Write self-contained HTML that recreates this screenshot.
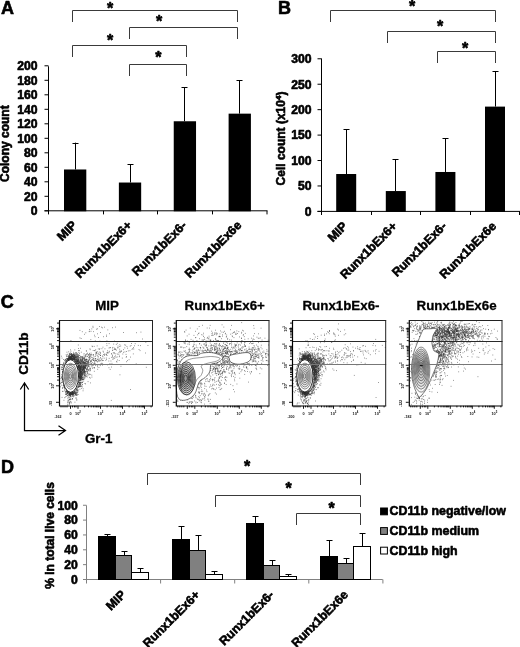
<!DOCTYPE html><html><head><meta charset="utf-8"><title>Figure</title><style>html,body{margin:0;padding:0;background:#fff}svg{display:block}text{stroke:#000;stroke-width:.6px;stroke-linejoin:round}text.t{stroke:none}</style></head><body><svg width="520" height="647" viewBox="0 0 520 647" font-family="Liberation Sans, Arial, sans-serif" font-weight="bold" fill="#000"><text x="1" y="13.9" font-size="18" text-anchor="start" >A</text>
<line x1="48.5" y1="66.3" x2="48.5" y2="211.3" stroke="#000" stroke-width="1"/>
<line x1="44.5" y1="210.8" x2="48.5" y2="210.8" stroke="#000" stroke-width="1"/>
<text x="37.5" y="215.10000000000002" font-size="12.2" text-anchor="end" >0</text>
<line x1="44.5" y1="196.3" x2="48.5" y2="196.3" stroke="#000" stroke-width="1"/>
<text x="37.5" y="200.60000000000002" font-size="12.2" text-anchor="end" >20</text>
<line x1="44.5" y1="181.8" x2="48.5" y2="181.8" stroke="#000" stroke-width="1"/>
<text x="37.5" y="186.10000000000002" font-size="12.2" text-anchor="end" >40</text>
<line x1="44.5" y1="167.3" x2="48.5" y2="167.3" stroke="#000" stroke-width="1"/>
<text x="37.5" y="171.60000000000002" font-size="12.2" text-anchor="end" >60</text>
<line x1="44.5" y1="152.8" x2="48.5" y2="152.8" stroke="#000" stroke-width="1"/>
<text x="37.5" y="157.10000000000002" font-size="12.2" text-anchor="end" >80</text>
<line x1="44.5" y1="138.3" x2="48.5" y2="138.3" stroke="#000" stroke-width="1"/>
<text x="37.5" y="142.60000000000002" font-size="12.2" text-anchor="end" >100</text>
<line x1="44.5" y1="123.80000000000001" x2="48.5" y2="123.80000000000001" stroke="#000" stroke-width="1"/>
<text x="37.5" y="128.10000000000002" font-size="12.2" text-anchor="end" >120</text>
<line x1="44.5" y1="109.30000000000001" x2="48.5" y2="109.30000000000001" stroke="#000" stroke-width="1"/>
<text x="37.5" y="113.60000000000001" font-size="12.2" text-anchor="end" >140</text>
<line x1="44.5" y1="94.80000000000001" x2="48.5" y2="94.80000000000001" stroke="#000" stroke-width="1"/>
<text x="37.5" y="99.10000000000001" font-size="12.2" text-anchor="end" >160</text>
<line x1="44.5" y1="80.30000000000001" x2="48.5" y2="80.30000000000001" stroke="#000" stroke-width="1"/>
<text x="37.5" y="84.60000000000001" font-size="12.2" text-anchor="end" >180</text>
<line x1="44.5" y1="65.80000000000001" x2="48.5" y2="65.80000000000001" stroke="#000" stroke-width="1"/>
<text x="37.5" y="70.10000000000001" font-size="12.2" text-anchor="end" >200</text>
<line x1="44.5" y1="210.8" x2="267.5" y2="210.8" stroke="#000" stroke-width="1"/>
<line x1="48.5" y1="210.8" x2="48.5" y2="214.4" stroke="#000" stroke-width="1"/>
<line x1="103.5" y1="210.8" x2="103.5" y2="214.4" stroke="#000" stroke-width="1"/>
<line x1="157.5" y1="210.8" x2="157.5" y2="214.4" stroke="#000" stroke-width="1"/>
<line x1="212.5" y1="210.8" x2="212.5" y2="214.4" stroke="#000" stroke-width="1"/>
<line x1="267" y1="210.8" x2="267" y2="214.4" stroke="#000" stroke-width="1"/>
<text x="9.5" y="143.7" font-size="12" text-anchor="middle" transform="rotate(-90 9.5 143.7)" >Colony count</text>
<rect x="64.00" y="169.48" width="22.3" height="41.82" fill="#000"/>
<line x1="75.5" y1="169.47500000000002" x2="75.5" y2="142.65000000000003" stroke="#000" stroke-width="1"/>
<line x1="72.5" y1="143.5" x2="78.5" y2="143.5" stroke="#000" stroke-width="1"/>
<text x="77.65" y="226.0" font-size="12.35" text-anchor="end" transform="rotate(-45 77.65 226.0)" >MIP</text>
<rect x="118.87" y="182.53" width="22.3" height="28.77" fill="#000"/>
<line x1="130.5" y1="182.525" x2="130.5" y2="164.03750000000002" stroke="#000" stroke-width="1"/>
<line x1="127.5" y1="164.5" x2="133.5" y2="164.5" stroke="#000" stroke-width="1"/>
<text x="132.52" y="226.0" font-size="12.35" text-anchor="end" transform="rotate(-45 132.52 226.0)" >Runx1bEx6+</text>
<rect x="173.74" y="121.26" width="22.3" height="90.04" fill="#000"/>
<line x1="184.5" y1="121.26250000000002" x2="184.5" y2="87.18750000000001" stroke="#000" stroke-width="1"/>
<line x1="181.5" y1="87.5" x2="187.5" y2="87.5" stroke="#000" stroke-width="1"/>
<text x="187.39000000000001" y="226.0" font-size="12.35" text-anchor="end" transform="rotate(-45 187.39000000000001 226.0)" >Runx1bEx6-</text>
<rect x="228.61" y="113.65" width="22.3" height="97.65" fill="#000"/>
<line x1="239.5" y1="113.65000000000002" x2="239.5" y2="80.30000000000001" stroke="#000" stroke-width="1"/>
<line x1="236.5" y1="80.5" x2="242.5" y2="80.5" stroke="#000" stroke-width="1"/>
<text x="242.26" y="226.0" font-size="12.35" text-anchor="end" transform="rotate(-45 242.26 226.0)" >Runx1bEx6e</text>
<path d="M72.5 22.0V10.5H237.5V22.0" fill="none" stroke="#3a3a3a" stroke-width="1"/>
<path d="M129.5 39.0V27.5H237.5V39.0" fill="none" stroke="#3a3a3a" stroke-width="1"/>
<path d="M72.5 57.0V45.5H186.5V57.0" fill="none" stroke="#3a3a3a" stroke-width="1"/>
<path d="M129.5 76.0V64.5H186.5V76.0" fill="none" stroke="#3a3a3a" stroke-width="1"/>
<text x="110" y="13.8" font-size="16" text-anchor="middle" >*</text>
<text x="159" y="27" font-size="16" text-anchor="middle" >*</text>
<text x="110" y="45.5" font-size="16" text-anchor="middle" >*</text>
<text x="158.4" y="63" font-size="16" text-anchor="middle" >*</text>
<text x="278" y="13.9" font-size="18" text-anchor="start" >B</text>
<line x1="321.5" y1="58.5" x2="321.5" y2="211.9" stroke="#000" stroke-width="1"/>
<line x1="317.5" y1="211.4" x2="321.5" y2="211.4" stroke="#000" stroke-width="1"/>
<text x="311.5" y="215.70000000000002" font-size="12.2" text-anchor="end" >0</text>
<line x1="317.5" y1="185.965" x2="321.5" y2="185.965" stroke="#000" stroke-width="1"/>
<text x="311.5" y="190.26500000000001" font-size="12.2" text-anchor="end" >50</text>
<line x1="317.5" y1="160.53" x2="321.5" y2="160.53" stroke="#000" stroke-width="1"/>
<text x="311.5" y="164.83" font-size="12.2" text-anchor="end" >100</text>
<line x1="317.5" y1="135.095" x2="321.5" y2="135.095" stroke="#000" stroke-width="1"/>
<text x="311.5" y="139.395" font-size="12.2" text-anchor="end" >150</text>
<line x1="317.5" y1="109.66" x2="321.5" y2="109.66" stroke="#000" stroke-width="1"/>
<text x="311.5" y="113.96" font-size="12.2" text-anchor="end" >200</text>
<line x1="317.5" y1="84.225" x2="321.5" y2="84.225" stroke="#000" stroke-width="1"/>
<text x="311.5" y="88.52499999999999" font-size="12.2" text-anchor="end" >250</text>
<line x1="317.5" y1="58.78999999999999" x2="321.5" y2="58.78999999999999" stroke="#000" stroke-width="1"/>
<text x="311.5" y="63.08999999999999" font-size="12.2" text-anchor="end" >300</text>
<line x1="317.5" y1="211.4" x2="520" y2="211.4" stroke="#000" stroke-width="1"/>
<line x1="321.5" y1="211.4" x2="321.5" y2="215.0" stroke="#000" stroke-width="1"/>
<line x1="371.5" y1="211.4" x2="371.5" y2="215.0" stroke="#000" stroke-width="1"/>
<line x1="420.5" y1="211.4" x2="420.5" y2="215.0" stroke="#000" stroke-width="1"/>
<line x1="470.5" y1="211.4" x2="470.5" y2="215.0" stroke="#000" stroke-width="1"/>
<line x1="519.5" y1="211.4" x2="519.5" y2="215.0" stroke="#000" stroke-width="1"/>
<text x="285.2" y="138.5" font-size="12" text-anchor="middle" transform="rotate(-90 285.2 138.5)">Cell count (x10<tspan font-size="8" dy="-4">4</tspan><tspan dy="4">)</tspan></text>
<rect x="336.20" y="174.01" width="20" height="37.89" fill="#000"/>
<line x1="346.5" y1="174.01055" x2="346.5" y2="129.4993" stroke="#000" stroke-width="1"/>
<line x1="343.5" y1="129.5" x2="349.5" y2="129.5" stroke="#000" stroke-width="1"/>
<text x="348.2" y="226.9" font-size="12.35" text-anchor="end" transform="rotate(-45 348.2 226.9)" >MIP</text>
<rect x="385.80" y="191.05" width="20" height="20.85" fill="#000"/>
<line x1="395.5" y1="191.052" x2="395.5" y2="159.0039" stroke="#000" stroke-width="1"/>
<line x1="392.5" y1="159.5" x2="398.5" y2="159.5" stroke="#000" stroke-width="1"/>
<text x="397.8" y="226.9" font-size="12.35" text-anchor="end" transform="rotate(-45 397.8 226.9)" >Runx1bEx6+</text>
<rect x="435.40" y="171.98" width="20" height="39.92" fill="#000"/>
<line x1="445.5" y1="171.97575" x2="445.5" y2="138.1472" stroke="#000" stroke-width="1"/>
<line x1="442.5" y1="138.5" x2="448.5" y2="138.5" stroke="#000" stroke-width="1"/>
<text x="447.4" y="226.9" font-size="12.35" text-anchor="end" transform="rotate(-45 447.4 226.9)" >Runx1bEx6-</text>
<rect x="485.00" y="106.61" width="20" height="105.29" fill="#000"/>
<line x1="495.5" y1="106.6078" x2="495.5" y2="70.99879999999999" stroke="#000" stroke-width="1"/>
<line x1="492.5" y1="71.5" x2="498.5" y2="71.5" stroke="#000" stroke-width="1"/>
<text x="497.0" y="226.9" font-size="12.35" text-anchor="end" transform="rotate(-45 497.0 226.9)" >Runx1bEx6e</text>
<path d="M330.5 22.0V10.5H495.5V22.0" fill="none" stroke="#3a3a3a" stroke-width="1"/>
<path d="M387.5 43.0V31.5H495.5V43.0" fill="none" stroke="#3a3a3a" stroke-width="1"/>
<path d="M437.5 63.0V51.5H495.5V63.0" fill="none" stroke="#3a3a3a" stroke-width="1"/>
<text x="412" y="12" font-size="16" text-anchor="middle" >*</text>
<text x="440" y="32" font-size="16" text-anchor="middle" >*</text>
<text x="465.2" y="54" font-size="16" text-anchor="middle" >*</text>
<text x="0.7" y="308" font-size="18" text-anchor="start" >C</text>
<text x="107" y="309.5" font-size="13.33" text-anchor="middle" style="stroke-width:.3px">MIP</text>
<text x="224.7" y="309.5" font-size="13.33" text-anchor="middle" style="stroke-width:.3px">Runx1bEx6+</text>
<text x="341" y="309.5" font-size="13.33" text-anchor="middle" style="stroke-width:.3px">Runx1bEx6-</text>
<text x="456.6" y="309.5" font-size="13.33" text-anchor="middle" style="stroke-width:.3px">Runx1bEx6e</text>
<text x="27.7" y="353.6" font-size="13.6" text-anchor="middle" transform="rotate(-90 27.7 353.6)" style="stroke-width:.35px">CD11b</text>
<text x="98.7" y="442.5" font-size="13.33" text-anchor="middle" style="stroke-width:.35px">Gr-1</text>
<path d="M24.5 383V430.5H65.5M20.3 389.5L24.5 383L28.7 389.5M58.5 425.8L65.5 430.5L58.5 435.2" fill="none" stroke="#000" stroke-width="1.25"/>
<g>
<path d="M74.6 360.2h.7M79.7 380.1h.7M61.6 367.7h.7M79.8 385.5h.7M61.7 378.6h.7M65.0 362.0h.7M74.1 358.3h.7M81.4 382.6h.7M74.6 357.6h.7M70.3 358.6h.7M71.8 393.5h.7M78.2 367.6h.7M69.8 393.7h.7M79.2 385.3h.7M82.8 372.1h.7M78.1 363.1h.7M65.7 359.1h.7M78.4 363.4h.7M72.5 355.2h.7M66.2 358.6h.7M69.6 357.8h.7M77.1 362.3h.7M79.5 377.7h.7M77.9 364.6h.7M62.6 369.5h.7M75.9 359.7h.7M77.1 387.1h.7M77.7 360.1h.7M80.0 372.0h.7M75.6 361.1h.7M65.6 394.3h.7M79.9 379.3h.7M85.0 383.9h.7M71.2 357.8h.7M75.8 357.2h.7M68.9 353.6h.7M77.0 359.9h.7M71.1 358.8h.7M69.0 359.1h.7M70.6 393.8h.7M75.9 357.8h.7M72.0 392.9h.7M75.8 362.0h.7M78.7 369.0h.7M66.7 390.9h.7M70.0 357.2h.7M71.2 354.9h.7M78.0 356.8h.7M79.6 376.2h.7M78.6 369.8h.7M72.0 393.5h.7M70.5 356.4h.7M69.2 395.1h.7M80.7 377.5h.7M84.7 367.4h.7M65.9 390.6h.7M76.5 394.4h.7M81.1 360.7h.7M79.8 377.8h.7M72.2 393.9h.7M80.6 382.9h.7M71.7 359.0h.7M66.6 393.2h.7M62.1 365.5h.7M84.3 368.0h.7M71.7 357.0h.7M80.1 379.2h.7M74.1 359.1h.7M70.1 393.8h.7M75.5 362.2h.7M70.6 358.8h.7M67.0 358.5h.7M79.4 362.2h.7M78.5 352.3h.7M78.7 365.1h.7M70.9 358.7h.7M72.4 358.6h.7M71.4 356.1h.7M70.3 358.3h.7M81.3 372.6h.7M67.8 358.8h.7M62.3 371.6h.7M74.1 356.4h.7M78.4 363.3h.7M69.4 357.9h.7M80.9 374.6h.7M79.7 376.3h.7M71.3 393.2h.7M71.7 392.9h.7M86.2 374.8h.7M79.5 373.7h.7M77.2 392.3h.7M71.0 393.0h.7M79.3 377.8h.7M80.3 371.9h.7M79.8 370.1h.7M68.3 358.4h.7M81.6 374.1h.7M80.2 370.0h.7M74.6 358.1h.7M65.4 392.2h.7M77.7 361.5h.7M76.2 362.9h.7M72.6 358.6h.7M70.6 357.5h.7M72.2 392.6h.7M71.5 392.7h.7M73.1 354.8h.7M80.3 372.6h.7M81.9 384.4h.7M66.1 360.6h.7M84.6 375.5h.7M79.1 370.6h.7M75.8 360.4h.7M69.9 354.6h.7M70.6 394.2h.7M79.4 365.6h.7M80.8 376.4h.7M71.9 356.6h.7M64.3 388.8h.7M81.0 388.4h.7M82.6 379.3h.7M83.2 369.2h.7M63.8 364.7h.7M80.4 379.0h.7M78.2 387.0h.7M74.2 355.2h.7M69.7 358.4h.7M74.6 354.9h.7M78.1 367.9h.7M69.3 358.2h.7M74.5 393.0h.7M81.3 376.6h.7M66.9 391.4h.7M68.9 358.1h.7M85.3 375.2h.7M69.0 356.9h.7M64.1 360.3h.7M70.8 393.6h.7M78.0 361.2h.7M66.4 361.1h.7M77.2 359.6h.7M67.5 360.0h.7M78.2 366.7h.7M69.7 393.3h.7M75.2 361.5h.7M71.3 358.3h.7M62.0 382.3h.7M69.4 353.7h.7M78.3 362.9h.7M79.7 367.6h.7M77.7 387.1h.7M74.3 360.5h.7M70.4 358.2h.7M71.5 356.4h.7M72.9 393.3h.7M69.6 356.8h.7M75.6 392.6h.7M78.5 382.9h.7M70.4 357.5h.7M82.8 388.8h.7M84.0 377.2h.7M82.1 372.4h.7M71.3 353.8h.7M68.8 358.7h.7M70.9 357.8h.7M74.4 391.6h.7M78.6 363.8h.7M76.9 390.7h.7M80.7 363.4h.7M74.0 358.5h.7M77.7 358.6h.7M76.3 363.0h.7M79.7 366.7h.7M78.9 365.0h.7M76.7 363.3h.7M67.1 356.2h.7M81.6 373.7h.7M66.7 391.2h.7M79.1 364.5h.7M66.4 391.0h.7M81.6 378.4h.7M70.2 393.2h.7M79.1 366.9h.7M80.6 366.1h.7M80.0 374.8h.7M80.1 371.0h.7M79.3 377.1h.7M76.4 389.1h.7M83.5 377.8h.7M80.5 376.5h.7M70.3 393.0h.7M66.4 394.7h.7M68.4 359.7h.7M80.7 376.8h.7M68.0 392.3h.7M76.9 361.0h.7M71.0 393.1h.7M66.3 393.9h.7M75.6 352.5h.7M76.2 391.9h.7M69.2 359.4h.7M79.2 386.6h.7M70.2 357.2h.7M80.6 362.1h.7M78.7 382.6h.7M70.5 356.1h.7M78.4 365.7h.7M79.7 376.8h.7M74.1 358.3h.7M70.9 392.9h.7M69.1 357.1h.7M69.5 357.4h.7M72.9 394.6h.7M79.3 382.0h.7M71.6 355.7h.7M64.3 387.5h.7M70.8 394.0h.7M69.9 356.7h.7M81.2 367.3h.7M79.0 383.8h.7M64.7 361.0h.7M75.8 361.1h.7M76.3 363.1h.7M63.4 364.0h.7M62.7 364.7h.7M70.2 393.5h.7M72.7 356.4h.7M78.2 359.6h.7M79.1 368.9h.7M76.4 359.7h.7M65.0 389.0h.7M66.7 392.2h.7M75.5 362.2h.7M71.2 358.8h.7M79.0 364.3h.7M63.9 386.8h.7M68.2 359.6h.7M77.0 364.1h.7M70.4 394.6h.7M77.0 358.4h.7M69.2 395.2h.7M67.4 359.5h.7M64.9 359.7h.7M70.5 357.7h.7M74.7 360.9h.7M71.5 393.5h.7M79.7 360.9h.7M78.3 364.8h.7M80.0 363.4h.7M78.9 367.1h.7M75.5 353.2h.7M79.9 366.5h.7M69.0 393.7h.7M80.6 377.5h.7M68.2 357.9h.7M81.4 359.1h.7M78.7 355.5h.7M72.2 356.1h.7M78.3 367.7h.7M76.1 361.6h.7M80.4 360.4h.7M80.0 372.4h.7M79.3 353.4h.7M80.3 372.1h.7M77.0 363.7h.7M82.0 364.8h.7M72.3 359.4h.7M74.1 355.6h.7M77.0 389.9h.7M69.7 358.5h.7M79.7 382.4h.7M69.7 358.5h.7M79.0 372.5h.7M84.1 374.6h.7M80.2 372.1h.7M77.3 362.8h.7M79.4 377.2h.7M63.6 386.3h.7M76.7 356.7h.7M79.0 357.5h.7M68.5 359.2h.7M79.0 367.2h.7M81.0 376.5h.7M75.2 359.8h.7M74.8 393.7h.7M69.9 392.9h.7M79.0 382.8h.7M73.6 358.5h.7M80.0 364.6h.7M64.9 360.3h.7M64.7 363.8h.7M72.2 392.6h.7M71.8 393.7h.7M70.8 359.1h.7M67.0 391.5h.7M74.5 356.8h.7M83.6 373.8h.7M78.6 358.7h.7M77.1 361.3h.7M80.1 359.6h.7M79.6 383.9h.7M76.8 354.5h.7M77.9 386.6h.7M80.9 366.3h.7M67.3 393.3h.7M80.1 366.1h.7M82.0 386.9h.7M77.7 356.1h.7M80.5 371.7h.7M70.9 358.4h.7M69.3 394.4h.7M79.7 373.4h.7M77.1 361.1h.7M78.0 365.8h.7M68.6 392.7h.7M77.9 386.1h.7M78.4 382.9h.7M68.8 395.1h.7M70.8 357.7h.7M67.9 359.6h.7M63.3 385.1h.7M71.1 354.7h.7M83.6 367.4h.7M69.1 359.4h.7M65.7 391.6h.7M71.0 357.5h.7M70.0 359.1h.7M74.4 391.3h.7M80.4 370.1h.7M76.6 388.2h.7M71.5 358.3h.7M75.9 353.1h.7M83.8 372.3h.7M71.2 353.5h.7M62.3 388.5h.7M71.9 392.9h.7M67.6 391.8h.7M64.8 362.3h.7M66.9 359.0h.7M79.7 384.6h.7M72.9 394.8h.7M62.4 367.3h.7M72.1 357.1h.7M68.0 359.8h.7M72.3 394.2h.7M81.6 375.0h.7M77.3 361.4h.7M78.5 359.7h.7M78.7 370.3h.7M75.4 356.4h.7M82.0 377.9h.7M80.5 380.7h.7M67.0 360.5h.7M70.6 358.0h.7M73.3 392.1h.7M73.4 393.7h.7M82.1 375.1h.7M72.3 358.0h.7M70.8 393.3h.7M78.4 363.1h.7M69.0 394.2h.7M69.9 352.8h.7M70.6 356.2h.7M81.6 380.2h.7M63.9 387.7h.7M78.1 390.1h.7M73.6 359.7h.7M71.7 357.6h.7M73.0 359.4h.7M73.1 356.1h.7M80.6 371.1h.7M73.9 359.6h.7M79.1 360.9h.7M80.0 382.9h.7M74.5 349.9h.7M65.6 360.9h.7M80.5 368.3h.7M77.7 357.3h.7M70.0 394.9h.7M64.6 388.3h.7M80.9 385.8h.7M79.1 370.8h.7M78.8 362.8h.7M77.8 363.4h.7M84.0 375.9h.7M66.9 359.4h.7M79.9 386.3h.7M61.2 374.8h.7M80.3 378.1h.7M78.1 357.7h.7M81.6 360.5h.7M80.8 368.1h.7M79.2 377.3h.7M79.7 377.3h.7M76.8 390.1h.7M79.0 365.7h.7M75.7 393.6h.7M79.5 375.8h.7M81.0 386.3h.7M70.1 393.6h.7M62.4 369.4h.7M69.5 393.0h.7M66.1 360.0h.7M79.7 386.2h.7M79.3 369.2h.7M70.6 354.4h.7M74.6 357.6h.7M70.2 358.9h.7M74.2 357.9h.7M79.2 374.3h.7M76.9 360.7h.7M80.5 383.9h.7M78.0 365.8h.7M76.1 361.4h.7M69.8 357.4h.7M65.5 393.0h.7M67.5 392.8h.7M78.3 356.1h.7M83.6 376.8h.7M79.3 370.8h.7M77.6 361.0h.7M77.8 387.4h.7M80.0 377.5h.7M71.9 356.0h.7M80.3 384.7h.7M78.9 362.6h.7M75.9 354.4h.7M76.3 362.8h.7M74.1 359.2h.7M72.8 354.8h.7M80.0 364.7h.7M73.4 392.8h.7M77.4 389.9h.7M62.1 371.6h.7M73.8 358.1h.7M76.8 390.4h.7M72.6 394.2h.7M78.5 369.3h.7M72.5 359.5h.7M70.6 393.3h.7M72.6 356.5h.7M79.4 367.6h.7M69.9 393.1h.7M71.3 355.2h.7M79.4 380.9h.7M78.3 366.6h.7M69.9 358.0h.7M81.2 378.0h.7M73.4 358.7h.7M76.6 355.5h.7M76.8 361.3h.7M80.0 369.8h.7M77.7 359.7h.7M61.7 367.5h.7M78.6 369.1h.7M81.7 382.1h.7M70.4 357.4h.7M75.0 359.6h.7M77.7 360.9h.7M76.5 363.6h.7M79.9 375.4h.7M78.5 384.6h.7M63.0 366.6h.7M78.6 369.7h.7M68.6 392.5h.7M72.7 356.1h.7M75.2 361.4h.7M73.5 356.9h.7M67.6 359.6h.7M76.4 353.1h.7M67.3 392.2h.7M73.7 356.1h.7M75.7 360.8h.7M78.3 360.3h.7M79.7 383.7h.7M70.8 357.2h.7M79.5 374.8h.7M69.2 357.4h.7M79.2 386.5h.7M81.8 361.7h.7M70.2 394.0h.7M79.7 361.6h.7M69.2 393.1h.7M69.2 392.7h.7M68.4 357.9h.7M73.1 393.9h.7M76.3 358.6h.7M72.2 393.1h.7M67.5 359.8h.7M63.3 363.5h.7M73.2 355.8h.7M78.5 361.7h.7M61.8 381.8h.7M77.8 354.5h.7M67.9 392.0h.7M80.5 373.0h.7M79.2 386.7h.7M80.8 371.9h.7M75.6 359.3h.7M71.9 359.1h.7M61.0 376.9h.7M77.0 361.2h.7M74.7 353.2h.7M71.2 393.8h.7M80.2 382.3h.7M79.2 374.0h.7M76.6 359.7h.7M80.7 370.0h.7M66.3 360.8h.7M73.4 359.4h.7M77.7 358.4h.7M80.8 366.3h.7M71.0 357.9h.7M73.1 392.9h.7M78.1 386.8h.7M75.8 360.2h.7M75.7 356.9h.7M75.6 359.2h.7M80.1 371.6h.7M61.1 377.5h.7M75.8 357.4h.7M65.8 362.0h.7M79.9 380.5h.7M77.5 386.1h.7M69.1 393.8h.7M84.8 367.6h.7M64.6 363.2h.7M79.4 373.3h.7M70.2 394.3h.7M80.5 383.1h.7M66.0 361.2h.7M68.9 394.4h.7M74.5 360.5h.7M80.1 362.8h.7M69.1 358.4h.7M71.3 359.0h.7M73.5 357.6h.7M68.6 357.5h.7M72.9 354.1h.7M76.7 361.6h.7M73.4 358.3h.7M74.6 393.6h.7M60.6 378.5h.7M69.8 359.0h.7M79.8 376.5h.7M85.6 362.2h.7M74.4 359.3h.7M81.0 376.1h.7M72.0 356.5h.7M71.5 355.9h.7M78.5 366.0h.7M77.0 361.3h.7M81.9 382.3h.7M82.3 359.1h.7M79.6 360.9h.7M78.0 366.7h.7M70.9 359.2h.7M77.0 363.7h.7M63.1 385.5h.7M73.8 393.1h.7M74.8 357.0h.7M69.8 359.2h.7M72.8 393.9h.7M80.0 379.1h.7M69.0 357.8h.7M71.6 354.6h.7M79.7 378.5h.7M68.9 357.3h.7M80.4 378.9h.7M67.0 392.8h.7M83.1 369.7h.7M64.1 390.1h.7M66.6 393.2h.7M85.6 367.0h.7M84.5 372.3h.7M70.1 393.4h.7M81.2 378.7h.7M76.7 363.3h.7M68.0 359.8h.7M72.4 393.0h.7M66.0 391.4h.7M68.0 359.4h.7M78.8 359.3h.7M79.1 369.7h.7M79.5 364.6h.7M78.1 363.0h.7M77.0 362.9h.7M74.7 361.1h.7M81.4 379.5h.7M80.3 371.4h.7M80.7 368.1h.7M78.7 364.7h.7M63.0 364.9h.7M70.4 395.1h.7M79.2 366.4h.7M78.2 350.5h.7M71.9 359.1h.7M74.5 357.6h.7M81.6 377.5h.7M67.8 358.5h.7M79.5 372.0h.7M78.4 384.9h.7M80.5 380.1h.7M79.0 383.1h.7M73.6 353.8h.7M76.3 389.5h.7M78.1 386.2h.7M73.1 358.9h.7M63.4 365.6h.7M78.2 367.2h.7M74.8 395.4h.7M73.3 357.2h.7M79.4 382.9h.7M65.6 391.3h.7M82.5 357.1h.7M77.2 363.8h.7M71.9 394.6h.7M74.4 391.6h.7M73.0 358.2h.7M70.6 393.4h.7M71.8 358.8h.7M61.4 385.2h.7M76.5 393.3h.7M74.9 361.4h.7M74.1 354.2h.7M82.1 384.8h.7M76.5 360.6h.7M75.8 392.8h.7M77.0 353.7h.7M65.4 362.0h.7M80.0 375.5h.7M80.0 376.8h.7M67.9 358.4h.7M69.9 354.1h.7M79.2 374.8h.7M69.4 358.4h.7M80.7 378.3h.7M63.6 387.3h.7M72.8 392.8h.7M70.4 358.5h.7M63.1 384.0h.7M77.8 366.6h.7M75.1 394.3h.7M75.7 361.2h.7M80.8 373.4h.7M70.5 393.5h.7M77.4 357.5h.7M70.9 394.6h.7M70.7 353.5h.7M69.5 357.7h.7M77.6 364.9h.7M80.0 363.6h.7M77.0 356.1h.7M76.3 357.3h.7M66.7 358.3h.7M79.6 362.1h.7M66.3 391.1h.7M81.7 379.7h.7M84.3 368.1h.7M70.7 356.4h.7M77.3 360.5h.7M81.5 379.0h.7M80.3 369.5h.7M70.6 393.2h.7M79.1 384.7h.7M78.3 363.9h.7M69.9 393.8h.7M82.1 382.4h.7M72.1 358.8h.7M68.1 393.4h.7M71.3 394.3h.7M74.1 359.4h.7M67.0 359.1h.7M74.8 358.6h.7M78.3 364.1h.7M81.6 369.0h.7M75.0 355.8h.7M70.2 395.0h.7M70.5 393.7h.7M80.3 379.5h.7M69.4 393.6h.7M71.6 355.9h.7M79.1 365.8h.7M69.1 395.1h.7M76.0 359.7h.7M67.4 393.0h.7M83.4 381.1h.7M78.2 365.6h.7M70.3 395.9h.7M72.3 354.7h.7M72.1 355.8h.7M69.0 356.9h.7M67.2 395.6h.7M73.4 392.7h.7M67.4 388.1h.7M73.8 354.8h.7M68.2 396.9h.7M74.2 380.1h.7M74.2 366.9h.7M67.9 369.4h.7M77.9 376.4h.7M81.3 376.5h.7M82.0 375.8h.7M65.1 396.9h.7M73.5 387.4h.7M72.8 370.9h.7M72.5 362.2h.7M65.0 367.9h.7M68.7 361.2h.7M71.0 378.6h.7M82.7 390.8h.7M71.3 384.9h.7M70.4 379.8h.7M71.4 369.1h.7M72.0 358.5h.7M74.0 370.8h.7M65.6 373.5h.7M74.6 366.2h.7M74.2 380.2h.7M80.2 359.4h.7M71.0 380.9h.7M79.9 374.5h.7M75.8 357.0h.7M68.4 394.8h.7M70.0 399.6h.7M67.6 373.6h.7M62.8 385.7h.7M73.1 396.8h.7M72.5 371.8h.7M63.8 377.3h.7M76.8 381.1h.7M78.4 381.8h.7M71.3 381.8h.7M72.6 359.8h.7M81.1 375.3h.7M65.8 381.7h.7M73.2 385.4h.7M79.6 337.9h.7M74.7 390.8h.7M66.4 356.5h.7M73.1 378.1h.7M73.5 361.8h.7M69.0 378.2h.7M75.7 397.7h.7M73.2 367.6h.7M70.9 374.1h.7M66.1 385.4h.7M61.7 380.3h.7M72.3 378.1h.7M78.8 370.9h.7M72.1 384.4h.7M63.0 375.3h.7M72.0 385.5h.7M67.2 385.8h.7M73.7 357.5h.7M63.4 362.4h.7M72.4 377.0h.7M75.6 382.5h.7M68.5 388.2h.7M76.2 378.4h.7M74.3 359.5h.7M73.6 362.6h.7M65.0 373.8h.7M72.4 374.1h.7M69.8 364.6h.7M72.6 366.3h.7M63.8 379.3h.7M79.7 367.1h.7M65.7 392.9h.7M81.1 367.8h.7M70.4 377.9h.7M88.0 369.7h.7M77.1 377.7h.7M61.5 366.8h.7M64.7 382.7h.7M72.2 394.8h.7M70.1 379.1h.7M72.0 376.4h.7M84.5 372.9h.7M79.8 386.2h.7M68.2 384.1h.7M69.5 377.1h.7M72.5 374.9h.7M69.0 393.6h.7M70.1 383.5h.7M81.0 378.2h.7M77.3 388.2h.7M77.7 391.8h.7M63.6 400.3h.7M71.8 355.3h.7M68.0 360.8h.7M71.5 358.3h.7M66.0 380.6h.7M72.5 365.7h.7M70.3 374.4h.7M72.0 374.8h.7M70.4 385.4h.7M62.6 373.1h.7M72.3 370.2h.7M68.5 371.4h.7M72.8 388.5h.7M70.6 372.4h.7M73.6 371.5h.7M60.8 382.5h.7M69.5 369.4h.7M75.1 374.1h.7M68.4 351.8h.7M62.0 379.1h.7M70.9 380.2h.7M72.8 369.1h.7M64.5 365.6h.7M70.8 362.4h.7M75.8 358.3h.7M61.6 376.9h.7M61.7 397.4h.7M66.0 376.7h.7M70.2 366.3h.7M61.7 358.1h.7M76.4 384.5h.7M83.7 353.6h.7M74.7 373.6h.7M76.3 367.3h.7M75.6 383.4h.7M75.0 389.9h.7M70.6 392.8h.7M67.7 395.4h.7M67.1 376.9h.7M77.4 380.7h.7M72.1 394.0h.7M63.3 369.2h.7M80.1 375.2h.7M60.0 383.6h.7M65.0 394.4h.7M78.0 366.2h.7M78.8 362.6h.7M76.8 379.4h.7M70.9 359.3h.7M70.0 349.8h.7M68.4 355.4h.7M78.4 361.3h.7M73.7 368.4h.7M83.5 378.8h.7M72.0 367.6h.7M77.0 366.1h.7M63.7 377.8h.7M62.2 378.9h.7M75.9 390.2h.7M73.1 376.6h.7M75.8 389.0h.7M69.8 361.9h.7M67.2 362.6h.7M66.6 375.7h.7M73.5 376.0h.7M72.0 370.8h.7M74.0 384.0h.7M75.9 390.1h.7M70.0 372.8h.7M81.1 373.4h.7M73.9 370.3h.7M77.0 368.2h.7M66.0 376.6h.7M69.1 385.4h.7M69.5 377.3h.7M70.4 379.3h.7M68.1 388.9h.7M63.6 373.9h.7M67.6 383.9h.7M71.8 380.4h.7M69.8 367.7h.7M65.3 373.8h.7M68.6 379.4h.7M73.6 385.2h.7M71.0 366.8h.7M65.7 378.1h.7M73.6 396.1h.7M72.6 394.4h.7M82.1 358.9h.7M78.4 385.0h.7M79.1 371.8h.7M76.9 367.4h.7M71.2 375.4h.7M81.6 368.5h.7M76.9 373.5h.7M67.6 379.4h.7M75.3 365.5h.7M75.2 365.5h.7M66.7 379.5h.7M70.3 364.5h.7M62.5 379.0h.7M73.0 369.3h.7M72.6 357.4h.7M73.8 378.8h.7M73.2 367.5h.7M72.0 376.3h.7M77.6 375.7h.7M73.0 366.3h.7M76.4 386.2h.7M68.8 383.3h.7M73.3 373.8h.7M64.4 397.7h.7M61.2 382.7h.7M69.5 388.8h.7M69.2 376.4h.7M75.0 378.7h.7M68.7 383.9h.7M73.8 385.2h.7M68.7 375.7h.7M69.4 366.5h.7M73.0 379.0h.7M79.5 368.1h.7M73.8 387.0h.7M71.0 376.0h.7M72.3 366.9h.7M66.1 389.8h.7M72.6 373.8h.7M64.7 379.2h.7M78.2 359.4h.7M66.6 389.5h.7M79.6 389.2h.7M68.5 383.0h.7M67.4 382.6h.7M69.6 378.0h.7M79.1 375.7h.7M70.3 376.2h.7M73.1 368.6h.7M72.8 381.3h.7M80.3 348.3h.7M65.0 363.9h.7M76.5 400.3h.7M72.7 375.9h.7M77.9 345.0h.7M70.6 340.5h.7M72.5 369.0h.7M68.9 379.9h.7M68.3 388.8h.7M71.6 379.3h.7M85.7 364.2h.7M76.8 363.6h.7M78.5 382.9h.7M72.4 385.8h.7M80.5 386.7h.7M71.6 374.4h.7M77.8 356.0h.7M68.3 381.8h.7M74.8 394.5h.7M81.4 374.6h.7M74.1 359.3h.7M70.6 378.3h.7M70.3 376.2h.7M75.0 363.0h.7M68.5 356.5h.7M78.0 360.6h.7M62.2 387.5h.7M70.4 386.3h.7M69.6 399.5h.7M75.6 375.1h.7M72.2 372.4h.7M76.1 395.4h.7M69.3 363.8h.7M74.9 385.5h.7M63.3 370.7h.7M66.1 383.5h.7M74.4 365.7h.7M65.4 385.2h.7M60.2 386.8h.7M70.7 396.7h.7M77.1 366.3h.7M70.1 372.5h.7M67.6 377.6h.7M76.9 356.1h.7M70.3 392.1h.7M75.7 364.3h.7M67.1 367.3h.7M62.7 391.4h.7M72.0 367.1h.7M63.7 374.0h.7M68.8 395.3h.7M69.1 377.3h.7M77.5 380.0h.7M70.6 351.2h.7M79.3 378.5h.7M69.2 375.0h.7M66.3 367.2h.7M63.4 383.9h.7M74.5 375.8h.7M75.9 379.2h.7M72.3 364.9h.7M74.9 386.8h.7M75.1 387.4h.7M69.0 365.2h.7M78.5 365.7h.7M72.9 372.3h.7M71.7 372.0h.7M68.6 356.5h.7M82.1 372.9h.7M61.0 369.3h.7M65.4 369.3h.7M80.6 368.6h.7M75.7 380.0h.7M64.8 391.3h.7M62.3 372.4h.7M69.6 389.7h.7M72.3 373.4h.7M67.2 377.8h.7M71.8 383.0h.7M79.3 380.0h.7M71.7 373.3h.7M80.4 373.6h.7M71.5 394.9h.7M80.2 377.7h.7M71.0 368.2h.7M77.5 367.6h.7M76.9 364.2h.7M72.2 379.2h.7M72.4 377.3h.7M73.7 361.8h.7M65.5 375.9h.7M81.5 369.6h.7M66.5 369.8h.7M71.8 388.0h.7M68.5 382.5h.7M72.6 370.7h.7M66.4 375.4h.7M67.6 382.5h.7M62.0 391.4h.7M75.8 379.7h.7M79.8 378.3h.7M62.3 379.4h.7M74.1 366.5h.7M65.4 382.3h.7M74.4 369.2h.7M70.3 370.0h.7M68.5 375.6h.7M77.5 354.9h.7M69.7 393.5h.7M73.3 376.0h.7M76.2 362.1h.7M65.0 359.5h.7M63.6 381.0h.7M84.9 365.5h.7M79.8 373.1h.7M84.1 369.2h.7M75.8 371.5h.7M73.7 376.8h.7M79.3 368.4h.7M87.1 372.2h.7M83.7 369.7h.7M82.7 366.3h.7M81.9 378.8h.7M79.2 368.4h.7M82.6 373.4h.7M84.9 362.9h.7M81.7 368.5h.7M78.0 372.8h.7M80.5 375.1h.7M83.5 364.7h.7M82.4 367.6h.7M80.0 368.7h.7M85.6 365.0h.7M76.4 369.9h.7M84.8 377.8h.7M78.6 370.3h.7M81.0 363.6h.7M83.4 368.3h.7M83.0 379.5h.7M81.2 373.9h.7M84.9 364.5h.7M80.1 378.4h.7M84.5 368.5h.7M78.5 376.4h.7M83.8 378.7h.7M87.0 369.8h.7M83.0 369.2h.7M80.3 372.3h.7M82.9 372.0h.7M85.7 368.4h.7M80.3 374.7h.7M87.2 361.8h.7M83.5 371.1h.7M83.9 370.6h.7M81.8 369.2h.7M87.7 373.7h.7M77.5 360.8h.7M83.5 365.2h.7M80.4 363.1h.7M83.3 368.4h.7M80.3 375.1h.7M90.1 370.7h.7M86.0 364.7h.7M84.3 367.7h.7M85.9 369.5h.7M82.0 372.2h.7M79.7 375.0h.7M87.1 364.2h.7M83.9 360.2h.7M85.2 371.4h.7M78.7 380.3h.7M82.5 361.0h.7M77.6 377.0h.7M81.2 375.4h.7M77.0 372.8h.7M85.3 363.9h.7M84.3 366.2h.7M83.2 370.2h.7M89.5 358.2h.7M84.7 373.9h.7M78.4 372.6h.7M89.7 369.0h.7M72.3 375.5h.7M76.5 375.1h.7M79.7 368.6h.7M79.3 372.9h.7M80.6 366.3h.7M81.4 372.0h.7M79.3 376.9h.7M76.6 375.4h.7M80.8 377.9h.7M80.0 367.9h.7M77.7 382.2h.7M84.1 362.8h.7M81.0 365.7h.7M87.1 367.8h.7M75.4 375.4h.7M85.1 367.3h.7M83.7 367.8h.7M82.8 370.0h.7M79.8 372.9h.7M82.6 368.9h.7M79.8 366.3h.7M82.9 372.8h.7M74.1 372.8h.7M86.6 370.6h.7M79.7 377.7h.7M78.8 368.1h.7M88.5 362.8h.7M81.4 362.1h.7M78.8 366.3h.7M81.6 361.1h.7M85.6 365.2h.7M80.1 367.9h.7M84.6 375.0h.7M80.8 378.2h.7M87.4 372.0h.7M83.1 361.7h.7M84.3 365.9h.7M82.7 360.0h.7M81.2 371.3h.7M79.0 373.2h.7M87.6 366.6h.7M79.8 382.5h.7M75.0 370.3h.7M83.5 365.7h.7M74.5 376.3h.7M84.9 363.7h.7M87.0 368.4h.7M86.0 359.3h.7M82.1 377.2h.7M88.8 370.9h.7M82.1 370.4h.7M80.0 376.3h.7M79.8 371.8h.7M75.3 367.3h.7M88.0 365.5h.7M82.8 358.5h.7M82.0 379.5h.7M77.1 361.7h.7M81.6 367.3h.7M81.4 364.0h.7M77.6 366.9h.7M84.2 367.7h.7M84.8 362.3h.7M84.1 366.0h.7M82.4 373.8h.7M82.2 367.7h.7M76.6 373.8h.7M84.7 364.6h.7M81.9 361.2h.7M77.7 374.7h.7M86.4 364.9h.7M76.5 371.7h.7M76.9 372.0h.7M88.5 366.3h.7M81.6 374.9h.7M80.8 372.0h.7M82.8 371.2h.7M77.2 376.5h.7M85.0 356.4h.7M73.1 371.8h.7M87.1 366.0h.7M84.4 370.5h.7M85.1 364.3h.7M80.1 372.7h.7M84.1 370.8h.7M83.2 366.3h.7M85.8 369.1h.7M85.7 354.6h.7M85.5 355.3h.7M82.8 365.8h.7M82.5 366.9h.7M81.1 371.2h.7M83.3 364.8h.7M73.6 371.9h.7M83.9 364.1h.7M83.5 366.7h.7M78.9 377.5h.7M87.7 365.0h.7M81.9 374.3h.7M77.6 368.5h.7M85.9 371.1h.7M80.4 366.9h.7M83.3 361.8h.7M80.4 369.6h.7M73.8 378.4h.7M84.7 372.8h.7M77.3 366.8h.7M79.4 365.2h.7M89.0 359.7h.7M81.0 371.3h.7M83.6 375.4h.7M78.4 376.4h.7M82.6 363.4h.7M82.6 362.3h.7M87.6 362.0h.7M85.5 373.4h.7M80.0 366.6h.7M82.5 364.1h.7M85.1 368.1h.7M79.5 368.0h.7M84.5 360.7h.7M87.8 361.5h.7M81.4 365.5h.7M87.6 369.5h.7M86.5 369.5h.7M82.4 377.6h.7M84.3 370.0h.7M84.1 371.7h.7M83.0 368.0h.7M76.7 383.5h.7M77.7 362.2h.7M79.7 380.7h.7M86.2 363.5h.7M83.0 368.7h.7M75.4 372.8h.7M83.1 374.5h.7M78.0 361.4h.7M76.8 375.0h.7M82.4 370.0h.7M82.6 367.3h.7M77.5 375.1h.7M83.4 371.4h.7M86.3 360.3h.7M74.2 366.5h.7M89.4 359.7h.7M83.5 368.4h.7M84.6 383.5h.7M80.3 369.9h.7M80.1 372.2h.7M83.9 363.5h.7M86.6 371.9h.7M83.6 367.9h.7M81.3 362.0h.7M84.3 363.1h.7M80.4 375.6h.7M79.0 369.2h.7M85.0 376.5h.7M79.8 376.6h.7M79.9 373.0h.7M83.7 362.7h.7M85.6 375.8h.7M82.3 370.7h.7M78.1 381.2h.7M82.3 363.1h.7M84.7 360.4h.7M79.8 360.7h.7M86.8 377.0h.7M79.9 367.9h.7M80.1 368.2h.7M84.0 375.3h.7M78.7 374.2h.7M76.0 381.4h.7M81.8 366.3h.7M87.3 365.2h.7M86.8 371.4h.7M87.7 361.5h.7M82.3 371.2h.7M81.4 377.5h.7M79.7 376.2h.7M86.7 356.5h.7M78.8 367.5h.7M80.2 372.8h.7M81.5 370.3h.7M80.5 370.2h.7M83.7 372.0h.7M79.4 370.9h.7M79.5 370.5h.7M77.2 377.7h.7M84.4 367.2h.7M79.8 369.0h.7M79.8 363.6h.7M87.7 381.6h.7M77.9 366.8h.7M84.1 371.0h.7M76.8 364.0h.7M83.9 358.4h.7M86.9 363.5h.7M82.4 369.3h.7M80.2 370.2h.7M81.1 376.4h.7M81.8 369.6h.7M80.3 367.7h.7M79.6 371.4h.7M88.3 370.4h.7M82.9 377.1h.7M85.5 368.0h.7M81.5 364.5h.7M82.9 367.3h.7M76.7 367.1h.7M88.7 365.8h.7M83.8 369.3h.7M80.5 372.9h.7M85.8 365.3h.7M83.8 373.3h.7M80.5 371.5h.7M79.6 374.3h.7M80.8 376.0h.7M79.5 379.7h.7M81.0 366.1h.7M79.0 375.0h.7M79.2 380.5h.7M86.5 368.9h.7M77.3 372.9h.7M79.6 362.4h.7M83.5 379.3h.7M80.3 374.8h.7M86.5 361.6h.7M80.9 371.7h.7M83.7 362.7h.7M82.8 368.4h.7M85.3 359.3h.7M80.2 368.4h.7M81.0 373.8h.7M80.0 384.5h.7M79.7 375.4h.7M85.6 371.7h.7M81.4 365.9h.7M81.2 373.4h.7M82.5 372.1h.7M84.1 363.7h.7M78.9 378.9h.7M80.4 362.9h.7M88.4 360.8h.7M78.9 376.6h.7M78.3 368.0h.7M85.7 362.9h.7M90.6 363.8h.7M91.2 363.5h.7M82.3 366.2h.7M81.3 367.6h.7M82.0 373.3h.7M77.8 368.1h.7M75.0 382.1h.7M81.8 369.6h.7M81.9 374.6h.7M83.2 372.9h.7M81.5 369.3h.7M81.9 360.5h.7M85.8 359.1h.7M78.7 375.3h.7M82.3 373.4h.7M77.6 360.7h.7M76.4 356.5h.7M78.8 355.2h.7M71.3 359.0h.7M70.9 356.8h.7M70.4 359.7h.7M63.0 359.5h.7M75.3 356.9h.7M73.6 355.1h.7M75.5 363.1h.7M68.4 359.8h.7M71.4 356.3h.7M69.9 356.6h.7M67.2 354.3h.7M77.4 357.0h.7M73.5 357.6h.7M73.3 353.9h.7M68.3 358.3h.7M75.1 354.7h.7M69.6 354.9h.7M73.9 357.7h.7M71.7 355.7h.7M72.8 357.1h.7M69.0 357.7h.7M69.3 358.9h.7M73.8 355.6h.7M73.7 357.1h.7M69.1 355.2h.7M65.8 354.7h.7M72.8 359.4h.7M69.4 357.3h.7M72.8 358.6h.7M73.2 359.5h.7M74.3 355.5h.7M73.0 352.3h.7M71.0 357.0h.7M73.6 356.4h.7M74.5 359.6h.7M68.7 355.9h.7M72.5 358.0h.7M72.1 358.7h.7M67.5 358.6h.7M75.7 359.2h.7M73.1 356.5h.7M73.0 356.9h.7M66.0 355.8h.7M71.5 356.0h.7M68.3 356.5h.7M70.3 357.1h.7M71.4 357.3h.7M75.1 357.3h.7M73.0 354.6h.7M61.3 356.2h.7M74.0 356.3h.7M69.4 354.5h.7M74.7 355.9h.7M72.5 359.3h.7M73.5 361.5h.7M71.1 358.9h.7M74.0 355.7h.7M71.8 355.9h.7M68.0 357.6h.7M68.9 360.4h.7M69.0 355.9h.7M71.9 356.0h.7M71.8 355.8h.7M66.6 352.2h.7M67.1 360.0h.7M73.2 357.3h.7M70.0 356.7h.7M72.6 354.2h.7M68.8 355.2h.7M76.0 354.9h.7M75.7 356.1h.7M81.1 356.8h.7M71.7 359.7h.7M74.7 358.9h.7M67.9 359.3h.7M77.5 356.8h.7M69.9 354.8h.7M75.2 357.6h.7M71.6 354.5h.7M77.3 358.8h.7M71.5 360.0h.7M68.3 358.8h.7M68.1 359.8h.7M70.6 359.4h.7M70.1 357.8h.7M75.6 355.2h.7M71.9 355.3h.7M73.7 392.8h.7M70.7 393.6h.7M74.5 391.9h.7M71.5 393.3h.7M70.2 392.4h.7M71.2 394.4h.7M67.7 394.5h.7M68.6 394.0h.7M77.3 392.1h.7M71.4 393.5h.7M74.1 393.1h.7M67.1 390.8h.7M72.0 394.5h.7M74.3 392.9h.7M73.3 391.9h.7M74.8 393.9h.7M69.9 394.4h.7M76.0 392.3h.7M68.5 392.0h.7M68.7 393.9h.7M72.5 393.7h.7M72.1 396.4h.7M70.9 391.5h.7M65.9 394.5h.7M69.9 393.5h.7M72.6 394.9h.7M67.7 392.1h.7M71.8 393.7h.7M74.5 393.0h.7M66.4 396.3h.7M67.5 392.1h.7M72.6 391.9h.7M77.8 394.5h.7M72.9 393.1h.7M77.1 395.1h.7M69.8 396.5h.7M67.4 392.8h.7M72.3 394.3h.7M69.2 397.2h.7M75.3 392.1h.7M72.5 392.7h.7M70.5 396.0h.7M71.9 393.8h.7M71.9 391.7h.7M74.7 392.5h.7M74.9 393.1h.7M70.5 397.0h.7M72.1 392.7h.7M70.3 395.2h.7M76.3 395.2h.7M70.6 391.8h.7M69.9 393.8h.7M72.2 392.7h.7M74.8 392.1h.7M69.8 395.0h.7M72.8 393.2h.7M74.0 391.2h.7M75.7 398.4h.7M76.5 394.2h.7M76.5 394.1h.7M74.9 393.6h.7M72.1 395.0h.7M67.2 393.6h.7M75.9 388.2h.7M72.6 395.8h.7M72.4 394.4h.7M75.1 394.7h.7M66.9 392.1h.7M70.9 394.3h.7M70.5 393.8h.7M106.1 336.4h.7M100.1 332.5h.7M94.2 335.2h.7M96.1 329.2h.7M102.1 327.8h.7M93.0 331.6h.7M80.8 338.5h.7M92.7 327.4h.7M92.6 326.3h.7M109.2 333.7h.7M115.3 327.1h.7M101.2 327.2h.7M84.1 334.3h.7M98.0 337.5h.7M90.5 339.6h.7M104.0 327.2h.7M91.5 328.9h.7M112.2 327.7h.7M103.2 336.7h.7M90.7 331.3h.7M97.2 328.8h.7M79.6 330.4h.7M97.2 333.8h.7M99.0 326.5h.7M106.1 335.1h.7M94.9 340.9h.7M89.4 331.2h.7M81.9 331.7h.7M94.7 336.7h.7M107.5 329.9h.7M85.5 332.8h.7M88.8 331.6h.7M89.1 329.5h.7M70.2 398.7h.7M69.9 395.2h.7M70.8 403.0h.7M72.1 398.5h.7M67.4 395.5h.7M67.4 398.1h.7M69.6 393.6h.7M72.1 394.6h.7M68.6 397.8h.7M69.5 399.6h.7M69.4 399.9h.7M67.6 400.3h.7M68.4 402.1h.7M69.0 403.0h.7M70.9 393.7h.7M72.2 398.8h.7M67.4 402.4h.7M69.1 403.6h.7M69.0 404.3h.7M70.8 402.1h.7M70.8 399.2h.7M69.5 402.5h.7M72.2 399.1h.7M67.4 405.0h.7M70.2 401.6h.7M68.3 400.4h.7M73.6 395.5h.7M69.2 402.1h.7M69.3 399.3h.7M67.6 401.7h.7M67.6 404.0h.7M76.5 399.4h.7M74.6 402.2h.7M68.7 399.3h.7M89.1 377.4h.7M130.0 389.5h.7M105.9 358.0h.7M110.9 400.4h.7M119.6 374.8h.7M61.6 369.3h.7M126.1 361.7h.7M145.9 367.3h.7M93.5 367.7h.7M97.9 348.9h.7M83.8 362.4h.7M114.1 356.8h.7M102.7 351.2h.7M98.6 360.0h.7M81.7 366.6h.7M116.9 343.3h.7M99.9 365.6h.7M89.8 369.9h.7M101.0 359.3h.7M101.6 360.7h.7M80.9 357.7h.7M84.2 366.2h.7M94.9 363.9h.7M99.5 361.3h.7M98.9 352.1h.7M120.6 366.3h.7M84.6 374.2h.7M98.9 354.3h.7M112.5 350.0h.7M88.6 354.7h.7M87.8 359.2h.7M102.2 356.0h.7M95.5 358.7h.7M118.6 352.7h.7M84.8 367.2h.7M82.0 359.5h.7M87.1 356.3h.7M114.3 352.8h.7M83.5 369.0h.7M81.7 360.6h.7M80.2 374.0h.7M91.8 367.0h.7M86.4 376.5h.7M97.7 353.2h.7M112.7 357.6h.7M80.9 352.2h.7M93.7 356.7h.7M90.1 356.1h.7M96.4 360.7h.7M88.5 374.8h.7M74.6 358.6h.7M117.8 347.7h.7M87.3 360.0h.7M80.2 357.4h.7M100.1 364.0h.7M88.2 357.3h.7M80.8 361.5h.7M112.1 350.5h.7M118.8 360.5h.7M83.3 365.9h.7M107.6 352.6h.7M91.4 354.6h.7M81.9 358.7h.7M89.5 357.2h.7M88.4 354.7h.7M86.4 361.5h.7M79.6 371.1h.7M126.0 351.5h.7M113.7 353.6h.7M96.8 345.9h.7M132.5 348.5h.7M94.3 367.9h.7M134.8 343.6h.7M109.8 369.4h.7M83.8 361.0h.7M83.2 362.6h.7M94.3 364.0h.7M84.8 365.7h.7M84.4 360.0h.7M117.3 347.8h.7M86.1 364.1h.7M108.6 367.7h.7M94.2 350.5h.7M78.5 373.5h.7M100.3 357.5h.7M92.4 362.6h.7M88.9 357.9h.7M85.1 361.0h.7M114.3 348.2h.7M81.8 356.5h.7M107.2 350.8h.7M130.7 345.5h.7M135.8 363.8h.7M85.3 366.4h.7M81.0 372.8h.7M116.0 350.1h.7M123.1 352.3h.7M102.1 360.4h.7M109.6 363.5h.7M83.6 355.0h.7M105.5 360.4h.7M90.5 355.8h.7M106.7 355.5h.7M86.9 354.1h.7M82.4 379.5h.7M110.6 361.0h.7M119.7 351.9h.7M111.2 367.0h.7M124.5 347.9h.7M97.8 357.9h.7M117.1 359.9h.7M99.7 358.6h.7M99.0 360.2h.7M83.7 370.1h.7M88.0 366.6h.7M119.4 349.2h.7M92.1 368.3h.7M89.9 374.4h.7M89.9 378.1h.7M84.8 363.1h.7M81.9 362.2h.7M91.5 359.9h.7M91.5 375.1h.7M81.7 364.9h.7M106.3 359.4h.7M93.3 360.5h.7M95.0 358.6h.7M86.3 361.3h.7M109.6 347.6h.7M133.5 349.1h.7M84.9 367.8h.7M80.4 359.2h.7M142.2 339.0h.7M137.9 345.4h.7M90.2 360.8h.7M79.5 355.6h.7M82.3 357.4h.7M77.3 369.1h.7M90.3 382.9h.7M89.6 363.1h.7M79.9 367.6h.7M80.5 363.3h.7M93.8 346.4h.7M94.2 367.7h.7M95.2 358.9h.7M96.3 352.6h.7M97.0 355.9h.7M87.2 362.9h.7M81.6 370.8h.7M120.4 346.0h.7M113.4 344.1h.7M77.6 361.3h.7M102.0 365.2h.7M90.8 354.9h.7M81.6 362.9h.7M94.9 364.8h.7M127.0 360.6h.7M79.7 371.7h.7M83.7 373.3h.7M127.1 348.2h.7M92.9 358.4h.7M104.5 353.9h.7M140.6 332.1h.7M95.4 360.4h.7M92.8 350.5h.7M99.5 348.6h.7M96.5 355.0h.7M73.5 359.3h.7M85.0 365.1h.7M101.7 358.7h.7M88.0 363.0h.7M99.7 354.9h.7M97.4 369.3h.7M145.5 342.3h.7M92.9 354.8h.7M87.0 353.2h.7M138.7 349.5h.7M94.4 363.6h.7M119.5 344.7h.7M139.7 350.6h.7M83.7 367.5h.7M107.6 353.1h.7M114.5 349.3h.7M117.3 354.1h.7M140.1 345.6h.7M77.4 373.3h.7M77.9 365.5h.7M97.2 366.8h.7M81.6 369.5h.7M82.6 358.3h.7M117.7 346.1h.7M84.7 359.5h.7M122.5 354.0h.7M104.5 354.5h.7M111.5 354.3h.7M79.2 362.1h.7M97.3 361.9h.7M80.2 356.5h.7M87.2 373.5h.7M83.0 363.1h.7M84.5 356.1h.7M86.4 359.6h.7M88.5 362.5h.7M111.4 357.4h.7M102.9 360.5h.7M88.5 360.4h.7M88.4 360.9h.7M125.4 345.2h.7M87.5 375.1h.7M89.6 348.8h.7M83.6 362.7h.7M95.8 360.3h.7M90.2 368.3h.7M89.6 368.8h.7M85.1 368.1h.7M111.6 363.4h.7M85.5 357.0h.7M92.0 346.6h.7M132.9 353.9h.7M81.1 372.2h.7M123.3 332.5h.7M83.6 371.9h.7M85.7 363.7h.7M108.7 348.0h.7M84.4 366.7h.7M77.3 369.0h.7M89.3 354.2h.7M130.0 357.1h.7M88.0 363.6h.7M96.0 353.5h.7M89.6 357.1h.7M85.3 371.8h.7M95.3 354.8h.7M88.3 355.2h.7M97.6 359.4h.7M83.7 357.4h.7M131.7 349.4h.7M96.4 352.9h.7M79.3 373.6h.7M106.6 345.6h.7M121.1 351.4h.7M97.9 356.4h.7M78.6 363.1h.7M108.9 351.3h.7M90.8 361.1h.7M85.1 366.5h.7M104.6 348.8h.7M103.0 354.6h.7M95.4 365.3h.7M110.2 347.6h.7M80.7 361.9h.7M121.9 358.1h.7M124.6 351.9h.7M83.1 363.5h.7M90.8 361.4h.7M108.7 343.6h.7M87.6 362.4h.7M125.8 357.3h.7M90.6 362.1h.7M82.1 365.1h.7M107.4 352.7h.7M112.0 355.4h.7M81.8 364.6h.7M115.0 349.6h.7M106.4 353.0h.7M94.7 350.7h.7M81.6 361.2h.7M83.4 358.3h.7M101.6 363.5h.7M85.4 364.2h.7M79.9 364.3h.7M89.1 374.2h.7M82.5 362.6h.7M93.6 358.4h.7M85.4 362.3h.7M85.9 350.9h.7M81.8 367.8h.7M77.5 369.2h.7M83.2 367.9h.7M83.5 366.3h.7M100.0 353.4h.7M96.4 361.0h.7M84.5 371.9h.7M95.3 353.1h.7M82.6 370.7h.7M79.1 376.4h.7M77.4 363.4h.7M94.4 362.4h.7M92.4 357.7h.7M99.6 341.2h.7M86.9 363.1h.7M85.5 365.4h.7M96.8 364.7h.7M85.3 355.1h.7M78.6 366.3h.7M97.4 365.7h.7M89.4 367.0h.7M127.9 350.9h.7M145.3 353.0h.7M115.5 353.8h.7M78.0 367.2h.7M112.9 352.6h.7M102.6 347.2h.7M82.2 370.6h.7M114.3 341.1h.7M87.8 361.0h.7M93.9 371.3h.7M106.6 340.9h.7M147.6 345.5h.7M105.9 354.7h.7M76.0 371.2h.7M98.0 360.3h.7M77.9 369.5h.7M79.1 378.6h.7M115.2 355.9h.7M131.3 343.5h.7M79.3 350.6h.7M82.2 363.1h.7M81.9 376.2h.7M107.0 364.8h.7M95.2 356.3h.7M95.1 360.8h.7M124.4 344.8h.7M86.1 354.0h.7M98.8 364.7h.7M93.2 364.2h.7M79.3 362.3h.7M83.9 362.6h.7M136.0 332.7h.7M106.2 354.7h.7M82.9 361.8h.7M95.4 349.7h.7M80.7 357.0h.7M119.3 356.0h.7M84.1 371.5h.7M112.1 348.0h.7M91.7 346.1h.7M100.2 352.4h.7M91.5 360.3h.7M78.9 358.0h.7M92.8 355.1h.7M89.2 355.8h.7M82.2 374.7h.7M90.7 353.1h.7M90.3 361.7h.7M125.7 354.4h.7M92.2 359.4h.7M129.6 350.7h.7M84.0 359.2h.7M89.0 356.7h.7M116.0 361.4h.7M78.0 348.5h.7M103.0 352.1h.7M80.8 364.4h.7M115.0 348.9h.7M126.2 356.5h.7M80.0 358.6h.7M84.1 372.4h.7M80.2 364.9h.7M100.3 355.5h.7M118.9 356.7h.7M91.6 377.1h.7M85.8 359.6h.7M90.1 354.5h.7M85.9 365.2h.7M97.7 361.5h.7M102.4 364.2h.7M83.8 358.4h.7M112.0 356.4h.7M93.5 364.0h.7M83.0 366.6h.7M89.3 353.4h.7M93.2 354.8h.7M112.6 359.5h.7M134.3 345.8h.7M102.6 356.8h.7M83.9 371.7h.7M92.9 359.5h.7M93.1 360.5h.7M89.7 358.6h.7M76.2 363.4h.7M78.0 364.3h.7M119.4 346.5h.7M84.7 361.6h.7M90.5 364.8h.7M101.5 363.2h.7M79.3 367.9h.7M86.1 351.0h.7M97.9 354.1h.7M111.1 353.5h.7M86.3 364.7h.7M101.6 348.7h.7M91.0 365.9h.7M116.6 362.0h.7M104.1 355.4h.7M83.0 366.4h.7M100.1 355.5h.7M93.1 365.2h.7M82.3 357.2h.7M92.3 365.4h.7M86.3 366.4h.7M96.8 351.5h.7M108.5 361.0h.7M78.3 365.4h.7M87.2 367.7h.7M115.7 357.3h.7M123.1 349.6h.7M103.8 358.2h.7M80.3 360.8h.7M80.4 367.4h.7M84.2 357.9h.7M99.1 349.4h.7M83.6 357.1h.7M128.7 359.7h.7M94.1 361.3h.7M78.7 364.1h.7M126.6 346.5h.7M98.6 367.5h.7M116.8 356.9h.7M82.6 369.0h.7M108.8 352.1h.7M84.4 367.4h.7M113.9 349.4h.7M97.0 359.3h.7M83.6 359.5h.7M120.8 350.7h.7M85.9 359.7h.7M120.2 352.0h.7M84.9 365.3h.7M115.9 344.4h.7M95.8 352.2h.7M82.8 367.1h.7M81.8 359.6h.7M112.6 347.4h.7M74.8 369.5h.7M112.8 358.3h.7M114.4 358.4h.7M133.1 347.5h.7M91.1 357.3h.7M119.4 351.2h.7M106.5 343.6h.7M89.5 369.0h.7M89.8 349.7h.7M94.1 360.2h.7M129.8 346.2h.7M118.5 354.3h.7M108.8 358.4h.7M100.2 360.4h.7M81.2 359.3h.7M84.9 360.3h.7" stroke="#333" stroke-width=".7" fill="none"/>
<ellipse cx="70.6" cy="376.0" rx="7.9" ry="16.3" fill="#fff" stroke="#000" stroke-width=".8"/>
<ellipse cx="70.6" cy="376.3" rx="6.3" ry="13.0" fill="#000" fill-opacity=".035" stroke="#333" stroke-width=".55"/>
<ellipse cx="70.5" cy="376.3" rx="5.3" ry="10.9" fill="#000" fill-opacity=".035" stroke="#333" stroke-width=".55"/>
<ellipse cx="70.5" cy="376.3" rx="4.3" ry="8.8" fill="#000" fill-opacity=".035" stroke="#333" stroke-width=".55"/>
<ellipse cx="70.4" cy="376.3" rx="3.2" ry="6.7" fill="#000" fill-opacity=".035" stroke="#333" stroke-width=".55"/>
<ellipse cx="70.4" cy="376.3" rx="2.2" ry="4.6" fill="#000" fill-opacity=".035" stroke="#333" stroke-width=".55"/>
<ellipse cx="70.3" cy="376.3" rx="1.2" ry="2.4" fill="#000" fill-opacity=".035" stroke="#333" stroke-width=".55"/>
<line x1="59" y1="341.5" x2="153" y2="341.5" stroke="#2a2a2a" stroke-width="1"/>
<line x1="59" y1="364.5" x2="153" y2="364.5" stroke="#777" stroke-width="1"/>
<path d="M59 320.5H153M152.5 320.5V405.8" stroke="#222" stroke-width="1" fill="none"/>
<path d="M59.5 320.5V406.0H153" stroke="#000" stroke-width="1.2" fill="none"/>
<path d="M56 402.3H59M56 385.8H59M57 380.1H59M57 376.7H59M57 374.4H59M57 372.5H59M57 371.0H59M57 369.7H59M57 368.6H59M57 367.7H59M56 365.3H59M57 359.6H59M57 356.2H59M57 353.9H59M57 352.0H59M57 350.5H59M57 349.2H59M57 348.1H59M57 347.2H59M56 346.3H59M57 340.6H59M57 337.2H59M57 334.9H59M57 333.0H59M57 331.5H59M57 330.2H59M57 329.1H59M57 328.2H59M56 328.8H59M57 323.1H59M70.5 405.8V408.8M78 405.8V408.8M84.6 405.8V407.40000000000003M88.5 405.8V407.40000000000003M91.2 405.8V407.40000000000003M93.4 405.8V407.40000000000003M95.1 405.8V407.40000000000003M96.6 405.8V407.40000000000003M97.9 405.8V407.40000000000003M99.0 405.8V407.40000000000003M100.5 405.8V408.8M107.1 405.8V407.40000000000003M111.0 405.8V407.40000000000003M113.7 405.8V407.40000000000003M115.9 405.8V407.40000000000003M117.6 405.8V407.40000000000003M119.1 405.8V407.40000000000003M120.4 405.8V407.40000000000003M121.5 405.8V407.40000000000003M122.5 405.8V408.8M129.1 405.8V407.40000000000003M133.0 405.8V407.40000000000003M135.7 405.8V407.40000000000003M137.9 405.8V407.40000000000003M139.6 405.8V407.40000000000003M141.1 405.8V407.40000000000003M142.4 405.8V407.40000000000003M143.5 405.8V407.40000000000003M144.5 405.8V408.8M151.1 405.8V407.40000000000003M61.0 405.8V407.40000000000003M63.0 405.8V407.40000000000003M65.0 405.8V407.40000000000003M67.0 405.8V407.40000000000003M72.5 405.8V407.40000000000003M74.5 405.8V407.40000000000003M76.0 405.8V407.40000000000003" stroke="#000" stroke-width=".9" fill="none"/>
<text x="78" y="414.5" font-size="3.8" text-anchor="middle" fill="#111" class="t">10<tspan font-size="2.8" dy="-1.6">2</tspan></text>
<text x="100.5" y="414.5" font-size="3.8" text-anchor="middle" fill="#111" class="t">10<tspan font-size="2.8" dy="-1.6">3</tspan></text>
<text x="122.5" y="414.5" font-size="3.8" text-anchor="middle" fill="#111" class="t">10<tspan font-size="2.8" dy="-1.6">4</tspan></text>
<text x="144.5" y="414.5" font-size="3.8" text-anchor="middle" fill="#111" class="t">10<tspan font-size="2.8" dy="-1.6">5</tspan></text>
<text x="70.5" y="414.5" font-size="3.8" text-anchor="middle" fill="#111" class="t">0</text>
<text x="58" y="417.8" font-size="3.6" text-anchor="middle" fill="#111" class="t">-162</text>
<text x="54" y="385.8" font-size="3.8" text-anchor="middle" transform="rotate(-90 54 385.8)" fill="#111" class="t">10<tspan font-size="2.8" dy="-1.6">2</tspan></text>
<text x="54" y="365.3" font-size="3.8" text-anchor="middle" transform="rotate(-90 54 365.3)" fill="#111" class="t">10<tspan font-size="2.8" dy="-1.6">3</tspan></text>
<text x="54" y="346.3" font-size="3.8" text-anchor="middle" transform="rotate(-90 54 346.3)" fill="#111" class="t">10<tspan font-size="2.8" dy="-1.6">4</tspan></text>
<text x="54" y="328.8" font-size="3.8" text-anchor="middle" transform="rotate(-90 54 328.8)" fill="#111" class="t">10<tspan font-size="2.8" dy="-1.6">5</tspan></text>
<text x="52.5" y="403.3" font-size="3.4" text-anchor="middle" transform="rotate(-90 52.5 403.3)" fill="#111" class="t">-93</text>
</g>
<g>
<path d="M187.4 399.9h.7M178.1 367.3h.7M183.3 372.7h.7M196.5 353.4h.7M204.3 393.3h.7M182.9 382.0h.7M183.6 388.3h.7M191.6 386.6h.7M192.4 402.1h.7M185.1 388.1h.7M184.9 379.3h.7M188.1 377.0h.7M189.1 365.9h.7M185.2 370.6h.7M177.3 372.0h.7M182.5 377.7h.7M177.6 370.4h.7M187.9 392.7h.7M188.6 371.0h.7M183.0 397.5h.7M186.8 375.2h.7M199.4 380.4h.7M186.0 391.2h.7M186.7 367.4h.7M195.2 395.4h.7M196.4 359.0h.7M201.3 367.5h.7M192.4 392.2h.7M205.0 350.1h.7M178.4 396.9h.7M190.3 372.8h.7M184.9 343.7h.7M207.3 337.4h.7M182.0 379.8h.7M188.2 387.8h.7M184.3 367.0h.7M183.6 351.0h.7M181.0 379.1h.7M201.2 387.3h.7M187.4 387.8h.7M184.3 366.9h.7M194.2 377.4h.7M198.9 370.4h.7M183.5 384.0h.7M184.9 374.6h.7M179.4 384.2h.7M188.9 402.0h.7M186.2 354.8h.7M183.0 368.7h.7M185.1 340.3h.7M183.8 376.7h.7M179.6 355.8h.7M180.8 388.8h.7M201.4 389.9h.7M187.9 370.9h.7M184.4 392.0h.7M182.3 385.3h.7M194.0 363.5h.7M181.8 385.9h.7M186.5 376.6h.7M182.3 378.9h.7M200.9 391.5h.7M187.1 378.5h.7M187.6 368.7h.7M188.9 344.6h.7M189.5 375.0h.7M182.8 382.1h.7M194.9 387.4h.7M185.8 372.3h.7M194.7 382.7h.7M193.3 372.1h.7M179.7 383.2h.7M181.5 395.5h.7M193.1 346.6h.7M191.6 394.4h.7M194.5 369.1h.7M179.7 393.7h.7M194.3 376.3h.7M177.4 360.9h.7M188.5 366.4h.7M181.1 386.1h.7M194.6 347.6h.7M181.2 397.6h.7M186.1 373.8h.7M191.4 361.2h.7M176.8 381.9h.7M198.6 387.7h.7M186.4 391.9h.7M183.2 363.5h.7M193.5 380.8h.7M186.1 373.0h.7M194.9 374.7h.7M181.3 385.4h.7M186.4 392.5h.7M188.3 394.1h.7M188.1 371.5h.7M182.4 388.5h.7M179.9 393.1h.7M184.5 366.5h.7M179.6 378.7h.7M200.3 383.8h.7M186.6 366.1h.7M201.3 369.3h.7M186.4 372.6h.7M196.9 377.0h.7M182.8 382.1h.7M178.6 366.9h.7M185.1 340.0h.7M195.6 401.9h.7M177.7 379.4h.7M188.1 387.7h.7M181.3 376.8h.7M204.3 369.3h.7M186.1 371.6h.7M195.5 395.8h.7M178.0 395.5h.7M186.6 395.1h.7M194.7 384.2h.7M182.5 385.7h.7M186.7 392.3h.7M185.8 382.8h.7M183.2 379.0h.7M186.8 392.3h.7M185.5 381.9h.7M185.6 378.6h.7M180.7 374.6h.7M192.9 380.8h.7M186.2 371.8h.7M188.1 393.8h.7M186.2 373.4h.7M177.1 382.9h.7M179.2 361.4h.7M193.2 367.5h.7M200.9 371.8h.7M192.0 381.8h.7M188.1 375.1h.7M190.2 397.7h.7M190.2 374.7h.7M198.7 382.7h.7M196.6 366.2h.7M190.3 393.3h.7M199.3 352.3h.7M191.9 371.6h.7M186.2 372.8h.7M195.8 345.1h.7M188.4 360.3h.7M181.1 359.5h.7M179.2 380.5h.7M186.6 402.4h.7M184.7 383.6h.7M189.2 380.8h.7M197.9 376.1h.7M187.6 376.4h.7M186.4 377.5h.7M194.2 375.8h.7M186.9 377.5h.7M192.4 369.8h.7M193.8 368.0h.7M191.9 402.3h.7M188.2 376.5h.7M177.1 391.6h.7M186.5 390.6h.7M181.2 387.1h.7M200.6 378.8h.7M183.8 361.6h.7M186.3 387.2h.7M191.1 361.5h.7M178.3 367.9h.7M178.4 377.4h.7M188.5 403.6h.7M187.9 397.4h.7M192.7 382.1h.7M192.9 384.4h.7M201.5 383.9h.7M199.1 372.7h.7M196.8 370.0h.7M181.2 375.5h.7M188.9 380.0h.7M181.5 387.3h.7M191.3 364.2h.7M177.6 354.8h.7M184.0 379.3h.7M180.9 372.1h.7M185.3 379.1h.7M190.9 388.0h.7M189.9 392.2h.7M178.8 389.2h.7M189.3 363.1h.7M181.1 386.2h.7M187.0 361.1h.7M182.0 400.5h.7M193.1 377.1h.7M197.1 362.3h.7M185.0 391.8h.7M183.7 364.1h.7M191.0 398.4h.7M181.0 380.8h.7M180.8 366.8h.7M182.8 382.4h.7M200.3 377.3h.7M198.8 359.5h.7M187.0 372.2h.7M184.5 382.3h.7M180.4 372.6h.7M178.2 395.1h.7M183.2 377.5h.7M187.8 361.2h.7M188.2 375.3h.7M189.9 371.8h.7M186.7 385.2h.7M194.0 366.3h.7M194.1 362.2h.7M184.9 380.6h.7M187.5 344.1h.7M178.7 378.5h.7M193.7 366.2h.7M198.3 349.7h.7M187.0 385.4h.7M186.5 381.8h.7M193.8 364.8h.7M191.1 391.1h.7M184.6 347.6h.7M177.0 370.0h.7M178.0 387.1h.7M190.9 359.0h.7M184.1 399.8h.7M191.8 362.6h.7M194.6 369.0h.7M203.9 364.7h.7M191.1 384.3h.7M182.9 377.5h.7M195.6 381.8h.7M185.9 384.5h.7M200.2 386.1h.7M190.2 381.5h.7M182.6 389.6h.7M181.6 386.1h.7M178.1 393.3h.7M180.6 379.9h.7M191.0 372.3h.7M186.5 392.7h.7M200.4 348.9h.7M179.3 390.0h.7M193.8 369.3h.7M187.1 375.4h.7M204.4 369.3h.7M177.0 360.5h.7M191.4 381.7h.7M191.5 387.2h.7M193.7 362.5h.7M182.0 372.4h.7M187.2 374.6h.7M176.7 372.3h.7M200.5 402.1h.7M179.6 385.8h.7M186.1 366.9h.7M192.0 375.4h.7M199.6 379.9h.7M183.9 343.3h.7M185.6 390.1h.7M180.8 392.3h.7M191.8 352.5h.7M184.9 383.2h.7M192.4 378.3h.7M186.3 373.6h.7M184.1 379.2h.7M178.0 389.9h.7M183.8 386.3h.7M182.4 385.3h.7M187.4 390.0h.7M190.1 389.7h.7M185.1 378.0h.7M184.3 362.0h.7M185.4 393.4h.7M192.5 364.6h.7M188.8 387.7h.7M189.0 387.5h.7M188.4 354.0h.7M183.3 396.6h.7M196.4 376.0h.7M177.4 400.0h.7M186.1 385.4h.7M190.2 389.9h.7M194.4 356.2h.7M186.5 388.8h.7M185.3 376.2h.7M202.4 391.3h.7M195.5 389.1h.7M180.2 379.3h.7M185.9 363.7h.7M179.5 382.9h.7M176.8 389.0h.7M190.1 373.8h.7M183.7 387.4h.7M190.2 381.9h.7M176.8 359.7h.7M202.5 363.8h.7M183.5 354.6h.7M180.1 370.6h.7M192.7 340.3h.7M182.5 369.1h.7M182.9 358.1h.7M188.5 393.8h.7M187.6 370.6h.7M196.3 381.4h.7M178.3 373.4h.7M181.6 379.4h.7M195.9 365.4h.7M185.2 380.2h.7M177.0 375.1h.7M191.2 392.0h.7M184.1 396.6h.7M191.3 403.3h.7M188.8 372.1h.7M179.9 361.2h.7M190.8 383.8h.7M192.8 380.8h.7M184.5 381.1h.7M192.4 395.4h.7M188.6 349.6h.7M178.4 352.2h.7M180.4 364.2h.7M188.3 374.6h.7M195.2 389.9h.7M182.8 392.4h.7M186.5 384.4h.7M197.0 359.0h.7M185.9 399.3h.7M180.4 383.3h.7M187.4 372.3h.7M178.7 395.7h.7M188.4 387.1h.7M177.1 388.4h.7M187.5 392.1h.7M180.7 391.3h.7M197.2 399.0h.7M179.1 365.6h.7M191.1 381.3h.7M179.6 397.7h.7M199.0 373.4h.7M185.5 394.8h.7M190.4 395.1h.7M183.2 384.0h.7M183.8 371.5h.7M184.1 375.3h.7M190.4 372.8h.7M187.0 367.2h.7M176.8 401.0h.7M193.8 344.7h.7M181.4 374.4h.7M186.6 375.8h.7M181.7 396.9h.7M185.4 391.7h.7M181.0 370.8h.7M196.9 370.8h.7M177.8 379.0h.7M194.6 373.2h.7M180.8 388.9h.7M194.1 372.8h.7M183.9 374.2h.7M207.6 368.4h.7M200.1 371.5h.7M189.6 349.6h.7M187.8 378.5h.7M183.9 373.7h.7M187.7 369.2h.7M185.7 376.1h.7M182.4 369.8h.7M200.9 358.3h.7M182.4 375.7h.7M177.4 368.5h.7M193.2 388.6h.7M192.9 392.8h.7M180.0 395.2h.7M199.6 368.6h.7M200.5 362.5h.7M177.5 380.8h.7M180.1 389.2h.7M177.8 382.5h.7M194.6 371.9h.7M188.8 392.3h.7M177.8 364.1h.7M187.0 381.9h.7M184.3 365.9h.7M195.9 359.3h.7M184.4 378.5h.7M192.1 370.3h.7M179.8 391.5h.7M185.2 372.3h.7M186.1 375.0h.7M188.8 343.0h.7M186.2 379.4h.7M178.8 375.8h.7M204.7 397.0h.7M191.4 379.7h.7M184.0 398.0h.7M182.9 368.5h.7M191.8 363.4h.7M180.2 400.1h.7M187.3 381.5h.7M194.3 365.4h.7M193.2 384.8h.7M185.5 375.4h.7M184.3 358.2h.7M181.5 392.7h.7M197.7 399.5h.7M183.5 387.7h.7M177.8 386.7h.7M192.9 363.6h.7M200.5 375.6h.7M179.9 385.4h.7M186.3 389.7h.7M195.5 366.5h.7M192.6 386.5h.7M178.6 371.0h.7M180.1 347.1h.7M191.4 373.7h.7M196.0 367.4h.7M187.0 388.0h.7M194.0 380.0h.7M193.2 394.4h.7M199.0 393.0h.7M189.6 383.6h.7M191.3 356.3h.7M192.8 363.0h.7M189.7 363.5h.7M192.0 369.8h.7M205.8 374.2h.7M190.4 364.7h.7M184.2 378.4h.7M184.2 373.3h.7M179.6 391.1h.7M183.4 368.4h.7M189.3 366.4h.7M185.0 371.9h.7M179.2 377.9h.7M180.0 363.7h.7M189.2 373.4h.7M187.9 383.7h.7M189.3 380.8h.7M191.1 370.1h.7M180.2 388.9h.7M183.2 379.6h.7M214.9 368.9h.7M223.8 353.7h.7M198.9 367.9h.7M182.4 354.6h.7M214.2 355.7h.7M190.3 371.2h.7M213.0 369.0h.7M199.6 360.5h.7M199.4 365.6h.7M215.7 354.1h.7M203.7 363.5h.7M212.8 357.1h.7M187.1 386.2h.7M193.6 378.5h.7M177.3 367.1h.7M201.7 379.0h.7M236.5 366.2h.7M188.9 357.6h.7M193.0 359.5h.7M208.8 355.0h.7M200.9 375.5h.7M227.1 343.2h.7M189.9 361.2h.7M224.9 356.6h.7M234.4 361.3h.7M227.0 351.8h.7M199.9 371.7h.7M213.6 345.1h.7M200.4 364.4h.7M214.5 355.5h.7M231.8 359.8h.7M227.2 362.6h.7M206.0 359.4h.7M186.6 372.3h.7M216.5 368.7h.7M198.9 354.5h.7M198.8 360.5h.7M204.5 370.8h.7M190.6 360.1h.7M215.4 368.5h.7M239.1 362.0h.7M191.6 355.3h.7M192.4 364.6h.7M208.6 361.2h.7M195.2 362.1h.7M203.5 367.6h.7M206.0 355.2h.7M186.6 377.6h.7M203.4 361.0h.7M204.3 372.0h.7M199.9 364.5h.7M201.0 367.8h.7M189.0 366.3h.7M220.7 370.2h.7M214.3 363.5h.7M229.1 364.9h.7M226.4 349.0h.7M187.7 371.6h.7M200.6 359.2h.7M190.0 377.1h.7M186.2 365.8h.7M183.1 363.9h.7M239.5 378.2h.7M197.1 354.8h.7M230.0 351.5h.7M177.1 369.2h.7M188.0 352.3h.7M222.1 353.7h.7M188.2 366.1h.7M201.8 372.3h.7M206.2 375.7h.7M222.3 375.1h.7M222.1 360.5h.7M213.2 361.3h.7M180.6 355.7h.7M216.2 340.6h.7M191.9 353.2h.7M203.7 353.6h.7M208.6 360.1h.7M197.5 356.1h.7M184.7 362.6h.7M210.5 370.5h.7M215.6 373.4h.7M182.7 371.2h.7M229.0 362.3h.7M187.6 368.2h.7M196.7 358.0h.7M221.2 358.5h.7M187.4 359.0h.7M235.1 350.9h.7M215.2 362.4h.7M222.8 357.4h.7M190.1 359.0h.7M188.8 386.7h.7M207.7 359.2h.7M224.2 365.2h.7M201.9 368.1h.7M208.9 371.4h.7M230.3 356.1h.7M204.2 360.9h.7M223.7 363.0h.7M216.9 368.3h.7M194.9 364.8h.7M226.2 367.2h.7M217.3 358.2h.7M199.2 355.9h.7M200.6 362.4h.7M182.6 375.4h.7M192.9 366.2h.7M214.0 356.4h.7M176.7 374.5h.7M211.1 359.3h.7M222.3 367.5h.7M190.0 363.8h.7M177.5 364.0h.7M226.6 352.2h.7M217.5 347.7h.7M200.2 371.0h.7M231.3 362.5h.7M216.4 375.3h.7M234.0 379.2h.7M214.0 361.6h.7M208.8 362.0h.7M195.2 363.6h.7M202.8 368.3h.7M215.3 369.2h.7M213.8 352.8h.7M226.3 336.6h.7M206.5 364.9h.7M196.5 379.4h.7M187.8 354.8h.7M196.9 367.0h.7M217.0 361.6h.7M215.1 355.0h.7M195.4 364.8h.7M183.9 366.9h.7M198.6 369.0h.7M189.1 360.1h.7M196.0 360.5h.7M189.3 362.3h.7M183.8 369.9h.7M215.1 360.8h.7M201.8 355.2h.7M189.9 362.6h.7M190.7 354.4h.7M207.3 361.8h.7M198.5 356.4h.7M203.9 356.6h.7M198.1 364.9h.7M215.9 367.2h.7M195.4 373.9h.7M186.9 363.4h.7M224.9 379.6h.7M206.7 359.0h.7M199.0 352.9h.7M202.5 359.1h.7M193.1 374.1h.7M192.7 378.4h.7M217.7 366.0h.7M195.7 359.4h.7M200.6 366.2h.7M194.4 367.9h.7M181.6 347.1h.7M212.1 370.4h.7M199.3 361.8h.7M181.0 357.3h.7M215.7 354.6h.7M204.1 361.1h.7M235.5 365.5h.7M184.3 361.2h.7M187.0 353.1h.7M194.2 373.1h.7M205.5 367.9h.7M202.6 359.1h.7M206.0 361.5h.7M234.5 373.3h.7M210.5 366.6h.7M241.7 350.4h.7M217.3 370.9h.7M198.6 361.3h.7M197.7 370.0h.7M205.1 375.0h.7M223.1 359.7h.7M244.9 354.1h.7M195.3 361.7h.7M191.1 360.7h.7M203.6 370.0h.7M180.3 354.0h.7M192.8 361.5h.7M211.8 354.7h.7M228.1 354.6h.7M201.4 363.3h.7M222.8 362.3h.7M205.1 357.7h.7M207.4 365.4h.7M199.3 362.9h.7M223.0 371.7h.7M203.6 344.3h.7M233.1 356.9h.7M244.5 353.3h.7M220.3 355.0h.7M226.0 369.1h.7M188.2 375.5h.7M249.0 354.2h.7M186.0 367.3h.7M198.5 350.6h.7M188.5 366.7h.7M181.1 374.7h.7M211.7 359.8h.7M226.4 351.5h.7M215.3 349.5h.7M199.7 368.4h.7M196.4 362.5h.7M214.8 373.7h.7M224.9 363.3h.7M200.7 350.7h.7M231.4 374.3h.7M204.1 368.4h.7M209.6 360.0h.7M204.6 362.0h.7M222.8 357.6h.7M196.3 369.0h.7M214.7 364.6h.7M209.1 374.1h.7M222.0 361.7h.7M201.4 368.3h.7M193.7 365.3h.7M198.7 383.8h.7M216.2 364.1h.7M239.7 357.4h.7M199.7 373.3h.7M217.6 368.3h.7M223.5 356.6h.7M194.4 357.7h.7M206.3 370.5h.7M188.4 360.1h.7M183.9 382.0h.7M217.1 362.4h.7M185.8 356.3h.7M194.7 364.0h.7M185.0 363.2h.7M223.7 359.8h.7M206.2 344.5h.7M200.5 361.7h.7M193.9 352.2h.7M203.6 353.9h.7M196.2 350.1h.7M203.3 370.1h.7M191.6 366.9h.7M181.1 370.5h.7M213.1 357.9h.7M218.5 353.0h.7M205.4 376.3h.7M204.3 353.0h.7M222.7 364.3h.7M200.4 347.7h.7M227.8 361.5h.7M191.4 373.8h.7M227.5 352.0h.7M212.2 347.5h.7M210.5 376.7h.7M182.7 365.9h.7M194.8 362.9h.7M206.1 364.5h.7M218.6 364.7h.7M221.0 368.5h.7M221.8 354.3h.7M211.1 358.3h.7M191.6 380.5h.7M209.3 362.0h.7M216.7 358.9h.7M196.2 375.8h.7M199.8 360.2h.7M203.1 360.6h.7M221.1 364.8h.7M203.6 359.4h.7M201.2 376.9h.7M199.9 368.4h.7M180.1 368.5h.7M215.4 371.4h.7M209.6 366.4h.7M209.7 370.5h.7M236.6 359.5h.7M192.0 369.1h.7M203.0 367.9h.7M216.8 361.9h.7M197.8 365.8h.7M185.2 367.3h.7M190.9 368.0h.7M206.6 360.2h.7M185.9 365.4h.7M194.1 362.6h.7M215.5 368.7h.7M184.6 372.9h.7M226.0 368.7h.7M209.0 361.0h.7M231.9 355.8h.7M180.9 366.4h.7M209.2 353.0h.7M185.7 381.5h.7M206.5 368.6h.7M195.6 351.0h.7M201.9 373.9h.7M194.3 348.9h.7M202.0 360.4h.7M205.0 353.6h.7M199.8 358.5h.7M218.5 361.7h.7M218.3 360.0h.7M213.1 368.5h.7M218.4 359.8h.7M176.8 362.1h.7M211.0 372.9h.7M199.3 358.4h.7M192.6 372.5h.7M218.3 345.2h.7M223.6 352.0h.7M181.7 352.3h.7M193.3 383.2h.7M244.6 346.3h.7M194.2 365.1h.7M211.2 357.4h.7M179.9 362.4h.7M194.1 348.9h.7M207.0 349.8h.7M177.6 378.8h.7M219.4 372.3h.7M206.6 358.6h.7M203.4 351.1h.7M216.3 362.9h.7M199.9 347.4h.7M203.0 376.1h.7M227.3 366.4h.7M199.2 364.3h.7M213.4 362.7h.7M221.1 354.5h.7M190.5 352.8h.7M215.1 369.8h.7M204.7 366.8h.7M205.9 363.6h.7M197.3 360.0h.7M223.3 357.5h.7M204.1 372.4h.7M220.1 356.9h.7M208.7 353.3h.7M206.8 364.7h.7M204.7 363.7h.7M210.4 340.4h.7M191.8 364.8h.7M197.0 355.4h.7M201.0 376.3h.7M201.1 357.4h.7M197.2 353.5h.7M212.3 353.0h.7M218.9 367.9h.7M213.7 369.7h.7M203.4 347.8h.7M203.7 367.8h.7M180.5 355.5h.7M221.8 363.6h.7M225.8 364.9h.7M205.7 365.8h.7M218.0 360.2h.7M201.4 365.4h.7M199.8 383.2h.7M192.7 351.4h.7M184.5 373.9h.7M198.4 364.6h.7M201.3 365.1h.7M182.0 366.2h.7M195.7 372.7h.7M214.4 350.4h.7M189.6 369.2h.7M223.4 366.1h.7M202.3 372.0h.7M189.4 355.9h.7M213.5 363.4h.7M209.1 360.6h.7M214.4 367.5h.7M195.7 371.4h.7M190.2 379.2h.7M184.3 362.8h.7M187.8 365.1h.7M225.3 353.1h.7M232.5 370.3h.7M210.7 356.6h.7M218.8 336.3h.7M192.7 372.1h.7M204.1 383.3h.7M194.1 352.6h.7M201.3 367.7h.7M231.4 343.8h.7M207.2 372.6h.7M194.1 360.0h.7M185.7 371.5h.7M217.7 365.5h.7M208.6 370.1h.7M202.8 368.7h.7M217.5 371.5h.7M212.7 361.9h.7M215.8 347.7h.7M177.1 379.9h.7M206.9 353.2h.7M195.6 362.4h.7M205.8 355.7h.7M220.3 345.8h.7M248.7 347.0h.7M230.8 364.3h.7M178.3 355.7h.7M205.6 364.5h.7M198.0 363.4h.7M207.2 352.3h.7M205.6 381.5h.7M194.5 355.2h.7M215.1 372.3h.7M221.1 354.7h.7M203.5 364.2h.7M201.4 366.2h.7M221.7 364.6h.7M204.5 360.7h.7M232.9 347.9h.7M236.2 364.2h.7M206.1 355.8h.7M233.6 368.6h.7M219.0 378.1h.7M199.9 356.8h.7M205.9 366.8h.7M213.0 360.0h.7M183.9 370.0h.7M214.3 379.1h.7M219.4 360.4h.7M186.6 388.1h.7M194.0 365.5h.7M216.5 365.0h.7M225.7 350.6h.7M193.8 365.4h.7M185.3 359.8h.7M226.5 361.8h.7M203.1 357.7h.7M205.5 362.0h.7M187.7 371.5h.7M184.5 376.2h.7M199.4 343.5h.7M180.2 368.3h.7M191.0 379.8h.7M226.5 377.3h.7M218.8 372.0h.7M195.1 374.9h.7M197.8 362.9h.7M183.2 365.9h.7M211.1 360.9h.7M187.2 372.6h.7M219.1 359.6h.7M217.1 369.1h.7M189.1 364.2h.7M211.5 353.8h.7M210.9 364.6h.7M228.8 359.1h.7M206.7 356.0h.7M179.3 352.2h.7M250.3 354.3h.7M190.9 365.2h.7M231.9 352.0h.7M209.8 353.8h.7M218.3 353.1h.7M202.4 374.0h.7M213.0 358.3h.7M180.5 351.9h.7M223.8 364.1h.7M205.6 373.1h.7M207.0 355.7h.7M203.0 361.7h.7M204.5 384.0h.7M213.9 363.4h.7M200.7 357.0h.7M188.9 348.2h.7M197.4 350.2h.7M224.6 351.1h.7M237.3 363.5h.7M188.8 349.4h.7M200.5 373.0h.7M211.8 348.6h.7M194.1 357.2h.7M223.0 358.9h.7M189.1 356.6h.7M219.0 343.7h.7M207.8 360.9h.7M217.7 350.5h.7M219.2 373.8h.7M241.3 343.0h.7M204.2 360.6h.7M206.7 353.4h.7M218.4 380.9h.7M228.8 350.6h.7M195.5 370.0h.7M206.9 355.3h.7M224.5 364.1h.7M221.1 358.5h.7M225.2 355.4h.7M186.8 364.8h.7M182.4 376.4h.7M216.4 346.0h.7M207.4 369.3h.7M199.0 366.7h.7M195.3 363.0h.7M203.3 366.7h.7M189.2 354.6h.7M210.0 357.1h.7M213.0 356.7h.7M183.7 371.7h.7M209.0 368.1h.7M199.3 359.9h.7M224.9 344.6h.7M232.6 362.9h.7M203.8 363.2h.7M214.4 354.2h.7M209.1 353.3h.7M206.3 367.7h.7M213.6 367.2h.7M217.4 351.3h.7M224.2 383.0h.7M195.6 352.5h.7M215.7 368.8h.7M220.9 373.4h.7M182.5 368.7h.7M212.1 372.2h.7M190.4 364.5h.7M198.7 361.7h.7M202.4 361.3h.7M205.8 358.7h.7M194.2 356.1h.7M230.4 366.8h.7M201.7 368.0h.7M257.5 346.3h.7M212.3 355.9h.7M228.5 368.6h.7M202.7 367.9h.7M191.9 350.2h.7M218.2 374.7h.7M199.8 358.3h.7M185.4 356.5h.7M201.6 373.3h.7M205.6 362.0h.7M205.0 369.6h.7M204.1 363.7h.7M203.5 352.7h.7M226.3 353.1h.7M183.5 361.4h.7M205.2 369.4h.7M181.1 354.5h.7M207.6 365.2h.7M187.1 354.8h.7M207.5 360.6h.7M178.7 358.2h.7M228.5 349.6h.7M221.6 346.5h.7M228.6 372.9h.7M194.5 357.7h.7M214.8 350.0h.7M213.6 371.7h.7M208.9 364.5h.7M202.2 371.4h.7M191.5 378.0h.7M204.3 359.4h.7M178.4 362.1h.7M208.5 372.6h.7M178.8 364.8h.7M193.7 353.3h.7M204.8 355.6h.7M218.7 336.7h.7M216.5 343.9h.7M199.2 364.1h.7M189.2 355.2h.7M192.9 363.4h.7M191.2 360.5h.7M190.9 366.2h.7M186.4 346.6h.7M206.2 370.4h.7M192.8 353.9h.7M180.7 372.2h.7M194.7 372.3h.7M203.4 360.0h.7M217.4 355.1h.7M215.6 346.3h.7M221.0 384.3h.7M222.6 362.5h.7M184.9 360.4h.7M194.2 365.3h.7M217.4 361.7h.7M216.6 368.0h.7M186.3 353.0h.7M212.2 361.5h.7M206.0 354.9h.7M221.1 364.3h.7M223.0 356.6h.7M215.8 360.2h.7M189.6 363.7h.7M178.1 364.4h.7M207.6 367.9h.7M187.8 353.0h.7M193.0 345.8h.7M194.2 386.6h.7M207.0 355.3h.7M193.8 379.2h.7M186.0 363.9h.7M203.4 356.0h.7M193.1 349.2h.7M191.2 375.5h.7M227.4 356.6h.7M216.0 364.7h.7M206.5 360.8h.7M224.2 364.5h.7M201.1 360.7h.7M219.7 354.9h.7M193.2 361.5h.7M196.7 374.4h.7M210.4 360.7h.7M196.2 375.8h.7M211.8 379.4h.7M219.3 358.3h.7M195.9 361.0h.7M207.6 368.7h.7M212.5 374.9h.7M180.3 365.9h.7M181.9 356.4h.7M195.0 357.9h.7M189.1 351.1h.7M223.0 356.9h.7M220.2 350.4h.7M218.8 355.4h.7M211.0 351.9h.7M227.0 362.9h.7M221.6 357.4h.7M225.2 360.0h.7M196.8 357.7h.7M205.6 354.2h.7M185.5 366.1h.7M216.1 358.1h.7M218.2 374.2h.7M184.4 367.3h.7M189.2 358.8h.7M207.5 341.1h.7M214.4 368.2h.7M213.4 366.7h.7M233.8 354.9h.7M222.2 372.4h.7M212.6 345.5h.7M202.2 360.0h.7M178.7 365.4h.7M216.8 358.3h.7M201.8 375.5h.7M194.8 355.4h.7M205.3 371.9h.7M214.2 361.5h.7M196.8 374.1h.7M218.9 345.1h.7M210.0 340.5h.7M228.7 364.2h.7M194.6 352.4h.7M199.9 347.6h.7M213.7 356.5h.7M223.7 348.5h.7M199.0 378.9h.7M207.6 357.0h.7M207.7 368.6h.7M188.6 363.6h.7M178.5 352.1h.7M180.0 373.1h.7M238.4 360.1h.7M258.4 355.3h.7M236.8 357.7h.7M241.9 346.7h.7M225.5 353.3h.7M232.4 348.9h.7M228.6 356.6h.7M235.7 359.0h.7M249.7 359.0h.7M252.9 361.2h.7M262.3 359.8h.7M217.9 371.8h.7M256.5 364.3h.7M247.7 355.2h.7M206.4 357.4h.7M223.8 351.4h.7M184.5 365.4h.7M205.8 345.8h.7M241.9 359.0h.7M214.1 354.2h.7M237.2 355.8h.7M243.2 360.6h.7M223.5 342.2h.7M209.7 359.8h.7M244.5 350.1h.7M259.8 354.7h.7M238.4 357.0h.7M226.5 356.8h.7M202.9 351.0h.7M258.8 338.2h.7M212.8 360.8h.7M222.6 350.0h.7M198.5 353.1h.7M227.7 349.7h.7M197.1 355.1h.7M240.8 363.3h.7M243.0 366.2h.7M258.0 333.8h.7M268.3 354.4h.7M208.5 357.4h.7M252.8 343.3h.7M204.4 359.2h.7M219.4 365.3h.7M236.4 350.5h.7M202.3 358.5h.7M193.6 344.1h.7M202.6 366.8h.7M223.1 359.7h.7M259.1 348.9h.7M256.6 337.2h.7M230.4 349.3h.7M203.5 368.7h.7M216.5 354.2h.7M204.0 359.2h.7M235.8 352.4h.7M222.7 350.1h.7M215.7 343.7h.7M258.2 361.7h.7M200.9 345.2h.7M240.6 371.7h.7M227.1 352.1h.7M226.0 356.3h.7M227.7 362.6h.7M253.3 359.1h.7M266.4 353.4h.7M219.4 376.7h.7M188.9 342.1h.7M179.6 356.3h.7M208.0 362.1h.7M185.3 352.7h.7M222.9 346.3h.7M256.3 351.9h.7M241.5 350.7h.7M234.9 351.2h.7M233.2 353.8h.7M216.6 357.6h.7M227.5 347.2h.7M208.4 357.5h.7M260.9 345.2h.7M222.4 357.8h.7M254.6 360.3h.7M205.4 354.4h.7M251.4 356.7h.7M226.6 345.5h.7M235.2 354.1h.7M232.3 365.8h.7M257.8 349.0h.7M236.7 352.3h.7M233.8 366.9h.7M251.8 355.2h.7M217.1 353.1h.7M239.6 350.9h.7M255.9 355.1h.7M205.5 369.5h.7M228.9 361.9h.7M256.2 365.9h.7M266.0 357.5h.7M234.1 362.2h.7M231.0 345.0h.7M221.6 359.3h.7M245.1 346.4h.7M258.0 357.3h.7M198.4 357.5h.7M253.8 358.9h.7M224.7 348.4h.7M256.4 356.7h.7M231.5 351.5h.7M208.8 340.0h.7M224.0 362.7h.7M248.4 349.7h.7M265.3 353.4h.7M209.4 361.5h.7M262.2 352.1h.7M204.6 353.6h.7M178.0 354.0h.7M265.2 357.2h.7M215.4 359.6h.7M220.7 363.9h.7M223.7 369.7h.7M223.8 355.8h.7M210.9 344.6h.7M239.2 357.3h.7M210.1 358.4h.7M222.5 350.2h.7M230.0 357.5h.7M247.6 364.1h.7M240.0 349.2h.7M216.5 357.1h.7M205.2 352.8h.7M223.1 353.6h.7M235.6 362.4h.7M267.8 361.8h.7M253.9 346.9h.7M254.5 364.7h.7M201.7 373.0h.7M219.1 336.4h.7M213.9 349.9h.7M255.2 356.9h.7M223.3 363.0h.7M210.9 347.8h.7M219.2 348.7h.7M246.8 353.1h.7M208.4 350.7h.7M187.8 355.0h.7M233.8 359.2h.7M226.4 357.4h.7M211.0 354.4h.7M235.0 345.5h.7M244.5 355.8h.7M232.7 351.0h.7M214.7 347.9h.7M244.6 353.2h.7M214.2 348.8h.7M252.2 355.5h.7M254.8 354.8h.7M205.5 360.6h.7M238.6 349.7h.7M224.8 347.1h.7M249.9 351.7h.7M242.1 356.7h.7M225.9 357.2h.7M226.2 345.6h.7M222.4 345.5h.7M248.2 359.7h.7M218.7 359.0h.7M237.0 361.9h.7M211.0 354.4h.7M209.8 349.0h.7M261.7 340.0h.7M211.5 357.9h.7M248.7 348.9h.7M186.9 340.9h.7M239.7 362.9h.7M251.6 349.4h.7M261.3 353.6h.7M245.1 353.3h.7M266.6 351.3h.7M184.4 351.4h.7M235.8 356.7h.7M215.8 352.5h.7M206.6 352.4h.7M233.5 356.4h.7M267.8 340.2h.7M243.0 358.0h.7M206.2 354.6h.7M231.5 347.0h.7M247.5 369.1h.7M246.4 360.6h.7M255.0 354.0h.7M253.0 348.9h.7M235.5 359.9h.7M260.3 352.9h.7M225.2 357.9h.7M229.9 355.5h.7M249.2 349.1h.7M250.8 357.7h.7M225.8 345.1h.7M217.8 354.0h.7M252.2 340.2h.7M247.2 356.2h.7M206.8 360.5h.7M240.3 357.9h.7M210.2 345.9h.7M251.5 365.4h.7M239.6 353.2h.7M221.7 341.6h.7M253.1 354.2h.7M258.6 349.6h.7M254.6 349.6h.7M244.4 365.0h.7M216.2 361.0h.7M231.5 347.5h.7M236.0 359.4h.7M216.0 352.3h.7M219.2 348.6h.7M227.0 360.6h.7M220.8 363.6h.7M223.3 349.3h.7M255.0 365.4h.7M217.4 358.7h.7M206.2 351.1h.7M223.4 359.7h.7M204.2 350.3h.7M216.6 355.0h.7M204.8 344.1h.7M198.8 360.2h.7M202.9 340.1h.7M268.0 364.4h.7M213.3 346.1h.7M241.9 369.8h.7M244.7 359.7h.7M205.8 340.9h.7M240.0 362.2h.7M234.6 354.5h.7M261.7 348.8h.7M255.5 361.1h.7M218.0 355.2h.7M234.0 358.9h.7M210.4 352.5h.7M233.6 354.8h.7M232.1 356.4h.7M227.4 350.8h.7M254.0 350.2h.7M224.7 347.9h.7M206.7 357.4h.7M230.7 353.5h.7M241.4 353.4h.7M246.4 368.1h.7M239.2 352.7h.7M267.5 360.4h.7M195.5 363.8h.7M236.2 360.9h.7M206.6 347.8h.7M217.5 358.4h.7M207.2 348.9h.7M252.3 350.1h.7M234.1 348.0h.7M194.7 353.3h.7M229.0 343.9h.7M252.7 360.9h.7M250.8 351.1h.7M206.8 353.4h.7M235.2 353.3h.7M218.9 347.0h.7M215.7 353.6h.7M221.0 366.6h.7M225.6 357.8h.7M221.5 353.0h.7M210.5 350.6h.7M199.2 338.7h.7M260.6 347.3h.7M241.0 353.8h.7M219.3 359.7h.7M219.6 357.5h.7M223.6 361.5h.7M252.3 355.4h.7M255.3 358.6h.7M265.2 354.2h.7M198.2 355.5h.7M236.7 351.9h.7M227.1 352.5h.7M204.5 366.7h.7M214.9 346.4h.7M197.5 347.8h.7M230.8 365.3h.7M244.5 349.4h.7M204.7 345.8h.7M229.8 360.9h.7M221.2 366.1h.7M184.9 361.7h.7M229.5 359.4h.7M252.9 347.5h.7M233.0 355.8h.7M215.4 359.3h.7M228.8 351.5h.7M266.8 354.0h.7M253.9 349.4h.7M234.8 362.5h.7M184.7 357.7h.7M225.7 362.4h.7M235.4 354.0h.7M204.0 375.6h.7M215.7 351.9h.7M216.0 352.0h.7M236.3 344.8h.7M254.3 353.0h.7M244.5 339.3h.7M220.3 352.1h.7M223.2 349.5h.7M238.2 357.6h.7M210.4 339.8h.7M247.3 352.4h.7M254.6 361.3h.7M229.3 344.0h.7M223.8 349.0h.7M258.3 342.6h.7M251.3 343.6h.7M219.2 344.0h.7M216.5 351.0h.7M239.5 350.3h.7M246.4 367.6h.7M235.0 346.1h.7M227.7 353.7h.7M223.8 362.8h.7M256.4 369.6h.7M242.8 335.2h.7M228.7 359.3h.7M214.2 349.8h.7M251.1 355.9h.7M207.3 349.8h.7M205.2 353.7h.7M206.0 347.3h.7M220.4 374.7h.7M206.0 345.4h.7M220.0 362.1h.7M248.8 359.9h.7M224.6 355.3h.7M215.0 352.9h.7M214.2 343.6h.7M210.1 368.2h.7M240.1 349.1h.7M229.2 351.1h.7M257.8 354.7h.7M217.9 359.2h.7M238.4 349.6h.7M214.9 355.2h.7M196.3 347.2h.7M253.3 361.2h.7M255.5 351.6h.7M218.7 352.3h.7M221.2 363.7h.7M226.7 364.3h.7M216.2 357.0h.7M266.5 349.6h.7M217.5 349.9h.7M196.8 351.7h.7M217.7 370.3h.7M221.2 338.7h.7M251.9 361.8h.7M230.8 356.5h.7M247.0 350.6h.7M232.4 355.5h.7M267.2 365.4h.7M235.2 344.7h.7M250.5 354.4h.7M256.7 355.3h.7M235.4 359.3h.7M215.8 349.4h.7M251.6 359.8h.7M249.1 364.7h.7M202.7 360.9h.7M187.2 354.1h.7M238.8 362.1h.7M254.9 348.0h.7M225.6 353.2h.7M216.5 348.2h.7M217.3 362.6h.7M260.8 360.4h.7M267.8 355.7h.7M208.1 349.3h.7M235.9 362.0h.7M257.7 348.4h.7M252.1 350.9h.7M244.4 361.4h.7M263.5 351.1h.7M236.8 357.7h.7M222.5 355.0h.7M244.4 342.7h.7M217.7 371.0h.7M241.3 350.5h.7M192.0 346.8h.7M242.7 359.6h.7M241.2 358.9h.7M218.5 365.8h.7M207.3 357.7h.7M225.8 341.9h.7M251.0 352.8h.7M246.9 364.0h.7M235.1 349.7h.7M226.9 353.9h.7M262.7 361.2h.7M265.8 360.6h.7M215.1 360.9h.7M252.5 353.9h.7M241.6 352.3h.7M204.4 353.3h.7M248.0 352.1h.7M183.2 347.8h.7M255.0 356.5h.7M255.8 349.4h.7M222.5 347.0h.7M214.8 357.9h.7M234.6 351.0h.7M238.0 345.0h.7M223.2 343.4h.7M199.2 344.0h.7M207.8 365.5h.7M261.3 364.1h.7M219.0 358.8h.7M207.1 350.1h.7M236.8 342.9h.7M235.9 359.0h.7M186.8 335.9h.7M225.6 353.4h.7M234.7 346.2h.7M243.9 355.5h.7M215.7 366.1h.7M237.2 359.9h.7M226.8 341.7h.7M226.7 357.5h.7M236.0 345.3h.7M213.1 340.6h.7M201.8 354.7h.7M238.1 347.9h.7M226.9 348.5h.7M245.0 359.3h.7M219.5 350.9h.7M205.0 350.6h.7M250.2 359.0h.7M263.6 352.6h.7M212.0 361.7h.7M251.6 349.9h.7M255.3 354.7h.7M230.7 367.8h.7M243.1 356.9h.7M224.7 355.8h.7M254.5 358.1h.7M215.2 357.4h.7M229.0 356.6h.7M227.4 338.4h.7M196.5 351.0h.7M183.7 342.6h.7M221.6 356.6h.7M182.9 355.4h.7M253.0 356.2h.7M203.1 361.0h.7M220.0 350.0h.7M235.9 352.3h.7M204.6 353.9h.7M232.7 364.9h.7M259.5 373.6h.7M217.1 351.0h.7M239.3 366.3h.7M209.5 351.5h.7M215.3 358.0h.7M240.3 354.3h.7M245.9 348.9h.7M223.4 357.7h.7M232.9 364.0h.7M233.3 364.0h.7M236.8 363.0h.7M235.6 347.8h.7M213.0 357.2h.7M224.7 372.6h.7M207.3 347.8h.7M252.0 343.6h.7M251.5 357.5h.7M245.3 345.8h.7M240.0 361.4h.7M230.5 361.9h.7M232.2 357.0h.7M224.7 344.4h.7M228.1 358.0h.7M215.0 339.8h.7M197.7 363.5h.7M226.7 348.7h.7M258.7 353.6h.7M198.6 350.6h.7M212.3 352.7h.7M211.6 354.6h.7M241.6 350.4h.7M227.2 353.2h.7M249.7 349.5h.7M248.1 363.9h.7M227.4 347.2h.7M224.9 341.3h.7M219.7 345.4h.7M227.9 351.6h.7M243.0 355.5h.7M240.9 354.2h.7M237.8 346.2h.7M246.1 364.2h.7M256.0 345.0h.7M240.8 342.6h.7M248.2 353.2h.7M221.5 348.8h.7M226.4 354.3h.7M210.5 354.5h.7M237.3 358.4h.7M230.6 354.4h.7M238.7 344.3h.7M245.2 358.9h.7M240.0 354.8h.7M233.8 353.3h.7M262.0 357.8h.7M225.4 352.7h.7M220.0 356.6h.7M234.9 356.7h.7M261.4 363.3h.7M240.9 354.9h.7M230.2 352.7h.7M253.7 345.5h.7M208.8 350.7h.7M210.5 348.7h.7M257.9 338.3h.7M244.3 345.0h.7M226.3 350.1h.7M209.8 343.1h.7M233.2 332.6h.7M185.0 350.8h.7M255.8 368.5h.7M225.2 348.4h.7M225.4 357.8h.7M252.2 347.8h.7M242.1 354.4h.7M256.8 351.9h.7M227.1 348.1h.7M202.5 356.0h.7M247.3 363.0h.7M237.5 351.1h.7M211.4 345.5h.7M215.7 356.7h.7M233.6 337.6h.7M229.4 352.3h.7M208.6 353.9h.7M243.3 347.0h.7M201.9 351.6h.7M237.4 352.6h.7M265.6 356.1h.7M209.6 359.8h.7M217.4 359.3h.7M233.8 363.6h.7M209.7 359.4h.7M241.0 347.9h.7M247.1 371.5h.7M239.5 348.9h.7M228.3 364.0h.7M237.2 365.5h.7M217.3 363.9h.7M196.9 352.6h.7M225.1 350.7h.7M258.6 350.5h.7M239.4 368.3h.7M249.8 351.7h.7M215.5 339.3h.7M240.0 361.2h.7M256.0 356.7h.7M180.8 347.1h.7M249.2 351.8h.7M250.1 373.8h.7M214.8 370.6h.7M229.9 343.5h.7M233.8 361.2h.7M218.8 366.0h.7M212.4 352.7h.7M251.9 353.2h.7M219.4 354.1h.7M246.0 367.6h.7M261.5 368.9h.7M231.0 342.1h.7M230.7 351.4h.7M209.7 350.3h.7M230.1 354.9h.7M251.8 348.0h.7M256.9 355.3h.7M247.8 364.0h.7M204.4 365.9h.7M215.8 357.2h.7M255.6 361.8h.7M197.2 355.1h.7M256.6 354.0h.7M229.9 355.0h.7M267.8 351.1h.7M210.9 345.9h.7M220.0 352.6h.7M239.3 354.0h.7M193.8 342.1h.7M246.6 360.2h.7M201.8 361.0h.7M178.1 370.9h.7M244.6 342.3h.7M242.9 354.5h.7M221.6 351.6h.7M226.7 353.7h.7M211.7 349.9h.7M243.9 358.7h.7M202.3 350.3h.7M266.1 360.5h.7M268.0 345.0h.7M208.7 337.9h.7M188.9 351.0h.7M208.5 346.0h.7M216.3 352.9h.7M250.0 359.0h.7M192.9 365.0h.7M224.4 346.9h.7M230.9 351.5h.7M201.0 365.7h.7M218.9 349.8h.7M243.5 367.3h.7M242.3 348.0h.7M241.3 363.0h.7M240.0 359.5h.7M221.0 353.8h.7M194.5 348.5h.7M206.6 354.2h.7M264.6 338.2h.7M202.5 347.1h.7M229.6 363.2h.7M214.5 348.4h.7M258.4 357.8h.7M243.3 361.0h.7M215.3 355.9h.7M217.1 348.9h.7M234.6 357.8h.7M203.5 348.3h.7M245.1 356.0h.7M246.3 352.4h.7M213.9 360.1h.7M244.9 333.4h.7M250.7 349.1h.7M246.4 366.6h.7M225.5 347.1h.7M237.3 355.3h.7M244.1 344.2h.7M237.1 361.3h.7M247.1 359.5h.7M258.1 348.8h.7M258.6 356.6h.7M209.7 351.9h.7M237.6 357.1h.7M261.4 356.5h.7M220.4 370.8h.7M224.3 348.2h.7M252.1 351.8h.7M214.2 346.2h.7M257.8 347.0h.7M233.9 351.1h.7M227.4 348.3h.7M235.0 359.1h.7M254.9 352.2h.7M205.9 343.0h.7M231.8 335.9h.7M261.0 355.3h.7M234.4 344.1h.7M217.5 348.7h.7M246.6 351.7h.7M245.3 358.6h.7M189.2 352.1h.7M259.5 351.2h.7M234.5 353.6h.7M204.7 370.5h.7M228.8 359.3h.7M221.8 364.9h.7M257.1 363.9h.7M252.7 360.2h.7M262.3 358.1h.7M234.7 360.7h.7M212.1 335.1h.7M249.6 356.0h.7M216.2 352.3h.7M210.7 347.9h.7M235.9 355.5h.7M250.1 354.2h.7M245.7 359.9h.7M216.3 341.6h.7M216.7 352.4h.7M220.1 370.9h.7M216.8 357.8h.7M215.0 359.4h.7M204.0 361.2h.7M235.8 351.6h.7M205.5 366.6h.7M219.1 365.2h.7M178.8 344.6h.7M232.2 362.1h.7M245.2 352.1h.7M234.7 346.0h.7M202.3 355.0h.7M247.9 356.0h.7M204.9 360.5h.7M233.8 360.2h.7M225.5 352.4h.7M255.0 365.2h.7M205.4 345.8h.7M253.2 357.6h.7M233.0 347.2h.7M254.1 356.3h.7M236.6 357.5h.7M220.4 357.3h.7M234.8 360.0h.7M240.2 345.1h.7M216.3 352.3h.7M257.4 350.1h.7M256.8 363.1h.7M251.1 371.8h.7M231.7 356.9h.7M258.7 358.1h.7M253.7 353.9h.7M263.0 357.7h.7M189.9 362.0h.7M227.7 347.8h.7M225.4 352.3h.7M257.1 357.5h.7M230.4 354.4h.7M212.2 349.4h.7M221.7 352.7h.7M206.3 351.1h.7M253.9 358.3h.7M231.9 357.1h.7M226.6 345.5h.7M251.3 371.8h.7M243.1 359.9h.7M243.4 352.2h.7M225.9 342.0h.7M230.2 357.5h.7M196.9 352.3h.7M221.2 346.8h.7M245.8 367.1h.7M241.1 362.4h.7M248.6 354.4h.7M244.7 364.7h.7M222.6 353.3h.7M201.7 340.0h.7M214.1 361.0h.7M239.9 356.6h.7M260.7 341.7h.7M262.1 355.7h.7M248.9 365.2h.7M214.2 347.7h.7M240.8 354.3h.7M219.2 353.4h.7M216.1 355.3h.7M223.5 367.2h.7M209.1 358.5h.7M233.6 366.5h.7M210.8 350.7h.7M223.6 351.4h.7M210.6 363.4h.7M265.0 354.0h.7M215.5 344.1h.7M246.4 350.8h.7M243.9 336.6h.7M222.7 359.1h.7M241.0 333.2h.7M238.4 355.6h.7M231.5 352.0h.7M222.3 355.5h.7M243.1 330.9h.7M231.7 361.5h.7M217.9 340.5h.7M203.8 343.9h.7M241.4 332.3h.7M253.7 328.3h.7M220.1 336.7h.7M243.1 334.7h.7M196.6 340.5h.7M218.9 336.6h.7M215.9 333.8h.7M195.0 337.7h.7M209.8 325.4h.7M230.4 334.2h.7M241.3 338.5h.7M198.2 333.5h.7M222.2 334.8h.7M201.4 334.7h.7M241.7 340.6h.7M251.1 338.2h.7M252.8 338.9h.7M222.1 336.2h.7M231.9 333.3h.7M249.4 343.5h.7M238.5 331.6h.7M227.2 339.3h.7M236.5 330.9h.7M241.1 338.0h.7M233.8 332.2h.7M221.7 324.8h.7M221.6 332.1h.7M216.4 332.9h.7M215.9 334.8h.7M224.2 331.3h.7M219.6 333.9h.7M232.0 336.6h.7M215.1 330.2h.7M189.8 328.1h.7M230.3 329.7h.7M254.0 333.6h.7M214.6 333.6h.7M211.4 331.2h.7M223.5 327.1h.7M224.9 333.9h.7M204.4 339.5h.7M229.4 339.8h.7M209.0 328.1h.7M198.8 326.5h.7M184.8 342.2h.7M212.8 335.3h.7M211.6 333.6h.7M253.4 325.6h.7M202.7 335.0h.7M204.3 337.8h.7M247.8 338.8h.7M237.0 333.5h.7M242.0 330.3h.7M198.7 333.0h.7M217.2 340.5h.7M202.7 340.1h.7M206.8 328.0h.7M188.7 334.2h.7M193.6 335.4h.7M223.1 332.3h.7M184.1 331.7h.7M231.0 325.4h.7M235.8 334.4h.7M211.4 335.4h.7M235.0 334.2h.7M206.8 338.3h.7M208.7 336.2h.7M241.4 340.9h.7M253.7 339.5h.7M225.0 333.3h.7M225.9 337.0h.7M205.8 342.0h.7M190.7 339.4h.7M196.9 328.9h.7M212.2 332.9h.7M195.5 337.5h.7M219.9 341.1h.7M202.0 325.3h.7M235.7 333.2h.7M241.4 322.6h.7M197.4 334.8h.7M260.7 328.2h.7M184.5 332.1h.7M250.1 342.3h.7M195.2 331.3h.7M185.7 330.1h.7M203.1 336.5h.7M244.6 346.3h.7M215.0 338.5h.7M226.4 335.0h.7M260.3 337.9h.7M253.0 335.9h.7M239.2 336.9h.7M220.2 330.9h.7M214.1 334.4h.7M214.6 332.6h.7M208.2 338.7h.7M217.3 333.8h.7M217.8 340.9h.7M211.5 341.4h.7M205.1 342.0h.7M234.2 331.9h.7M231.1 340.1h.7M203.3 333.2h.7M218.0 374.4h.7M207.3 378.8h.7M218.0 384.8h.7M238.8 369.4h.7M264.7 364.6h.7M244.1 370.5h.7M186.6 377.8h.7M206.3 390.0h.7M210.1 384.9h.7M219.5 385.3h.7M209.6 375.7h.7M234.0 391.8h.7M219.2 378.0h.7M197.2 402.5h.7M219.6 382.8h.7M183.9 389.2h.7M255.7 368.0h.7M208.8 394.4h.7M209.1 387.1h.7M247.0 359.0h.7M197.7 387.5h.7M214.6 377.7h.7M209.5 379.5h.7M218.8 371.5h.7M207.5 381.0h.7M193.1 385.8h.7M210.3 365.7h.7M236.5 360.9h.7M249.3 363.3h.7M234.0 373.0h.7M241.2 370.0h.7M230.8 370.9h.7M179.1 387.8h.7M220.9 380.3h.7M242.3 364.5h.7M187.0 385.0h.7M200.1 378.8h.7M212.4 369.1h.7M231.9 372.8h.7M244.4 374.4h.7M231.3 371.2h.7M200.7 374.3h.7M196.8 385.2h.7M214.9 365.9h.7M185.0 373.7h.7M179.9 374.4h.7M185.4 390.0h.7M191.8 375.3h.7M210.3 378.4h.7M220.0 384.2h.7M223.9 372.0h.7M234.7 377.4h.7M199.8 395.6h.7M191.4 386.5h.7M234.8 374.7h.7M218.6 377.8h.7M224.3 377.8h.7M212.6 385.0h.7M178.7 386.5h.7M207.1 399.1h.7M217.6 369.8h.7M224.1 371.5h.7M191.3 378.6h.7M221.4 388.4h.7M231.2 376.6h.7M209.6 380.3h.7M234.0 372.4h.7M233.1 365.6h.7M212.2 385.7h.7M225.0 377.4h.7M203.3 360.7h.7M204.6 370.3h.7M205.3 395.4h.7M198.7 389.0h.7M212.1 366.2h.7M214.4 385.1h.7M191.3 369.5h.7M205.7 386.4h.7M201.7 384.0h.7M220.6 376.3h.7M220.5 389.3h.7M209.0 381.7h.7M193.5 373.7h.7M210.7 386.4h.7M200.5 365.5h.7M228.9 399.2h.7M214.6 382.3h.7M195.6 384.2h.7M232.0 371.2h.7M225.4 376.6h.7M195.9 374.4h.7M201.6 393.4h.7M233.0 376.4h.7M184.6 377.7h.7M205.3 359.1h.7M212.1 380.7h.7M188.9 377.6h.7M204.3 398.2h.7M224.2 383.4h.7M214.0 364.2h.7M228.8 367.7h.7M178.2 391.4h.7M206.3 378.8h.7M221.6 373.6h.7M219.7 389.6h.7M206.7 375.1h.7M212.7 384.2h.7M205.3 379.8h.7M200.3 379.1h.7M222.1 367.5h.7M209.2 363.2h.7M200.0 380.7h.7M221.8 365.3h.7M210.6 368.4h.7M218.0 379.3h.7M220.3 374.0h.7M187.1 376.5h.7M188.6 375.1h.7M211.4 388.9h.7M201.0 371.8h.7M216.0 355.8h.7M247.8 355.4h.7M230.4 384.4h.7M229.5 373.4h.7M225.4 371.7h.7M229.5 367.8h.7M197.9 384.2h.7M204.4 386.0h.7M197.2 383.2h.7M195.0 379.8h.7M250.5 359.6h.7M190.6 365.3h.7M208.4 395.0h.7M204.4 388.6h.7M209.1 371.8h.7M248.0 382.1h.7M179.8 373.6h.7M219.7 382.9h.7M208.4 381.6h.7M221.9 372.3h.7M230.1 365.7h.7M225.8 384.5h.7M216.0 373.5h.7M212.1 355.0h.7M216.9 362.3h.7M176.7 392.0h.7M196.2 384.2h.7M213.2 359.6h.7M196.4 377.8h.7M220.7 376.8h.7M190.0 376.3h.7M214.3 364.3h.7M204.6 373.5h.7M228.0 370.0h.7M229.2 363.9h.7M239.5 368.9h.7M214.9 371.3h.7M214.0 380.7h.7M213.0 369.1h.7M225.8 380.8h.7M212.4 388.3h.7M199.3 393.0h.7M209.6 393.6h.7M204.6 376.5h.7M216.1 388.1h.7M237.9 368.3h.7M199.5 387.8h.7M234.4 380.8h.7M206.6 391.6h.7M212.0 379.4h.7M223.4 369.8h.7M225.1 379.8h.7M222.0 377.5h.7M230.9 375.4h.7M238.9 373.3h.7M226.5 369.4h.7M217.7 381.0h.7M214.9 392.9h.7M213.2 388.9h.7M218.6 387.6h.7M196.4 376.9h.7M229.5 366.2h.7M219.4 382.1h.7M215.9 381.4h.7M222.0 373.5h.7M219.7 371.0h.7M204.4 363.0h.7M210.6 360.7h.7M212.9 379.7h.7M193.1 381.9h.7M217.5 373.1h.7M196.3 379.5h.7M219.7 385.7h.7M246.7 351.3h.7M218.5 380.9h.7M201.1 383.0h.7M249.5 372.0h.7M236.6 384.0h.7M204.6 355.6h.7M233.0 389.5h.7M181.2 381.3h.7M200.0 382.0h.7M213.5 389.0h.7M201.9 399.1h.7M182.1 385.4h.7M259.9 367.9h.7M223.6 370.8h.7M206.2 359.3h.7M216.2 384.4h.7M222.3 351.4h.7M209.0 362.1h.7M188.6 386.1h.7M232.6 385.7h.7M200.7 384.9h.7M180.9 368.4h.7M222.1 371.8h.7M194.3 362.0h.7M208.2 401.1h.7M232.4 354.5h.7M201.3 380.3h.7M232.5 373.2h.7M244.8 371.4h.7M194.0 400.9h.7M198.6 391.5h.7M185.7 397.6h.7M198.5 392.8h.7M188.0 395.2h.7M198.4 396.7h.7M201.0 400.7h.7M186.0 397.3h.7M182.8 399.3h.7M203.1 394.0h.7M177.6 401.3h.7M192.2 398.6h.7M199.6 400.6h.7M204.3 396.6h.7M192.0 396.8h.7M199.0 397.6h.7M207.9 395.7h.7M195.0 397.0h.7M216.1 394.1h.7M185.2 396.9h.7M202.7 398.8h.7M193.3 391.7h.7M198.8 400.8h.7M204.7 394.4h.7M182.9 397.0h.7M209.8 403.6h.7M189.3 392.7h.7M204.3 404.1h.7M187.4 402.4h.7M193.0 397.2h.7M189.0 402.2h.7M201.2 402.7h.7M192.3 394.6h.7M193.2 393.2h.7M210.0 399.4h.7M195.6 402.9h.7M198.6 399.3h.7M214.8 389.6h.7M201.5 394.0h.7M195.8 397.9h.7M197.7 387.0h.7M191.0 403.2h.7M201.3 400.2h.7M190.1 401.9h.7M203.4 395.3h.7M199.9 399.6h.7M208.4 399.2h.7M191.4 401.6h.7M208.6 401.3h.7M204.5 400.1h.7M198.6 392.5h.7" stroke="#333" stroke-width=".7" fill="none"/>
<path d="M178.7 398.8C176.9 396.7 176.6 391.4 176.2 387.2C175.9 383.1 176.1 378.1 176.8 373.8C177.5 369.4 178.9 364.2 180.7 361.3C182.4 358.3 184.7 357.0 187.4 356.1C190.1 355.1 194.6 356.0 197.0 355.5C199.4 355.0 199.4 353.7 201.8 353.2C204.2 352.7 208.4 352.3 211.4 352.6C214.5 352.9 218.2 354.2 220.1 355.1C222.0 356.0 222.7 356.9 222.8 357.8C222.8 358.7 221.5 359.8 220.5 360.7C219.4 361.6 218.2 362.4 216.6 363.0C215.0 363.6 212.2 363.1 211.0 364.5C209.9 366.0 210.7 369.7 209.7 371.8C208.7 374.0 206.8 375.9 205.1 377.6C203.3 379.3 201.0 379.1 199.3 381.8C197.6 384.6 196.7 391.0 194.7 394.0C192.6 396.9 189.7 398.9 187.0 399.7C184.3 400.5 180.5 400.9 178.7 398.8Z" fill="#fff" stroke="#222" stroke-width=".6"/>
<path d="M183.5 364.2C184.5 361.7 184.8 361.7 186.4 360.7C188.0 359.7 190.8 358.9 193.2 358.4C195.6 357.9 198.0 357.9 200.8 357.6C203.7 357.3 207.3 356.4 210.5 356.5C213.6 356.5 218.7 357.2 219.7 358.0C220.7 358.8 219.0 360.1 216.6 361.1C214.3 362.0 208.2 362.9 205.7 363.8C203.1 364.6 201.7 365.0 201.2 366.1C200.8 367.2 202.8 368.7 202.8 370.3C202.7 371.9 201.9 374.1 200.8 375.7C199.8 377.3 198.1 377.4 196.6 379.9C195.2 382.5 193.7 388.6 192.2 391.1C190.7 393.6 189.1 394.9 187.4 394.9C185.6 394.9 182.7 394.3 181.6 391.1C180.5 387.9 180.3 380.2 180.7 375.7C181.0 371.2 182.6 366.7 183.5 364.2Z" fill="none" stroke="#333" stroke-width=".5"/>
<path d="M229.7 355.7C231.0 354.7 234.4 354.3 237.4 353.8C240.3 353.3 245.1 352.4 247.4 352.6C249.6 352.9 250.5 353.9 250.8 355.3C251.2 356.7 251.2 359.6 249.3 361.1C247.4 362.6 242.6 363.9 239.7 364.2C236.8 364.4 233.7 363.6 232.0 362.8C230.3 362.0 229.7 360.7 229.3 359.5C228.9 358.4 228.3 356.7 229.7 355.7Z" fill="#fff" stroke="#222" stroke-width=".6"/>
<path d="M223.2 357.6C223.6 357.0 224.9 356.4 225.8 356.5C226.8 356.5 228.5 357.2 228.9 358.0C229.4 358.8 229.1 360.4 228.5 361.1C228.0 361.7 226.4 362.0 225.5 361.8C224.6 361.7 223.5 361.0 223.2 360.3C222.8 359.6 222.7 358.3 223.2 357.6Z" fill="#fff" stroke="#222" stroke-width=".6"/>
<path d="M224.7 358.4C225.1 358.1 226.9 358.1 227.4 358.4C227.8 358.7 227.8 360.0 227.4 360.3C226.9 360.6 225.1 360.6 224.7 360.3C224.2 360.0 224.2 358.7 224.7 358.4Z" fill="none" stroke="#333" stroke-width=".5"/>
<ellipse cx="186.4" cy="378.3" rx="9.0" ry="16.5" fill="#000" fill-opacity=".06" stroke="#111" stroke-width=".7"/>
<ellipse cx="186.3" cy="378.3" rx="8.0" ry="14.6" fill="#000" fill-opacity=".06" stroke="#111" stroke-width=".7"/>
<ellipse cx="186.2" cy="378.3" rx="6.9" ry="12.7" fill="#000" fill-opacity=".06" stroke="#111" stroke-width=".7"/>
<ellipse cx="186.1" cy="378.3" rx="5.9" ry="10.8" fill="#000" fill-opacity=".06" stroke="#111" stroke-width=".7"/>
<ellipse cx="185.9" cy="378.3" rx="4.9" ry="8.9" fill="#000" fill-opacity=".06" stroke="#111" stroke-width=".7"/>
<ellipse cx="185.8" cy="378.3" rx="3.8" ry="7.0" fill="#000" fill-opacity=".06" stroke="#111" stroke-width=".7"/>
<ellipse cx="185.7" cy="378.3" rx="2.8" ry="5.1" fill="#000" fill-opacity=".06" stroke="#111" stroke-width=".7"/>
<ellipse cx="185.6" cy="378.3" rx="1.8" ry="3.2" fill="#000" fill-opacity=".06" stroke="#111" stroke-width=".7"/>
<line x1="175.8" y1="341.5" x2="269.5" y2="341.5" stroke="#2a2a2a" stroke-width="1"/>
<line x1="175.8" y1="364.5" x2="269.5" y2="364.5" stroke="#777" stroke-width="1"/>
<path d="M175.8 320.5H269.5M269.0 320.5V405.8" stroke="#222" stroke-width="1" fill="none"/>
<path d="M176.3 320.5V406.0H269.5" stroke="#000" stroke-width="1.2" fill="none"/>
<path d="M172.8 402.3H175.8M172.8 385.8H175.8M173.8 380.1H175.8M173.8 376.7H175.8M173.8 374.4H175.8M173.8 372.5H175.8M173.8 371.0H175.8M173.8 369.7H175.8M173.8 368.6H175.8M173.8 367.7H175.8M172.8 365.3H175.8M173.8 359.6H175.8M173.8 356.2H175.8M173.8 353.9H175.8M173.8 352.0H175.8M173.8 350.5H175.8M173.8 349.2H175.8M173.8 348.1H175.8M173.8 347.2H175.8M172.8 346.3H175.8M173.8 340.6H175.8M173.8 337.2H175.8M173.8 334.9H175.8M173.8 333.0H175.8M173.8 331.5H175.8M173.8 330.2H175.8M173.8 329.1H175.8M173.8 328.2H175.8M172.8 328.8H175.8M173.8 323.1H175.8M187.3 405.8V408.8M194.8 405.8V408.8M201.4 405.8V407.40000000000003M205.3 405.8V407.40000000000003M208.0 405.8V407.40000000000003M210.2 405.8V407.40000000000003M211.9 405.8V407.40000000000003M213.4 405.8V407.40000000000003M214.7 405.8V407.40000000000003M215.8 405.8V407.40000000000003M217.3 405.8V408.8M223.9 405.8V407.40000000000003M227.8 405.8V407.40000000000003M230.5 405.8V407.40000000000003M232.7 405.8V407.40000000000003M234.4 405.8V407.40000000000003M235.9 405.8V407.40000000000003M237.2 405.8V407.40000000000003M238.3 405.8V407.40000000000003M239.3 405.8V408.8M245.9 405.8V407.40000000000003M249.8 405.8V407.40000000000003M252.5 405.8V407.40000000000003M254.7 405.8V407.40000000000003M256.4 405.8V407.40000000000003M257.9 405.8V407.40000000000003M259.2 405.8V407.40000000000003M260.3 405.8V407.40000000000003M261.3 405.8V408.8M267.9 405.8V407.40000000000003M177.8 405.8V407.40000000000003M179.8 405.8V407.40000000000003M181.8 405.8V407.40000000000003M183.8 405.8V407.40000000000003M189.3 405.8V407.40000000000003M191.3 405.8V407.40000000000003M192.8 405.8V407.40000000000003" stroke="#000" stroke-width=".9" fill="none"/>
<text x="194.8" y="414.5" font-size="3.8" text-anchor="middle" fill="#111" class="t">10<tspan font-size="2.8" dy="-1.6">2</tspan></text>
<text x="217.3" y="414.5" font-size="3.8" text-anchor="middle" fill="#111" class="t">10<tspan font-size="2.8" dy="-1.6">3</tspan></text>
<text x="239.3" y="414.5" font-size="3.8" text-anchor="middle" fill="#111" class="t">10<tspan font-size="2.8" dy="-1.6">4</tspan></text>
<text x="261.3" y="414.5" font-size="3.8" text-anchor="middle" fill="#111" class="t">10<tspan font-size="2.8" dy="-1.6">5</tspan></text>
<text x="187.3" y="414.5" font-size="3.8" text-anchor="middle" fill="#111" class="t">0</text>
<text x="174.8" y="417.8" font-size="3.6" text-anchor="middle" fill="#111" class="t">-337</text>
<text x="170.8" y="385.8" font-size="3.8" text-anchor="middle" transform="rotate(-90 170.8 385.8)" fill="#111" class="t">10<tspan font-size="2.8" dy="-1.6">2</tspan></text>
<text x="170.8" y="365.3" font-size="3.8" text-anchor="middle" transform="rotate(-90 170.8 365.3)" fill="#111" class="t">10<tspan font-size="2.8" dy="-1.6">3</tspan></text>
<text x="170.8" y="346.3" font-size="3.8" text-anchor="middle" transform="rotate(-90 170.8 346.3)" fill="#111" class="t">10<tspan font-size="2.8" dy="-1.6">4</tspan></text>
<text x="170.8" y="328.8" font-size="3.8" text-anchor="middle" transform="rotate(-90 170.8 328.8)" fill="#111" class="t">10<tspan font-size="2.8" dy="-1.6">5</tspan></text>
<text x="169.3" y="403.3" font-size="3.4" text-anchor="middle" transform="rotate(-90 169.3 403.3)" fill="#111" class="t">-153</text>
</g>
<g>
<path d="M299.8 389.6h.7M311.1 360.6h.7M312.1 386.5h.7M311.2 357.9h.7M299.9 359.1h.7M321.7 376.0h.7M302.3 359.7h.7M315.2 372.0h.7M316.8 362.5h.7M313.7 384.8h.7M313.5 365.5h.7M314.4 386.9h.7M307.4 358.9h.7M314.7 370.5h.7M314.0 373.8h.7M314.9 371.0h.7M313.8 375.8h.7M308.1 358.6h.7M303.1 357.8h.7M307.4 394.2h.7M303.5 359.3h.7M304.6 392.9h.7M296.1 374.2h.7M315.4 365.9h.7M314.7 371.4h.7M308.6 358.1h.7M308.5 391.2h.7M310.5 390.3h.7M296.0 375.8h.7M305.6 358.8h.7M302.2 359.5h.7M312.5 363.9h.7M314.9 378.6h.7M308.9 358.0h.7M312.5 362.1h.7M304.4 359.1h.7M307.0 357.2h.7M313.2 364.2h.7M309.3 390.9h.7M312.5 366.6h.7M314.5 377.4h.7M315.2 370.4h.7M302.7 358.9h.7M314.2 369.8h.7M315.5 381.4h.7M309.6 356.8h.7M310.4 360.5h.7M315.8 378.2h.7M296.2 368.9h.7M315.2 379.0h.7M310.1 361.0h.7M312.3 365.2h.7M317.3 372.7h.7M305.9 356.9h.7M311.0 389.5h.7M312.1 355.6h.7M309.1 355.6h.7M314.6 382.8h.7M311.6 387.3h.7M309.0 355.9h.7M308.5 360.3h.7M314.0 369.5h.7M300.4 391.4h.7M304.0 356.4h.7M302.5 392.5h.7M314.2 375.5h.7M314.2 380.5h.7M309.5 391.5h.7M308.6 391.1h.7M310.2 356.4h.7M311.8 364.8h.7M313.9 392.2h.7M314.2 371.2h.7M301.0 358.1h.7M300.4 391.2h.7M307.6 359.5h.7M311.1 359.6h.7M314.5 369.4h.7M316.4 373.9h.7M308.1 355.8h.7M312.4 387.9h.7M315.6 369.7h.7M305.9 393.9h.7M311.5 358.6h.7M311.9 363.1h.7M314.8 379.6h.7M315.8 378.6h.7M302.3 393.2h.7M315.3 369.8h.7M298.2 363.7h.7M314.5 379.2h.7M310.7 363.2h.7M311.3 361.0h.7M316.4 367.2h.7M304.3 359.0h.7M309.9 359.5h.7M317.1 387.7h.7M305.7 357.2h.7M308.9 358.7h.7M314.3 376.7h.7M305.3 393.5h.7M302.2 358.1h.7M315.4 355.7h.7M304.7 395.3h.7M310.0 357.2h.7M307.0 392.4h.7M310.6 358.6h.7M302.2 393.8h.7M301.5 358.6h.7M302.1 359.4h.7M307.0 358.7h.7M300.1 360.3h.7M306.2 392.6h.7M316.0 371.6h.7M308.2 358.3h.7M303.4 359.1h.7M308.5 354.2h.7M317.6 373.1h.7M306.4 394.9h.7M303.8 392.7h.7M314.2 381.9h.7M309.7 360.5h.7M319.9 375.5h.7M311.8 390.6h.7M312.5 365.2h.7M308.2 392.0h.7M307.7 392.3h.7M298.7 388.3h.7M314.2 367.5h.7M314.3 373.0h.7M308.3 392.0h.7M296.5 383.5h.7M304.9 356.3h.7M306.6 392.9h.7M306.7 395.4h.7M297.3 365.7h.7M303.6 358.4h.7M305.6 356.7h.7M310.2 355.7h.7M308.8 358.4h.7M303.4 392.4h.7M304.0 358.1h.7M303.4 356.5h.7M307.8 359.4h.7M295.4 376.4h.7M312.8 368.2h.7M309.9 358.1h.7M302.9 359.0h.7M305.4 392.7h.7M319.5 381.0h.7M315.2 367.4h.7M315.4 380.6h.7M314.0 392.1h.7M317.8 381.2h.7M312.9 364.8h.7M312.9 361.2h.7M316.5 378.3h.7M304.9 393.2h.7M311.4 360.4h.7M314.3 386.1h.7M314.0 386.8h.7M307.5 359.2h.7M315.8 382.4h.7M306.9 393.3h.7M314.2 371.8h.7M315.2 378.7h.7M312.9 368.8h.7M304.7 393.5h.7M313.9 393.8h.7M313.6 389.4h.7M299.1 361.9h.7M296.0 374.0h.7M310.8 352.9h.7M301.3 391.7h.7M310.2 390.4h.7M306.1 353.3h.7M320.4 385.2h.7M312.7 384.5h.7M314.0 381.0h.7M304.3 357.2h.7M314.8 370.3h.7M299.6 361.5h.7M303.9 392.8h.7M306.9 358.7h.7M303.6 357.9h.7M312.4 385.0h.7M297.7 364.8h.7M314.1 371.8h.7M313.6 385.6h.7M316.3 371.3h.7M301.5 359.7h.7M308.2 356.9h.7M302.2 392.4h.7M316.3 389.6h.7M315.5 386.1h.7M315.7 371.3h.7M303.3 355.6h.7M307.7 358.8h.7M314.1 363.8h.7M316.2 373.9h.7M308.0 359.5h.7M313.4 367.8h.7M315.4 376.2h.7M308.3 393.1h.7M313.3 361.4h.7M311.4 393.5h.7M302.3 359.7h.7M314.8 381.1h.7M313.9 363.5h.7M307.8 358.9h.7M307.6 359.8h.7M313.8 370.4h.7M314.7 380.5h.7M311.9 393.5h.7M313.8 374.6h.7M312.9 387.0h.7M307.7 359.3h.7M312.6 392.3h.7M313.9 359.7h.7M302.9 392.6h.7M313.1 389.9h.7M303.4 358.0h.7M312.9 393.3h.7M305.2 359.1h.7M308.2 393.2h.7M309.3 356.4h.7M307.2 357.3h.7M314.0 369.1h.7M314.5 384.3h.7M311.8 365.6h.7M303.0 356.1h.7M304.0 359.1h.7M308.6 355.9h.7M313.7 372.9h.7M309.1 358.7h.7M307.4 359.6h.7M299.1 390.8h.7M306.4 395.6h.7M302.3 392.4h.7M312.3 391.9h.7M307.0 392.5h.7M308.6 357.1h.7M310.9 391.4h.7M308.3 356.2h.7M313.4 385.4h.7M309.2 360.7h.7M298.4 389.2h.7M313.1 367.0h.7M307.8 357.7h.7M312.2 361.6h.7M305.8 393.2h.7M315.3 378.7h.7M305.3 393.7h.7M310.3 362.2h.7M306.9 359.3h.7M309.4 353.9h.7M311.4 363.7h.7M302.4 358.8h.7M315.3 379.3h.7M307.4 358.7h.7M308.6 393.1h.7M312.6 361.9h.7M315.8 373.0h.7M304.5 357.8h.7M301.6 394.3h.7M314.4 385.9h.7M315.2 378.7h.7M307.1 393.2h.7M308.9 359.2h.7M306.6 357.8h.7M303.4 354.1h.7M303.1 358.6h.7M315.2 358.6h.7M310.8 362.8h.7M316.0 372.5h.7M309.1 355.2h.7M307.1 357.3h.7M301.9 356.4h.7M313.2 369.6h.7M314.7 389.6h.7M303.3 358.6h.7M315.7 384.6h.7M303.5 392.8h.7M314.0 368.6h.7M312.4 387.7h.7M312.4 366.9h.7M307.4 354.7h.7M310.0 352.8h.7M315.2 364.2h.7M311.6 362.8h.7M304.9 358.7h.7M311.1 359.6h.7M302.5 394.2h.7M308.1 392.0h.7M315.2 371.7h.7M311.4 360.2h.7M296.7 366.6h.7M307.4 357.5h.7M300.0 361.9h.7M312.5 357.1h.7M313.1 365.0h.7M308.4 357.6h.7M313.6 372.7h.7M316.5 384.2h.7M309.6 390.7h.7M316.3 375.1h.7M305.6 356.5h.7M314.5 369.9h.7M320.7 378.7h.7M303.5 395.1h.7M302.0 392.4h.7M298.7 389.1h.7M303.8 356.7h.7M312.8 385.8h.7M315.1 379.9h.7M315.9 381.7h.7M305.7 356.1h.7M313.1 365.2h.7M314.5 356.4h.7M308.4 355.6h.7M312.5 367.1h.7M312.9 358.2h.7M305.5 358.0h.7M302.9 357.3h.7M313.9 364.6h.7M313.9 367.2h.7M302.5 393.0h.7M307.3 351.8h.7M313.9 372.7h.7M312.9 386.1h.7M319.9 366.5h.7M316.2 370.6h.7M312.5 362.7h.7M304.1 358.1h.7M307.9 394.0h.7M311.2 355.6h.7M304.0 393.9h.7M315.1 377.4h.7M314.0 378.4h.7M297.5 385.5h.7M305.1 393.6h.7M313.9 378.3h.7M315.1 378.4h.7M313.9 373.8h.7M307.5 391.9h.7M310.1 357.9h.7M306.9 392.8h.7M316.2 376.5h.7M314.9 372.4h.7M312.9 366.8h.7M302.4 359.4h.7M306.3 355.1h.7M317.1 378.0h.7M315.2 361.8h.7M295.3 376.9h.7M305.0 353.1h.7M311.9 364.3h.7M302.3 393.4h.7M313.1 369.8h.7M315.4 357.2h.7M296.3 380.7h.7M301.8 359.1h.7M307.1 358.9h.7M307.1 356.3h.7M295.4 381.7h.7M301.7 358.5h.7M314.3 371.3h.7M318.5 369.8h.7M314.3 378.2h.7M301.2 360.7h.7M309.0 394.5h.7M314.2 366.1h.7M296.5 381.7h.7M295.8 380.9h.7M302.9 355.2h.7M312.2 387.7h.7M316.5 361.0h.7M303.5 393.3h.7M303.1 356.0h.7M314.8 368.1h.7M311.4 361.2h.7M305.6 358.1h.7M314.5 365.5h.7M308.6 358.4h.7M307.9 356.2h.7M300.2 359.1h.7M303.8 356.9h.7M301.4 359.6h.7M313.4 379.6h.7M304.9 393.5h.7M315.1 367.2h.7M299.0 359.4h.7M309.0 394.6h.7M297.7 364.0h.7M317.4 380.0h.7M314.6 373.6h.7M301.4 358.7h.7M315.6 377.4h.7M307.3 355.8h.7M307.9 355.9h.7M314.5 373.5h.7M302.3 393.7h.7M315.1 365.2h.7M315.4 377.1h.7M315.4 361.7h.7M297.1 384.1h.7M316.1 380.3h.7M310.0 355.4h.7M307.5 355.6h.7M306.7 393.5h.7M308.6 360.2h.7M314.2 374.3h.7M307.9 357.7h.7M307.7 359.0h.7M305.9 357.7h.7M303.3 358.0h.7M303.1 358.7h.7M314.9 364.7h.7M309.9 358.6h.7M316.1 371.5h.7M314.0 375.5h.7M305.3 393.9h.7M316.5 369.3h.7M314.1 371.0h.7M306.8 356.2h.7M308.6 359.7h.7M304.0 394.1h.7M310.5 361.3h.7M301.3 359.7h.7M316.7 366.7h.7M314.1 375.4h.7M315.6 369.7h.7M313.3 387.2h.7M305.1 354.8h.7M313.3 383.8h.7M310.5 354.7h.7M307.8 359.8h.7M309.9 361.7h.7M308.2 359.4h.7M316.0 379.5h.7M310.1 362.0h.7M296.1 384.5h.7M316.2 376.8h.7M306.7 393.2h.7M312.1 365.4h.7M304.1 354.3h.7M305.9 351.2h.7M303.3 392.5h.7M308.0 353.1h.7M311.0 360.1h.7M315.5 378.5h.7M316.1 371.4h.7M313.6 380.2h.7M306.8 357.8h.7M313.7 371.4h.7M314.9 368.9h.7M313.2 370.0h.7M309.2 391.7h.7M306.2 393.6h.7M301.0 392.6h.7M312.5 362.7h.7M313.3 385.7h.7M315.9 372.1h.7M298.6 387.9h.7M310.6 388.9h.7M304.5 394.5h.7M304.7 355.3h.7M314.5 359.5h.7M311.1 360.5h.7M303.7 357.9h.7M306.6 357.8h.7M304.3 394.4h.7M299.1 362.6h.7M296.4 368.1h.7M301.0 359.9h.7M308.9 360.0h.7M310.6 359.4h.7M306.8 356.9h.7M302.6 359.0h.7M307.0 394.5h.7M303.3 392.9h.7M296.8 383.5h.7M303.1 355.3h.7M298.9 389.1h.7M318.3 379.3h.7M305.5 358.7h.7M318.6 374.8h.7M314.8 372.7h.7M311.9 361.1h.7M295.5 377.1h.7M318.3 371.1h.7M305.0 359.1h.7M306.0 356.4h.7M302.1 359.6h.7M313.0 386.0h.7M302.7 356.5h.7M297.9 365.5h.7M306.6 395.3h.7M305.3 353.9h.7M313.4 383.8h.7M307.6 359.0h.7M308.8 359.3h.7M311.4 360.5h.7M312.9 387.1h.7M305.6 392.8h.7M314.3 374.0h.7M314.8 380.7h.7M301.3 359.6h.7M318.5 364.2h.7M300.5 358.8h.7M317.3 379.6h.7M311.9 389.4h.7M305.9 356.9h.7M318.0 387.7h.7M308.6 360.4h.7M312.1 362.0h.7M303.3 358.8h.7M312.1 366.1h.7M314.2 376.6h.7M301.8 393.3h.7M315.6 383.9h.7M317.5 377.6h.7M314.5 367.8h.7M300.7 360.5h.7M308.3 359.8h.7M313.8 379.6h.7M310.8 361.6h.7M314.1 383.1h.7M303.5 356.1h.7M302.7 392.4h.7M314.2 388.6h.7M311.5 350.7h.7M303.5 357.0h.7M300.2 390.9h.7M306.8 356.1h.7M299.1 362.3h.7M296.1 372.7h.7M311.1 358.3h.7M296.7 382.8h.7M311.4 358.9h.7M315.1 387.5h.7M314.9 382.8h.7M304.1 358.3h.7M303.3 393.1h.7M308.5 393.3h.7M312.6 367.6h.7M311.7 361.2h.7M312.7 388.4h.7M295.6 379.7h.7M318.1 378.0h.7M314.5 368.1h.7M310.1 394.1h.7M312.3 360.0h.7M305.6 357.6h.7M314.4 370.5h.7M304.4 394.1h.7M313.3 356.3h.7M305.2 392.6h.7M308.9 360.7h.7M303.7 394.1h.7M316.4 377.2h.7M304.3 357.3h.7M313.4 390.3h.7M310.5 356.9h.7M310.2 355.1h.7M318.4 363.4h.7M306.9 357.7h.7M317.9 373.7h.7M309.0 360.5h.7M317.2 363.5h.7M313.0 366.4h.7M304.9 358.4h.7M315.3 373.0h.7M308.9 356.4h.7M313.4 370.6h.7M315.9 373.1h.7M312.0 353.2h.7M315.1 364.4h.7M297.7 365.1h.7M310.7 391.1h.7M305.4 392.6h.7M309.7 359.3h.7M312.9 356.1h.7M304.5 356.8h.7M314.5 376.2h.7M304.1 392.7h.7M309.2 355.1h.7M302.6 356.6h.7M304.0 356.4h.7M308.2 392.2h.7M300.5 393.8h.7M313.3 363.2h.7M317.2 380.5h.7M307.9 354.5h.7M314.7 371.5h.7M302.8 358.4h.7M309.0 354.7h.7M308.2 391.5h.7M305.4 358.6h.7M297.9 363.9h.7M312.8 358.3h.7M313.1 366.3h.7M308.2 393.5h.7M297.0 384.8h.7M312.7 390.1h.7M304.8 354.6h.7M303.8 356.9h.7M302.7 358.9h.7M314.8 377.8h.7M306.4 356.5h.7M313.1 364.3h.7M319.3 375.6h.7M306.5 392.7h.7M312.9 385.2h.7M295.0 373.7h.7M309.0 360.5h.7M314.7 382.7h.7M297.3 384.7h.7M316.8 368.1h.7M312.0 364.2h.7M314.1 365.7h.7M313.8 379.6h.7M299.1 358.7h.7M310.6 359.9h.7M315.2 371.8h.7M306.5 356.7h.7M302.0 358.0h.7M307.4 394.2h.7M303.4 392.3h.7M304.7 393.0h.7M314.3 378.8h.7M313.1 361.7h.7M303.3 357.5h.7M309.7 361.4h.7M318.3 368.5h.7M311.2 389.2h.7M314.7 382.2h.7M297.1 383.3h.7M318.5 365.6h.7M304.7 357.2h.7M315.8 370.4h.7M305.5 393.1h.7M310.3 357.8h.7M303.1 358.9h.7M318.7 368.1h.7M309.0 358.9h.7M308.8 391.6h.7M302.6 356.9h.7M314.4 385.5h.7M312.1 392.0h.7M308.5 354.9h.7M305.5 392.8h.7M307.1 358.9h.7M303.6 356.4h.7M312.7 367.2h.7M313.9 382.6h.7M303.6 358.3h.7M312.2 364.4h.7M305.2 392.6h.7M306.8 358.1h.7M316.9 372.0h.7M313.5 383.7h.7M295.7 370.6h.7M300.7 391.7h.7M314.2 378.8h.7M305.9 357.9h.7M319.6 368.6h.7M305.3 392.6h.7M314.6 358.9h.7M310.0 360.2h.7M317.3 370.2h.7M301.6 359.8h.7M312.3 366.2h.7M318.7 374.8h.7M296.5 381.6h.7M320.3 362.4h.7M308.8 358.5h.7M316.0 365.9h.7M312.4 366.2h.7M316.8 362.2h.7M304.4 392.7h.7M303.2 359.1h.7M316.5 381.1h.7M301.3 358.9h.7M299.9 392.5h.7M308.8 391.0h.7M314.4 377.1h.7M301.5 392.1h.7M304.7 359.0h.7M304.2 358.8h.7M303.7 356.4h.7M310.0 360.3h.7M306.2 392.7h.7M303.9 396.3h.7M313.4 386.2h.7M314.2 373.7h.7M304.4 392.5h.7M297.3 386.3h.7M303.7 358.6h.7M302.5 359.4h.7M299.9 390.2h.7M310.2 359.3h.7M313.1 388.1h.7M313.6 369.3h.7M315.4 377.5h.7M312.5 354.1h.7M309.1 358.7h.7M310.8 358.6h.7M309.2 354.1h.7M301.4 391.5h.7M317.4 370.3h.7M314.9 372.8h.7M314.7 382.8h.7M305.2 393.0h.7M304.5 356.3h.7M302.3 392.2h.7M306.0 357.3h.7M312.9 357.9h.7M307.0 393.2h.7M314.9 370.7h.7M312.9 366.1h.7M309.3 361.2h.7M307.0 353.2h.7M315.4 377.1h.7M302.0 359.7h.7M313.3 367.3h.7M307.5 393.4h.7M302.7 359.4h.7M305.6 393.7h.7M308.2 357.8h.7M317.3 383.6h.7M315.3 372.0h.7M315.4 374.0h.7M305.2 394.8h.7M300.5 391.8h.7M305.3 393.8h.7M313.2 368.1h.7M307.4 357.4h.7M307.3 355.6h.7M306.9 358.9h.7M312.3 358.9h.7M306.3 358.3h.7M313.3 384.3h.7M306.1 392.4h.7M297.8 364.8h.7M313.3 360.7h.7M313.6 358.0h.7M305.0 356.6h.7M312.7 367.2h.7M309.7 356.7h.7M309.7 356.7h.7M316.2 379.8h.7M313.3 363.5h.7M313.9 365.8h.7M304.0 357.0h.7M314.3 376.0h.7M306.9 358.9h.7M311.2 363.2h.7M305.9 357.1h.7M307.9 356.9h.7M302.8 392.4h.7M312.8 390.6h.7M302.4 392.9h.7M314.5 364.8h.7M302.1 357.5h.7M313.7 382.5h.7M308.6 360.3h.7M307.3 392.0h.7M305.0 358.0h.7M311.7 393.8h.7M301.6 394.6h.7M317.8 380.3h.7M301.8 359.1h.7M310.9 361.0h.7M315.7 374.7h.7M309.1 360.2h.7M313.8 360.5h.7M313.7 368.6h.7M314.0 375.4h.7M312.5 366.0h.7M295.8 370.0h.7M304.1 359.1h.7M311.2 360.2h.7M304.2 394.0h.7M310.7 363.0h.7M306.6 357.4h.7M314.4 367.4h.7M313.1 382.7h.7M316.0 366.7h.7M310.2 357.1h.7M317.1 376.9h.7M317.9 375.5h.7M301.8 359.0h.7M307.6 393.3h.7M313.8 375.1h.7M307.2 357.4h.7M308.5 355.0h.7M313.7 371.5h.7M306.8 359.5h.7M304.1 393.3h.7M295.4 377.7h.7M308.9 353.9h.7M303.4 358.7h.7M305.0 396.7h.7M304.2 393.0h.7M315.3 365.3h.7M302.3 359.5h.7M303.9 357.8h.7M314.3 373.6h.7M310.1 357.0h.7M299.7 362.1h.7M307.4 357.5h.7M310.1 390.8h.7M302.4 356.0h.7M313.9 385.9h.7M302.9 358.2h.7M311.5 364.6h.7M307.5 359.5h.7M313.9 361.8h.7M305.9 358.9h.7M310.9 356.5h.7M314.4 365.6h.7M308.9 358.8h.7M311.7 391.0h.7M309.2 358.6h.7M306.5 357.6h.7M315.2 372.1h.7M305.6 357.4h.7M314.4 375.2h.7M315.6 367.2h.7M317.6 374.6h.7M298.7 381.8h.7M305.1 382.5h.7M310.9 362.4h.7M303.8 384.1h.7M302.3 387.9h.7M309.3 383.7h.7M302.6 385.1h.7M304.7 377.8h.7M309.5 367.0h.7M305.7 347.7h.7M302.0 383.5h.7M299.8 353.1h.7M297.9 374.7h.7M309.7 379.4h.7M297.9 382.7h.7M299.0 390.1h.7M308.2 366.6h.7M303.3 375.0h.7M302.7 389.5h.7M307.7 367.6h.7M308.5 358.0h.7M306.8 370.7h.7M302.7 375.4h.7M307.2 357.5h.7M310.4 366.2h.7M308.0 393.0h.7M299.9 396.2h.7M304.0 397.3h.7M301.3 388.6h.7M302.8 390.5h.7M310.9 376.6h.7M301.3 388.7h.7M308.0 361.5h.7M309.1 371.6h.7M305.3 363.8h.7M307.1 384.2h.7M301.3 385.9h.7M295.8 380.1h.7M307.4 363.2h.7M306.8 359.4h.7M316.3 375.1h.7M312.0 361.6h.7M293.4 378.8h.7M313.4 369.9h.7M312.4 376.8h.7M307.8 386.1h.7M302.7 371.4h.7M312.0 377.6h.7M303.0 363.5h.7M314.1 334.3h.7M311.0 371.0h.7M298.8 382.3h.7M308.6 399.9h.7M307.6 345.2h.7M300.8 385.6h.7M303.3 375.2h.7M305.5 391.4h.7M307.7 372.2h.7M302.4 387.8h.7M302.1 381.1h.7M308.2 382.4h.7M310.2 376.3h.7M316.7 379.4h.7M301.8 366.0h.7M302.1 391.6h.7M300.0 395.2h.7M308.3 367.1h.7M300.5 375.8h.7M310.1 372.3h.7M309.8 375.1h.7M313.3 366.2h.7M305.2 362.1h.7M304.2 364.0h.7M297.7 375.5h.7M309.6 347.5h.7M299.0 361.5h.7M307.9 380.4h.7M307.7 371.9h.7M301.8 378.6h.7M301.3 374.0h.7M308.1 371.0h.7M312.4 347.1h.7M297.4 389.7h.7M302.9 370.6h.7M303.0 375.3h.7M305.1 379.2h.7M310.9 394.0h.7M294.5 378.1h.7M301.2 379.1h.7M300.5 377.7h.7M307.4 373.7h.7M307.2 381.8h.7M300.3 376.5h.7M311.6 383.2h.7M311.2 363.1h.7M302.4 387.5h.7M305.9 378.1h.7M304.0 386.0h.7M306.9 363.0h.7M307.9 370.0h.7M304.5 381.8h.7M306.7 367.9h.7M299.7 372.2h.7M305.2 361.4h.7M302.6 402.8h.7M302.5 376.9h.7M299.3 373.7h.7M307.3 376.1h.7M296.8 378.8h.7M300.7 389.4h.7M305.4 393.1h.7M307.9 360.6h.7M311.0 367.1h.7M305.3 376.1h.7M299.0 391.0h.7M306.7 362.6h.7M298.6 383.0h.7M312.4 376.8h.7M307.6 369.3h.7M311.8 378.6h.7M301.6 369.5h.7M294.4 392.6h.7M321.9 367.0h.7M308.3 382.6h.7M304.8 399.7h.7M300.5 367.4h.7M314.6 381.7h.7M310.0 372.0h.7M305.7 376.6h.7M308.2 367.0h.7M311.5 392.5h.7M303.1 365.1h.7M306.6 402.7h.7M300.8 392.3h.7M302.3 367.6h.7M311.7 370.5h.7M305.7 383.0h.7M312.0 375.1h.7M314.3 363.8h.7M303.1 383.8h.7M309.4 353.6h.7M304.2 383.4h.7M305.1 395.7h.7M297.4 380.6h.7M301.4 358.5h.7M304.7 374.6h.7M303.7 368.6h.7M310.5 361.1h.7M302.6 360.3h.7M312.2 355.6h.7M315.2 360.7h.7M305.7 393.5h.7M300.2 392.2h.7M298.9 372.4h.7M308.9 377.5h.7M307.7 377.8h.7M314.3 353.1h.7M302.2 386.3h.7M298.0 370.2h.7M319.0 384.9h.7M308.7 374.7h.7M305.0 365.2h.7M301.2 365.6h.7M299.1 379.2h.7M308.2 363.3h.7M306.6 359.6h.7M307.9 370.5h.7M305.5 377.3h.7M312.9 374.5h.7M302.4 378.2h.7M308.0 380.2h.7M311.6 363.4h.7M299.5 384.7h.7M299.8 382.6h.7M320.6 383.3h.7M298.0 368.8h.7M308.0 370.9h.7M309.7 376.2h.7M307.7 380.6h.7M297.5 391.4h.7M298.3 368.0h.7M292.9 380.3h.7M308.1 369.8h.7M299.5 352.8h.7M308.9 360.6h.7M303.9 378.5h.7M305.6 379.8h.7M314.9 379.5h.7M300.5 376.7h.7M304.7 365.7h.7M309.4 369.2h.7M307.2 381.8h.7M317.2 363.5h.7M309.8 397.9h.7M314.5 375.0h.7M301.9 378.5h.7M302.6 371.6h.7M296.6 375.5h.7M295.1 390.7h.7M308.7 369.2h.7M306.1 376.3h.7M304.5 378.9h.7M305.0 380.6h.7M301.5 377.6h.7M315.0 362.2h.7M301.6 387.6h.7M307.6 376.1h.7M306.9 370.0h.7M303.1 382.1h.7M306.9 382.0h.7M308.4 399.6h.7M306.4 390.9h.7M306.8 400.5h.7M311.3 364.3h.7M314.5 365.2h.7M311.4 364.3h.7M307.9 376.1h.7M313.7 347.5h.7M295.5 390.6h.7M310.0 367.7h.7M306.5 355.0h.7M303.9 368.5h.7M310.7 376.1h.7M305.1 388.7h.7M302.4 385.3h.7M304.7 380.9h.7M304.3 391.8h.7M303.6 399.2h.7M310.3 364.0h.7M303.5 391.5h.7M313.9 358.2h.7M306.9 382.0h.7M318.9 377.7h.7M304.9 386.3h.7M306.4 365.3h.7M305.7 372.8h.7M304.8 376.7h.7M307.9 365.6h.7M309.6 355.9h.7M309.6 379.4h.7M308.3 357.4h.7M303.2 378.8h.7M308.5 382.8h.7M297.6 379.0h.7M311.8 359.7h.7M299.3 372.7h.7M304.5 373.0h.7M312.8 375.8h.7M295.6 388.6h.7M306.5 384.9h.7M305.8 391.3h.7M306.7 369.6h.7M299.4 388.6h.7M305.2 355.8h.7M310.6 388.4h.7M294.6 386.5h.7M309.5 393.6h.7M312.6 364.3h.7M308.4 382.9h.7M297.9 395.1h.7M308.7 384.0h.7M301.1 386.9h.7M305.7 372.1h.7M306.1 379.3h.7M297.7 378.9h.7M308.0 356.3h.7M315.2 401.0h.7M309.6 374.0h.7M300.3 365.2h.7M299.3 388.3h.7M301.2 379.6h.7M303.6 386.7h.7M312.9 383.2h.7M309.6 386.3h.7M315.3 361.9h.7M307.4 367.6h.7M306.2 373.0h.7M306.6 383.5h.7M298.8 348.9h.7M307.4 387.1h.7M303.8 393.2h.7M318.3 371.4h.7M304.8 382.0h.7M310.1 356.9h.7M308.7 351.2h.7M300.1 380.6h.7M307.7 361.4h.7M306.2 390.2h.7M297.0 385.7h.7M312.9 357.5h.7M312.5 378.1h.7M304.2 376.6h.7M305.7 376.2h.7M304.8 367.7h.7M310.9 393.1h.7M304.9 392.2h.7M301.7 362.8h.7M309.4 377.0h.7M308.4 363.8h.7M303.8 388.2h.7M314.7 375.1h.7M308.0 344.9h.7M302.4 392.0h.7M316.4 362.1h.7M298.8 373.8h.7M302.6 372.8h.7M300.7 385.3h.7M307.6 360.1h.7M297.3 403.0h.7M309.0 376.9h.7M296.7 404.1h.7M300.3 379.4h.7M307.7 366.7h.7M306.6 370.3h.7M294.7 364.5h.7M302.5 371.1h.7M308.3 393.7h.7M304.6 401.2h.7M303.5 378.0h.7M304.7 357.0h.7M305.5 373.5h.7M301.4 386.1h.7M308.1 371.4h.7M301.1 381.1h.7M301.5 367.8h.7M303.2 387.7h.7M304.3 374.6h.7M304.0 383.3h.7M305.0 385.6h.7M305.0 385.8h.7M304.2 367.9h.7M308.1 372.6h.7M303.4 393.3h.7M303.1 368.0h.7M304.0 393.0h.7M298.6 392.1h.7M308.6 370.2h.7M304.0 368.3h.7M294.8 369.7h.7M298.2 360.6h.7M303.4 383.6h.7M300.7 374.1h.7M301.6 375.3h.7M307.9 388.9h.7M309.0 378.8h.7M313.3 381.1h.7M308.4 381.3h.7M310.2 362.4h.7M300.9 378.9h.7M296.1 376.7h.7M303.9 380.3h.7M309.5 389.4h.7M292.9 383.6h.7M307.6 391.7h.7M302.3 382.1h.7M304.9 365.5h.7M307.0 386.4h.7M303.8 377.8h.7M311.6 371.4h.7M304.0 380.0h.7M308.1 379.7h.7M312.4 378.3h.7M299.2 360.0h.7M305.2 395.4h.7M305.9 370.9h.7M307.1 381.5h.7M312.4 358.6h.7M309.8 376.5h.7M310.1 386.6h.7M293.6 391.4h.7M308.3 365.9h.7M305.0 388.3h.7M297.5 389.4h.7M310.0 394.3h.7M301.1 370.8h.7M311.1 370.6h.7M307.8 345.3h.7M318.6 349.5h.7M296.7 385.3h.7M308.3 365.6h.7M293.6 387.1h.7M306.9 365.0h.7M306.3 369.1h.7M300.1 386.3h.7M305.6 376.4h.7M298.9 370.6h.7M304.1 369.7h.7M307.5 375.6h.7M304.4 374.6h.7M307.8 386.7h.7M299.7 389.3h.7M310.5 383.1h.7M302.6 379.6h.7M317.0 356.2h.7M310.1 371.2h.7M314.6 373.9h.7M310.2 367.0h.7M302.9 395.5h.7M311.6 369.0h.7M314.9 361.8h.7M317.7 359.5h.7M315.9 367.0h.7M308.6 375.5h.7M310.7 373.0h.7M308.2 371.8h.7M318.4 367.9h.7M319.3 375.0h.7M318.1 365.3h.7M315.3 372.5h.7M311.7 365.8h.7M315.7 378.9h.7M312.1 373.1h.7M313.4 374.7h.7M316.8 367.3h.7M318.6 364.5h.7M310.3 385.6h.7M315.3 370.7h.7M318.2 361.5h.7M314.2 365.3h.7M317.6 369.3h.7M316.3 360.2h.7M313.0 362.2h.7M311.3 367.9h.7M316.7 370.6h.7M309.9 377.3h.7M316.9 376.9h.7M318.5 357.2h.7M317.3 368.5h.7M316.8 363.2h.7M320.4 365.1h.7M313.8 359.4h.7M314.9 361.1h.7M310.9 382.3h.7M315.5 374.5h.7M319.3 369.8h.7M314.3 362.7h.7M315.2 369.7h.7M315.2 367.1h.7M316.2 359.5h.7M319.1 358.5h.7M316.1 362.9h.7M320.1 361.4h.7M312.7 368.8h.7M318.6 358.7h.7M311.5 369.0h.7M318.2 348.8h.7M318.7 379.4h.7M315.1 374.5h.7M315.3 357.8h.7M314.3 373.3h.7M312.1 369.8h.7M313.6 372.6h.7M323.8 362.0h.7M311.5 382.0h.7M314.8 366.8h.7M317.3 371.6h.7M316.4 369.9h.7M316.3 360.7h.7M318.3 371.5h.7M313.2 360.2h.7M313.7 371.2h.7M320.3 365.8h.7M305.1 373.9h.7M315.9 369.7h.7M310.8 370.6h.7M316.2 372.2h.7M318.4 376.0h.7M313.5 367.8h.7M314.2 372.7h.7M322.2 363.9h.7M316.2 362.5h.7M311.5 382.7h.7M315.4 377.2h.7M318.4 363.2h.7M316.5 362.3h.7M317.8 365.8h.7M318.3 373.7h.7M313.8 374.9h.7M317.1 364.0h.7M316.6 375.1h.7M316.3 373.8h.7M316.9 375.1h.7M315.3 366.8h.7M317.8 352.9h.7M314.0 379.1h.7M313.3 381.7h.7M321.0 360.9h.7M313.3 372.9h.7M318.7 376.4h.7M320.8 359.8h.7M318.6 362.9h.7M319.3 368.2h.7M320.5 363.8h.7M318.5 358.4h.7M312.6 374.2h.7M316.1 373.4h.7M323.3 358.1h.7M311.9 365.4h.7M313.7 377.1h.7M317.0 365.5h.7M318.0 365.5h.7M316.6 367.5h.7M311.3 377.1h.7M316.3 381.3h.7M316.1 364.5h.7M316.3 363.5h.7M315.6 366.2h.7M316.9 361.8h.7M315.4 366.2h.7M312.5 370.7h.7M318.1 370.8h.7M316.8 366.7h.7M318.9 363.9h.7M318.0 356.0h.7M311.8 367.3h.7M319.5 363.5h.7M317.3 360.4h.7M310.8 389.5h.7M321.2 374.3h.7M315.8 364.3h.7M316.6 366.1h.7M314.2 354.6h.7M316.5 354.3h.7M314.1 360.5h.7M322.4 354.8h.7M314.5 371.7h.7M314.7 370.7h.7M318.9 361.8h.7M317.5 366.0h.7M311.4 373.7h.7M312.2 377.6h.7M315.8 369.3h.7M319.1 360.4h.7M313.2 379.2h.7M318.2 368.8h.7M309.2 374.1h.7M312.7 367.3h.7M310.4 363.0h.7M314.4 371.8h.7M314.1 368.6h.7M316.1 376.2h.7M313.9 370.7h.7M325.0 360.1h.7M318.6 358.6h.7M312.3 368.5h.7M326.1 355.6h.7M320.5 361.1h.7M311.6 360.4h.7M316.4 374.1h.7M313.2 368.0h.7M312.1 366.9h.7M319.3 361.9h.7M312.3 374.9h.7M316.7 367.1h.7M322.8 364.0h.7M319.7 357.3h.7M315.6 376.1h.7M318.4 371.5h.7M310.9 370.7h.7M321.5 372.1h.7M305.4 365.6h.7M320.5 369.0h.7M320.4 347.2h.7M316.2 372.7h.7M320.0 358.6h.7M319.5 369.9h.7M314.1 379.3h.7M320.2 369.8h.7M314.3 371.2h.7M315.8 378.3h.7M324.2 355.7h.7M322.7 364.9h.7M313.5 365.7h.7M321.1 365.5h.7M313.6 368.9h.7M314.5 368.5h.7M322.1 358.6h.7M314.8 350.6h.7M317.6 372.3h.7M323.0 358.2h.7M314.9 366.5h.7M311.6 371.8h.7M313.2 369.0h.7M316.4 372.2h.7M316.1 382.5h.7M317.0 370.3h.7M317.7 365.9h.7M319.2 366.1h.7M311.2 368.9h.7M321.0 353.9h.7M322.0 363.5h.7M316.8 374.9h.7M316.7 364.5h.7M308.3 370.8h.7M311.8 375.8h.7M316.2 362.0h.7M320.0 369.9h.7M323.6 363.0h.7M311.6 372.3h.7M318.5 371.1h.7M311.3 374.9h.7M318.2 368.4h.7M310.2 370.1h.7M315.5 367.0h.7M319.1 362.9h.7M309.5 360.6h.7M317.6 361.7h.7M315.8 374.8h.7M314.1 369.4h.7M310.9 365.0h.7M317.9 373.3h.7M313.6 368.8h.7M317.0 364.3h.7M316.2 365.4h.7M318.0 363.1h.7M314.2 361.1h.7M313.2 361.3h.7M315.4 374.4h.7M311.4 366.6h.7M313.2 373.0h.7M314.8 366.9h.7M312.6 369.2h.7M314.7 364.1h.7M320.8 366.7h.7M315.3 370.3h.7M323.9 364.8h.7M314.0 369.3h.7M319.9 367.3h.7M314.9 369.3h.7M312.0 369.3h.7M314.5 367.7h.7M320.6 364.0h.7M320.0 364.4h.7M310.7 379.8h.7M314.0 368.8h.7M319.8 373.0h.7M316.5 375.1h.7M314.2 373.3h.7M312.7 376.5h.7M313.9 373.5h.7M311.7 380.1h.7M321.6 361.4h.7M316.1 361.9h.7M315.2 359.8h.7M318.4 365.3h.7M320.0 364.4h.7M315.1 363.6h.7M318.1 365.2h.7M311.7 362.5h.7M319.2 364.4h.7M315.7 364.8h.7M314.1 369.4h.7M316.6 360.1h.7M324.5 365.9h.7M309.2 374.0h.7M319.8 360.6h.7M311.1 375.2h.7M313.7 369.7h.7M321.7 362.9h.7M320.6 359.2h.7M309.5 371.0h.7M314.6 373.1h.7M317.5 354.7h.7M312.0 368.6h.7M313.4 366.2h.7M314.8 369.8h.7M310.7 366.8h.7M312.7 377.8h.7M315.3 359.5h.7M317.6 371.9h.7M310.3 365.4h.7M317.5 366.8h.7M318.0 375.6h.7M318.2 371.8h.7M314.2 377.7h.7M313.5 372.0h.7M308.9 371.5h.7M318.6 360.0h.7M314.3 356.3h.7M314.7 361.1h.7M316.1 364.8h.7M313.5 367.9h.7M314.5 369.0h.7M315.0 375.4h.7M319.6 349.7h.7M320.6 362.5h.7M317.1 361.4h.7M318.0 369.4h.7M313.9 362.8h.7M317.7 368.9h.7M312.8 357.8h.7M312.0 373.5h.7M320.3 358.2h.7M313.9 363.1h.7M317.1 362.0h.7M321.8 366.2h.7M315.2 366.0h.7M319.4 362.4h.7M314.6 369.6h.7M319.6 373.1h.7M314.7 361.5h.7M312.8 369.5h.7M318.1 350.3h.7M318.2 368.2h.7M316.6 358.4h.7M316.3 364.4h.7M312.7 374.1h.7M320.3 365.1h.7M317.9 371.9h.7M316.1 365.1h.7M321.1 359.6h.7M314.9 370.6h.7M314.5 363.3h.7M319.7 364.3h.7M313.6 366.4h.7M318.0 370.8h.7M316.7 373.9h.7M315.9 377.1h.7M319.1 358.2h.7M315.7 369.9h.7M315.9 361.9h.7M317.6 365.9h.7M310.9 364.5h.7M314.7 374.3h.7M315.9 368.9h.7M319.2 363.5h.7M316.0 367.2h.7M319.1 361.1h.7M317.3 362.3h.7M316.3 373.9h.7M313.3 372.8h.7M316.3 368.8h.7M317.8 366.6h.7M317.7 376.8h.7M313.7 363.3h.7M318.6 367.7h.7M322.8 358.2h.7M318.5 362.3h.7M304.3 355.0h.7M303.2 354.2h.7M304.9 355.9h.7M306.2 358.1h.7M302.9 356.1h.7M303.0 358.1h.7M302.9 355.5h.7M303.3 358.7h.7M301.8 353.7h.7M304.7 355.5h.7M302.8 358.8h.7M304.1 351.6h.7M305.3 353.3h.7M303.8 355.2h.7M302.9 355.3h.7M304.7 357.6h.7M314.7 354.7h.7M304.4 358.8h.7M311.9 358.0h.7M305.1 360.6h.7M306.3 358.9h.7M304.2 353.5h.7M310.6 354.3h.7M302.4 356.6h.7M302.8 357.8h.7M306.3 355.8h.7M304.1 359.5h.7M310.8 358.8h.7M301.5 359.9h.7M306.4 360.1h.7M307.9 354.8h.7M300.3 354.8h.7M310.2 355.3h.7M311.7 353.4h.7M308.2 356.0h.7M301.2 357.1h.7M304.7 355.6h.7M298.9 354.1h.7M303.8 355.9h.7M303.2 360.8h.7M304.6 356.7h.7M304.9 359.1h.7M308.0 358.5h.7M300.8 356.6h.7M305.5 357.7h.7M303.7 356.6h.7M302.6 355.5h.7M307.2 355.2h.7M303.1 356.0h.7M307.1 357.2h.7M302.0 355.3h.7M302.0 354.1h.7M314.2 359.0h.7M308.4 355.6h.7M308.9 359.7h.7M310.2 357.9h.7M302.6 361.6h.7M308.6 358.2h.7M307.2 357.1h.7M304.6 352.5h.7M312.1 362.1h.7M307.6 357.8h.7M305.9 358.0h.7M305.5 356.1h.7M308.1 352.5h.7M310.8 355.4h.7M307.8 357.6h.7M311.4 360.0h.7M301.5 354.2h.7M306.5 352.7h.7M308.1 356.0h.7M303.3 358.2h.7M302.7 354.6h.7M305.9 358.2h.7M305.3 355.5h.7M306.6 355.5h.7M299.6 358.3h.7M307.6 358.7h.7M306.3 357.3h.7M300.2 353.3h.7M299.3 358.9h.7M303.5 359.3h.7M307.4 355.3h.7M305.6 354.5h.7M304.4 357.0h.7M308.2 355.2h.7M300.4 358.8h.7M302.1 357.9h.7M300.6 354.3h.7M299.0 357.7h.7M307.4 363.2h.7M312.3 356.6h.7M298.8 355.8h.7M306.7 357.1h.7M306.4 354.0h.7M304.8 360.5h.7M304.0 355.4h.7M301.7 354.9h.7M310.0 357.1h.7M304.1 355.5h.7M308.6 355.0h.7M303.1 355.6h.7M297.0 358.8h.7M303.0 358.0h.7M305.8 358.5h.7M304.0 361.8h.7M307.7 355.8h.7M306.9 351.7h.7M301.9 351.7h.7M304.9 361.1h.7M306.7 390.8h.7M302.0 394.6h.7M307.4 393.4h.7M309.4 394.3h.7M310.8 395.5h.7M310.9 388.4h.7M307.7 395.4h.7M309.5 395.0h.7M306.8 394.4h.7M306.3 394.9h.7M309.8 390.5h.7M304.7 390.8h.7M304.4 394.4h.7M306.3 394.6h.7M307.6 394.7h.7M305.0 393.6h.7M303.2 392.9h.7M305.6 394.6h.7M301.9 396.0h.7M305.6 390.7h.7M305.4 395.0h.7M306.0 393.0h.7M303.6 394.2h.7M306.2 394.4h.7M304.8 396.3h.7M301.3 393.8h.7M301.8 389.9h.7M306.2 395.5h.7M305.1 394.7h.7M305.3 396.1h.7M304.3 394.9h.7M306.6 390.6h.7M308.7 392.6h.7M303.0 392.5h.7M307.9 393.0h.7M307.7 391.9h.7M306.4 390.3h.7M305.1 396.4h.7M304.5 394.2h.7M301.3 397.1h.7M305.2 394.7h.7M304.8 391.7h.7M304.9 393.1h.7M303.2 393.5h.7M303.4 392.8h.7M298.8 391.8h.7M306.5 394.2h.7M305.2 394.6h.7M310.0 394.5h.7M306.0 393.6h.7M306.6 395.1h.7M300.3 398.0h.7M308.1 394.7h.7M304.2 393.6h.7M303.9 396.5h.7M304.1 390.6h.7M305.2 392.1h.7M306.2 394.1h.7M303.7 390.7h.7M304.9 391.2h.7M305.2 394.1h.7M304.7 394.1h.7M304.7 397.1h.7M301.4 391.6h.7M308.5 391.3h.7M307.2 393.3h.7M305.7 391.0h.7M304.7 393.5h.7M300.5 393.8h.7M304.6 389.3h.7M306.1 393.1h.7M302.0 396.1h.7M305.4 391.5h.7M303.5 394.4h.7M304.3 395.2h.7M302.6 394.3h.7M306.8 394.8h.7M303.7 391.9h.7M302.9 394.0h.7M300.6 399.3h.7M324.4 341.5h.7M323.9 342.1h.7M324.5 340.5h.7M338.0 335.3h.7M313.8 339.2h.7M328.9 333.7h.7M324.8 339.0h.7M305.1 341.0h.7M344.4 329.9h.7M340.3 331.4h.7M324.0 334.2h.7M327.0 331.8h.7M320.8 335.2h.7M317.4 336.4h.7M338.1 330.0h.7M329.3 331.5h.7M314.9 337.0h.7M324.1 340.5h.7M334.6 334.8h.7M320.3 342.7h.7M313.2 333.7h.7M334.9 336.2h.7M333.7 333.4h.7M334.9 339.8h.7M306.7 340.6h.7M337.4 329.1h.7M317.1 338.5h.7M333.7 334.4h.7M309.8 338.7h.7M326.0 333.8h.7M338.0 323.9h.7M328.2 332.4h.7M333.3 333.0h.7M345.4 333.7h.7M321.5 328.5h.7M324.3 335.5h.7M343.8 334.8h.7M329.1 330.8h.7M329.3 330.5h.7M312.2 339.5h.7M302.9 396.3h.7M305.2 395.1h.7M302.0 397.7h.7M306.3 401.1h.7M301.9 396.1h.7M302.2 402.2h.7M303.4 403.5h.7M305.4 397.1h.7M306.1 401.6h.7M308.1 401.0h.7M303.2 401.1h.7M307.1 403.6h.7M303.8 400.6h.7M306.9 397.0h.7M301.9 394.1h.7M310.3 398.0h.7M300.8 396.6h.7M308.0 404.5h.7M305.8 398.7h.7M305.8 398.6h.7M305.5 398.6h.7M300.9 399.8h.7M305.1 402.8h.7M300.1 393.8h.7M305.6 400.9h.7M304.0 399.7h.7M305.4 402.4h.7M307.6 397.8h.7M301.0 401.0h.7M303.5 400.3h.7M298.7 402.9h.7M308.4 402.9h.7M307.2 403.8h.7M304.8 403.1h.7M306.9 403.3h.7M305.8 401.3h.7M302.3 402.9h.7M303.1 403.8h.7M375.7 397.5h.7M353.3 359.7h.7M334.3 358.0h.7M353.9 375.4h.7M348.0 347.9h.7M307.8 342.9h.7M378.2 382.5h.7M352.4 357.1h.7M357.1 346.8h.7M359.8 349.8h.7M323.3 350.6h.7M335.4 357.3h.7M336.7 358.1h.7M312.2 365.2h.7M317.1 372.6h.7M348.9 356.0h.7M375.4 339.4h.7M343.5 362.6h.7M313.3 364.7h.7M316.6 354.2h.7M324.6 350.8h.7M344.5 353.0h.7M333.2 362.2h.7M352.3 354.8h.7M317.3 353.4h.7M319.5 346.5h.7M367.7 350.8h.7M325.6 368.1h.7M325.6 355.1h.7M375.1 345.8h.7M316.1 349.6h.7M317.6 357.9h.7M323.6 362.6h.7M343.7 355.0h.7M323.4 363.1h.7M357.4 356.9h.7M365.3 346.3h.7M368.4 353.2h.7M335.2 356.4h.7M357.1 348.7h.7M347.5 356.9h.7M320.9 364.1h.7M315.6 356.2h.7M333.2 348.2h.7M337.6 354.0h.7M381.9 345.4h.7M316.7 365.9h.7M318.9 362.9h.7M338.5 352.6h.7M363.1 345.6h.7M365.8 358.6h.7M348.2 356.0h.7M317.4 358.4h.7M336.2 370.6h.7M364.7 350.4h.7M311.4 376.7h.7M352.9 360.5h.7M310.1 361.5h.7M308.1 361.0h.7M312.4 364.1h.7M359.0 349.4h.7M331.0 342.3h.7M342.3 359.7h.7M329.3 348.3h.7M322.7 362.0h.7M351.5 353.6h.7M331.5 342.3h.7M321.3 361.9h.7M319.1 370.5h.7M344.8 344.7h.7M322.8 358.6h.7M322.6 355.3h.7M314.5 358.0h.7M358.5 364.7h.7M335.3 355.0h.7M372.6 345.4h.7M323.0 364.3h.7M333.5 349.5h.7M312.2 354.6h.7M318.8 357.9h.7M316.9 360.2h.7M360.2 351.5h.7M320.2 359.8h.7M344.5 359.7h.7M328.3 351.0h.7M328.5 353.9h.7M320.8 365.6h.7M373.3 351.0h.7M347.4 346.6h.7M346.4 349.2h.7M326.9 363.9h.7M359.7 347.5h.7M321.8 359.5h.7M323.5 363.7h.7M314.7 359.5h.7M316.0 363.6h.7M319.2 359.0h.7M318.0 362.6h.7M352.6 347.1h.7M329.8 357.3h.7M320.7 350.1h.7M325.2 366.8h.7M358.6 349.1h.7M321.4 358.8h.7M344.7 347.7h.7M322.2 349.4h.7M363.2 354.9h.7M362.7 353.0h.7M314.8 359.6h.7M323.5 359.9h.7M329.8 355.6h.7M322.5 351.9h.7M335.0 362.2h.7M330.4 364.3h.7M311.8 354.4h.7M346.1 355.8h.7M321.7 361.2h.7M341.3 357.4h.7M331.3 359.0h.7M315.2 363.7h.7M325.3 359.8h.7M351.2 361.6h.7M331.5 353.5h.7M345.9 348.6h.7M346.6 357.3h.7M332.1 363.0h.7M347.6 350.2h.7M327.5 358.5h.7M330.8 355.8h.7M332.1 358.0h.7M349.8 355.6h.7M312.6 362.6h.7M331.1 363.1h.7M320.5 353.8h.7M364.8 363.3h.7M328.5 360.9h.7M320.7 361.2h.7M324.6 346.7h.7M350.3 351.6h.7M366.5 352.0h.7M332.5 368.9h.7M316.5 359.5h.7M343.2 348.3h.7M353.2 350.6h.7M362.7 351.0h.7M336.4 354.8h.7M334.9 361.0h.7M323.3 370.9h.7M335.0 354.5h.7M369.9 354.7h.7M337.3 360.9h.7M316.1 359.9h.7M375.1 353.7h.7M321.0 360.5h.7M314.2 366.8h.7M335.0 352.0h.7M341.5 350.2h.7M329.5 360.9h.7M346.8 362.9h.7M323.9 363.9h.7M321.4 349.8h.7M343.4 357.9h.7M348.5 350.0h.7M336.5 356.6h.7M361.5 351.3h.7M317.6 360.9h.7M337.6 357.4h.7M318.3 364.2h.7M353.1 351.0h.7M343.9 354.8h.7M317.4 358.1h.7M364.1 358.0h.7M375.7 349.5h.7M313.7 353.1h.7M345.6 357.8h.7M323.0 361.9h.7M323.9 350.6h.7M337.4 361.0h.7M375.2 350.9h.7M324.3 358.1h.7M314.6 371.4h.7M362.4 345.9h.7M325.7 369.8h.7M329.6 363.6h.7M323.8 371.9h.7M337.0 358.3h.7M322.1 374.7h.7M316.9 355.7h.7M320.6 357.5h.7M325.1 368.4h.7M350.2 355.2h.7M323.3 357.4h.7M350.4 354.0h.7M336.9 364.2h.7M322.3 366.9h.7M323.5 364.3h.7M318.1 353.7h.7M323.1 355.8h.7M355.1 348.2h.7M319.8 366.9h.7M350.2 357.2h.7M316.2 348.0h.7M335.0 353.1h.7M324.2 359.3h.7M318.6 360.6h.7M340.4 360.8h.7M320.6 359.9h.7M384.9 347.5h.7M332.7 354.0h.7M360.8 362.4h.7M350.3 343.8h.7M326.3 346.5h.7M339.7 351.7h.7M326.6 350.7h.7M335.0 357.7h.7M334.4 340.8h.7M320.0 359.8h.7M328.9 351.0h.7M342.0 357.0h.7M378.7 351.3h.7M336.9 351.4h.7M354.1 355.6h.7M322.3 356.2h.7M323.1 360.1h.7M344.0 352.8h.7M356.6 365.1h.7M365.2 351.3h.7M328.1 359.1h.7M319.9 354.0h.7M339.2 355.8h.7M333.0 356.1h.7M333.6 370.2h.7M313.0 363.7h.7M347.4 355.5h.7M330.1 360.0h.7M345.6 353.3h.7M334.6 356.3h.7M320.7 360.7h.7M373.3 343.5h.7M341.2 359.4h.7" stroke="#333" stroke-width=".7" fill="none"/>
<ellipse cx="304.9" cy="375.8" rx="8.1" ry="16.2" fill="#fff" stroke="#000" stroke-width=".8"/>
<ellipse cx="304.9" cy="376.1" rx="6.5" ry="13.0" fill="#000" fill-opacity=".035" stroke="#333" stroke-width=".55"/>
<ellipse cx="304.8" cy="376.1" rx="5.4" ry="10.9" fill="#000" fill-opacity=".035" stroke="#333" stroke-width=".55"/>
<ellipse cx="304.8" cy="376.1" rx="4.4" ry="8.7" fill="#000" fill-opacity=".035" stroke="#333" stroke-width=".55"/>
<ellipse cx="304.8" cy="376.1" rx="3.3" ry="6.6" fill="#000" fill-opacity=".035" stroke="#333" stroke-width=".55"/>
<ellipse cx="304.7" cy="376.1" rx="2.3" ry="4.5" fill="#000" fill-opacity=".035" stroke="#333" stroke-width=".55"/>
<ellipse cx="304.6" cy="376.1" rx="1.2" ry="2.4" fill="#000" fill-opacity=".035" stroke="#333" stroke-width=".55"/>
<line x1="292" y1="341.5" x2="386.2" y2="341.5" stroke="#2a2a2a" stroke-width="1"/>
<line x1="292" y1="364.5" x2="386.2" y2="364.5" stroke="#777" stroke-width="1"/>
<path d="M292 320.5H386.2M385.7 320.5V405.8" stroke="#222" stroke-width="1" fill="none"/>
<path d="M292.5 320.5V406.0H386.2" stroke="#000" stroke-width="1.2" fill="none"/>
<path d="M289 402.3H292M289 385.8H292M290 380.1H292M290 376.7H292M290 374.4H292M290 372.5H292M290 371.0H292M290 369.7H292M290 368.6H292M290 367.7H292M289 365.3H292M290 359.6H292M290 356.2H292M290 353.9H292M290 352.0H292M290 350.5H292M290 349.2H292M290 348.1H292M290 347.2H292M289 346.3H292M290 340.6H292M290 337.2H292M290 334.9H292M290 333.0H292M290 331.5H292M290 330.2H292M290 329.1H292M290 328.2H292M289 328.8H292M290 323.1H292M303.5 405.8V408.8M311 405.8V408.8M317.6 405.8V407.40000000000003M321.5 405.8V407.40000000000003M324.2 405.8V407.40000000000003M326.4 405.8V407.40000000000003M328.1 405.8V407.40000000000003M329.6 405.8V407.40000000000003M330.9 405.8V407.40000000000003M332.0 405.8V407.40000000000003M333.5 405.8V408.8M340.1 405.8V407.40000000000003M344.0 405.8V407.40000000000003M346.7 405.8V407.40000000000003M348.9 405.8V407.40000000000003M350.6 405.8V407.40000000000003M352.1 405.8V407.40000000000003M353.4 405.8V407.40000000000003M354.5 405.8V407.40000000000003M355.5 405.8V408.8M362.1 405.8V407.40000000000003M366.0 405.8V407.40000000000003M368.7 405.8V407.40000000000003M370.9 405.8V407.40000000000003M372.6 405.8V407.40000000000003M374.1 405.8V407.40000000000003M375.4 405.8V407.40000000000003M376.5 405.8V407.40000000000003M377.5 405.8V408.8M384.1 405.8V407.40000000000003M294.0 405.8V407.40000000000003M296.0 405.8V407.40000000000003M298.0 405.8V407.40000000000003M300.0 405.8V407.40000000000003M305.5 405.8V407.40000000000003M307.5 405.8V407.40000000000003M309.0 405.8V407.40000000000003" stroke="#000" stroke-width=".9" fill="none"/>
<text x="311" y="414.5" font-size="3.8" text-anchor="middle" fill="#111" class="t">10<tspan font-size="2.8" dy="-1.6">2</tspan></text>
<text x="333.5" y="414.5" font-size="3.8" text-anchor="middle" fill="#111" class="t">10<tspan font-size="2.8" dy="-1.6">3</tspan></text>
<text x="355.5" y="414.5" font-size="3.8" text-anchor="middle" fill="#111" class="t">10<tspan font-size="2.8" dy="-1.6">4</tspan></text>
<text x="377.5" y="414.5" font-size="3.8" text-anchor="middle" fill="#111" class="t">10<tspan font-size="2.8" dy="-1.6">5</tspan></text>
<text x="303.5" y="414.5" font-size="3.8" text-anchor="middle" fill="#111" class="t">0</text>
<text x="291" y="417.8" font-size="3.6" text-anchor="middle" fill="#111" class="t">-300</text>
<text x="287" y="385.8" font-size="3.8" text-anchor="middle" transform="rotate(-90 287 385.8)" fill="#111" class="t">10<tspan font-size="2.8" dy="-1.6">2</tspan></text>
<text x="287" y="365.3" font-size="3.8" text-anchor="middle" transform="rotate(-90 287 365.3)" fill="#111" class="t">10<tspan font-size="2.8" dy="-1.6">3</tspan></text>
<text x="287" y="346.3" font-size="3.8" text-anchor="middle" transform="rotate(-90 287 346.3)" fill="#111" class="t">10<tspan font-size="2.8" dy="-1.6">4</tspan></text>
<text x="287" y="328.8" font-size="3.8" text-anchor="middle" transform="rotate(-90 287 328.8)" fill="#111" class="t">10<tspan font-size="2.8" dy="-1.6">5</tspan></text>
<text x="285.5" y="403.3" font-size="3.4" text-anchor="middle" transform="rotate(-90 285.5 403.3)" fill="#111" class="t">-98</text>
</g>
<g>
<path d="M420.2 382.1h.7M411.3 348.2h.7M419.3 325.9h.7M419.1 362.7h.7M431.7 371.9h.7M423.9 386.7h.7M423.1 385.4h.7M428.9 398.2h.7M430.2 352.8h.7M426.9 382.2h.7M427.3 400.1h.7M424.5 357.2h.7M428.9 381.9h.7M422.2 373.7h.7M423.3 369.0h.7M425.0 357.3h.7M427.8 369.2h.7M435.3 365.6h.7M423.2 344.2h.7M439.2 355.3h.7M418.5 361.6h.7M422.3 363.2h.7M435.0 352.6h.7M420.6 358.0h.7M426.9 335.9h.7M429.8 356.2h.7M411.6 393.3h.7M412.4 380.0h.7M422.4 353.7h.7M409.9 357.2h.7M428.0 361.8h.7M418.0 382.5h.7M422.6 366.0h.7M415.8 343.9h.7M418.8 370.8h.7M419.2 371.0h.7M420.4 361.4h.7M422.0 370.8h.7M420.8 357.8h.7M429.6 381.6h.7M430.9 374.0h.7M425.7 365.8h.7M428.0 351.8h.7M421.3 370.3h.7M421.2 344.3h.7M421.6 358.0h.7M417.5 376.7h.7M430.3 363.3h.7M413.7 364.7h.7M420.9 347.5h.7M417.7 368.6h.7M417.9 373.5h.7M412.5 378.8h.7M417.0 368.5h.7M422.4 356.0h.7M430.1 332.3h.7M423.7 374.8h.7M420.4 364.1h.7M413.7 366.7h.7M423.5 354.2h.7M422.3 358.4h.7M414.6 365.7h.7M416.4 381.0h.7M416.3 389.7h.7M422.1 364.1h.7M416.7 373.5h.7M414.5 341.4h.7M425.4 328.7h.7M430.8 352.7h.7M434.1 364.4h.7M434.5 336.0h.7M418.9 369.9h.7M418.0 366.9h.7M421.0 375.7h.7M433.0 324.9h.7M426.9 343.7h.7M434.5 335.7h.7M415.9 375.0h.7M420.9 376.1h.7M425.0 350.7h.7M409.9 387.6h.7M420.6 363.1h.7M419.9 360.8h.7M416.7 367.1h.7M424.1 343.1h.7M410.3 377.5h.7M428.8 353.1h.7M421.0 356.5h.7M425.2 362.1h.7M418.0 353.1h.7M425.5 369.2h.7M418.9 372.0h.7M423.5 330.3h.7M417.8 369.7h.7M431.7 367.5h.7M412.9 382.1h.7M420.1 378.6h.7M411.6 340.9h.7M410.1 378.1h.7M431.2 365.3h.7M423.5 362.0h.7M423.7 346.9h.7M431.5 374.3h.7M429.5 360.4h.7M428.6 378.2h.7M441.2 375.6h.7M416.5 353.1h.7M428.8 370.2h.7M426.4 363.7h.7M416.1 368.7h.7M411.1 372.7h.7M439.5 370.3h.7M415.7 352.2h.7M440.5 368.7h.7M418.3 375.1h.7M419.7 347.7h.7M423.3 372.3h.7M432.1 340.3h.7M433.5 356.5h.7M429.8 370.5h.7M428.6 347.4h.7M426.2 336.0h.7M434.9 366.5h.7M426.1 364.5h.7M427.1 366.0h.7M415.1 360.9h.7M421.0 370.9h.7M439.3 331.8h.7M438.3 351.8h.7M419.0 364.1h.7M439.0 340.8h.7M419.4 374.3h.7M429.6 368.3h.7M423.2 380.2h.7M414.8 392.7h.7M418.5 371.8h.7M415.2 356.6h.7M429.9 371.1h.7M420.8 378.1h.7M415.9 366.4h.7M415.9 400.4h.7M434.0 332.5h.7M427.3 357.6h.7M433.5 366.0h.7M416.6 359.2h.7M422.7 392.1h.7M423.0 355.5h.7M419.2 379.3h.7M419.9 393.9h.7M429.1 364.5h.7M423.1 358.7h.7M433.9 357.1h.7M424.5 341.4h.7M420.8 367.9h.7M421.7 365.5h.7M429.9 373.5h.7M428.4 352.9h.7M418.4 365.8h.7M410.0 345.0h.7M424.8 363.7h.7M422.9 383.7h.7M420.5 343.6h.7M427.4 385.8h.7M411.0 369.0h.7M429.7 362.6h.7M418.9 381.6h.7M417.3 364.9h.7M412.6 370.6h.7M431.8 368.6h.7M412.4 359.4h.7M416.5 342.0h.7M428.0 370.8h.7M420.9 389.2h.7M427.8 353.0h.7M422.6 362.1h.7M422.2 386.1h.7M432.0 345.3h.7M437.4 333.0h.7M427.6 382.0h.7M423.4 372.5h.7M417.3 390.4h.7M420.8 356.4h.7M410.9 404.4h.7M410.9 351.7h.7M426.1 363.8h.7M435.6 370.4h.7M424.9 350.8h.7M426.5 339.6h.7M416.5 389.3h.7M424.4 344.9h.7M417.5 364.1h.7M424.8 367.0h.7M427.9 331.9h.7M418.8 368.0h.7M430.4 351.7h.7M412.1 354.6h.7M424.3 403.5h.7M412.9 359.4h.7M416.9 385.1h.7M426.7 360.6h.7M424.7 389.8h.7M420.2 346.9h.7M422.6 344.4h.7M424.1 378.4h.7M419.6 380.9h.7M431.6 391.9h.7M419.7 375.3h.7M428.6 376.0h.7M429.7 370.3h.7M427.7 378.1h.7M426.1 373.0h.7M424.6 363.0h.7M422.7 355.7h.7M419.0 386.6h.7M420.4 328.4h.7M418.4 364.3h.7M431.9 366.6h.7M426.4 354.6h.7M418.1 340.2h.7M427.3 363.6h.7M417.0 367.7h.7M430.9 377.3h.7M428.5 381.7h.7M424.3 364.3h.7M422.4 372.8h.7M422.7 350.4h.7M418.1 385.4h.7M419.4 364.4h.7M433.8 345.2h.7M422.1 358.1h.7M418.5 363.3h.7M426.6 359.1h.7M429.6 374.6h.7M414.2 368.6h.7M421.1 344.2h.7M424.7 384.2h.7M434.4 373.5h.7M425.2 384.9h.7M421.4 358.8h.7M429.9 373.0h.7M418.5 359.5h.7M412.8 402.4h.7M419.6 357.8h.7M417.9 358.0h.7M423.4 365.3h.7M428.4 322.1h.7M423.5 391.9h.7M422.8 355.1h.7M437.6 351.3h.7M427.6 367.0h.7M421.3 348.9h.7M423.6 367.8h.7M436.2 335.4h.7M410.7 378.0h.7M411.0 322.4h.7M419.9 384.4h.7M433.7 346.6h.7M415.7 364.4h.7M434.6 357.5h.7M428.3 360.1h.7M414.3 371.9h.7M410.2 371.3h.7M425.5 351.6h.7M437.1 359.7h.7M425.7 339.7h.7M418.5 369.9h.7M428.1 372.5h.7M411.7 344.2h.7M413.9 386.0h.7M423.3 363.6h.7M421.8 351.4h.7M424.9 362.0h.7M420.9 368.9h.7M420.6 362.2h.7M430.9 373.4h.7M422.9 366.8h.7M432.7 339.4h.7M424.0 367.4h.7M419.7 353.2h.7M411.2 356.8h.7M416.1 366.3h.7M429.3 357.5h.7M413.7 374.5h.7M431.5 366.7h.7M418.9 359.6h.7M419.9 348.4h.7M429.2 357.2h.7M436.9 379.4h.7M418.7 353.1h.7M425.2 357.8h.7M421.4 372.6h.7M416.3 365.8h.7M420.3 390.0h.7M427.3 361.4h.7M414.5 365.0h.7M416.3 360.9h.7M424.9 377.0h.7M429.9 352.7h.7M423.7 363.7h.7M428.6 398.2h.7M430.0 376.8h.7M424.2 372.6h.7M421.2 364.4h.7M424.3 344.5h.7M419.4 379.2h.7M427.6 366.0h.7M426.4 350.6h.7M433.6 327.5h.7M419.7 353.4h.7M418.8 369.6h.7M423.2 380.3h.7M436.6 368.2h.7M415.3 367.4h.7M416.5 354.0h.7M419.3 381.2h.7M416.3 372.2h.7M416.7 380.9h.7M431.0 338.7h.7M427.9 349.0h.7M424.8 362.6h.7M428.7 342.3h.7M436.6 365.7h.7M417.5 387.0h.7M432.5 369.9h.7M418.6 353.2h.7M415.6 393.2h.7M422.8 364.4h.7M419.6 385.7h.7M419.7 379.7h.7M424.8 348.6h.7M436.7 326.9h.7M425.3 372.6h.7M425.7 362.8h.7M424.4 354.2h.7M422.2 394.2h.7M422.2 382.8h.7M432.6 352.4h.7M436.8 335.8h.7M418.6 365.0h.7M420.4 375.5h.7M421.5 374.9h.7M416.2 341.5h.7M436.0 364.6h.7M425.3 345.2h.7M425.8 363.1h.7M426.0 365.8h.7M430.2 385.0h.7M419.7 359.8h.7M427.8 339.6h.7M417.0 360.9h.7M420.3 362.3h.7M413.5 376.8h.7M419.0 346.9h.7M424.9 389.0h.7M411.2 368.4h.7M438.6 356.3h.7M417.0 392.8h.7M424.1 379.5h.7M434.7 371.3h.7M424.8 395.5h.7M411.1 350.5h.7M420.7 355.7h.7M421.1 335.0h.7M410.2 380.8h.7M420.9 372.4h.7M419.4 365.8h.7M411.0 397.6h.7M430.2 340.7h.7M419.0 372.0h.7M419.2 365.3h.7M423.9 334.6h.7M428.0 370.9h.7M415.1 364.5h.7M421.7 361.0h.7M422.7 340.2h.7M422.8 371.7h.7M425.3 371.4h.7M418.1 368.8h.7M429.6 363.9h.7M424.0 365.6h.7M426.3 342.9h.7M421.9 379.1h.7M415.6 376.6h.7M418.9 359.4h.7M414.0 353.2h.7M431.1 338.5h.7M423.4 342.6h.7M437.5 371.4h.7M416.4 348.6h.7M420.3 371.3h.7M434.8 384.5h.7M415.0 371.5h.7M429.3 351.2h.7M418.8 381.4h.7M412.0 369.2h.7M421.8 360.6h.7M422.5 338.6h.7M428.5 355.6h.7M437.0 392.4h.7M418.9 397.8h.7M433.0 348.4h.7M420.4 385.4h.7M416.9 361.3h.7M413.6 356.5h.7M416.9 371.2h.7M424.2 358.5h.7M412.1 372.5h.7M426.9 362.7h.7M432.6 354.2h.7M428.6 367.4h.7M432.2 388.3h.7M413.6 338.6h.7M430.1 367.7h.7M424.9 357.0h.7M416.7 386.6h.7M425.9 355.2h.7M451.0 333.8h.7M429.4 329.0h.7M458.3 333.3h.7M428.2 333.2h.7M481.9 336.1h.7M429.2 329.8h.7M440.3 328.7h.7M437.0 329.5h.7M448.8 326.9h.7M464.9 334.3h.7M481.3 337.0h.7M465.5 335.2h.7M448.5 327.6h.7M460.8 333.2h.7M439.8 333.9h.7M455.4 329.7h.7M473.3 331.0h.7M452.2 337.2h.7M441.9 330.8h.7M457.5 331.2h.7M442.2 327.2h.7M453.9 330.9h.7M463.4 337.3h.7M449.9 335.9h.7M439.0 339.2h.7M441.4 331.6h.7M444.3 330.1h.7M462.9 332.8h.7M436.1 335.5h.7M450.8 335.0h.7M453.6 330.6h.7M421.5 330.3h.7M436.1 337.4h.7M446.8 338.9h.7M486.8 338.7h.7M488.2 329.5h.7M442.3 327.7h.7M428.9 326.2h.7M464.4 329.4h.7M445.0 334.9h.7M443.7 339.1h.7M469.2 336.2h.7M476.8 335.6h.7M453.3 337.4h.7M466.9 327.0h.7M467.9 337.5h.7M414.4 340.5h.7M452.9 338.8h.7M431.6 332.9h.7M439.3 328.5h.7M454.6 326.3h.7M449.9 335.5h.7M438.4 327.4h.7M459.2 336.8h.7M464.8 330.6h.7M443.9 338.4h.7M464.2 334.4h.7M454.0 331.9h.7M460.0 335.9h.7M451.0 333.7h.7M428.3 331.3h.7M475.5 334.2h.7M428.6 329.9h.7M451.7 338.9h.7M484.2 333.3h.7M447.9 333.0h.7M432.8 337.8h.7M431.3 335.2h.7M443.1 327.8h.7M455.5 340.0h.7M431.1 332.9h.7M439.3 336.9h.7M427.0 326.3h.7M444.2 326.7h.7M465.8 326.5h.7M451.3 330.4h.7M465.9 330.7h.7M447.2 339.9h.7M460.5 338.4h.7M472.8 335.4h.7M455.2 325.3h.7M422.9 330.0h.7M454.8 337.6h.7M438.1 330.8h.7M483.2 328.6h.7M447.3 332.0h.7M439.2 338.8h.7M425.0 330.5h.7M423.7 328.7h.7M474.9 324.5h.7M423.7 331.8h.7M456.0 329.5h.7M457.2 331.9h.7M444.1 332.8h.7M469.7 327.9h.7M463.8 334.2h.7M446.9 329.3h.7M455.6 336.2h.7M435.4 335.4h.7M450.8 336.2h.7M454.5 331.8h.7M453.6 335.5h.7M427.3 331.9h.7M411.8 332.4h.7M442.6 332.4h.7M466.0 337.1h.7M472.9 337.3h.7M446.9 329.0h.7M491.2 330.8h.7M444.6 334.3h.7M437.2 332.8h.7M453.6 330.3h.7M433.8 332.2h.7M457.0 328.4h.7M452.4 333.1h.7M436.2 334.0h.7M428.6 335.9h.7M439.0 336.7h.7M451.8 332.8h.7M429.0 335.3h.7M432.8 341.8h.7M457.1 333.6h.7M450.7 335.6h.7M457.5 334.5h.7M464.1 332.3h.7M475.8 326.6h.7M424.1 334.3h.7M449.9 325.9h.7M431.1 328.9h.7M470.3 336.0h.7M424.0 325.9h.7M452.4 327.2h.7M440.5 329.7h.7M451.0 335.1h.7M439.1 329.9h.7M454.5 339.8h.7M456.8 331.2h.7M465.1 332.4h.7M428.5 334.8h.7M476.2 328.4h.7M462.4 327.5h.7M448.9 332.0h.7M444.7 331.9h.7M461.0 330.6h.7M446.6 331.1h.7M454.6 329.8h.7M462.7 334.2h.7M440.9 326.6h.7M446.0 336.9h.7M460.4 332.9h.7M482.4 340.3h.7M458.5 338.9h.7M446.3 330.8h.7M453.9 324.4h.7M450.7 330.3h.7M471.7 335.6h.7M475.0 331.3h.7M473.7 333.9h.7M458.7 334.6h.7M430.2 336.0h.7M443.1 335.1h.7M449.5 328.2h.7M445.4 333.7h.7M445.6 339.9h.7M469.5 333.5h.7M444.5 338.7h.7M450.9 337.7h.7M428.7 323.1h.7M462.5 336.9h.7M447.7 331.7h.7M457.6 335.0h.7M449.1 332.6h.7M454.0 337.4h.7M461.6 321.5h.7M456.0 331.3h.7M467.4 336.2h.7M442.0 331.9h.7M413.3 330.9h.7M433.0 332.6h.7M438.9 337.6h.7M470.8 331.5h.7M436.3 337.8h.7M428.9 330.4h.7M444.3 333.4h.7M451.2 328.5h.7M464.2 334.6h.7M455.5 339.6h.7M480.2 334.5h.7M443.8 331.1h.7M448.5 327.7h.7M439.2 329.9h.7M458.6 336.0h.7M411.2 324.3h.7M440.5 327.5h.7M449.9 324.7h.7M446.6 333.3h.7M456.5 330.8h.7M457.0 336.0h.7M444.7 327.7h.7M442.1 333.6h.7M454.7 325.2h.7M426.5 324.7h.7M478.9 335.2h.7M453.1 327.4h.7M416.7 340.5h.7M460.1 321.9h.7M475.9 334.9h.7M449.5 333.6h.7M464.6 324.1h.7M454.8 327.0h.7M443.8 331.4h.7M443.5 329.0h.7M453.0 330.8h.7M454.5 335.9h.7M436.7 331.2h.7M436.6 335.7h.7M461.8 337.3h.7M467.1 333.5h.7M434.4 328.7h.7M469.5 333.6h.7M463.0 330.3h.7M446.7 340.9h.7M465.9 325.9h.7M439.3 332.8h.7M467.0 337.2h.7M463.8 338.3h.7M461.3 336.6h.7M436.4 326.7h.7M442.1 337.8h.7M471.8 328.3h.7M445.8 332.7h.7M459.4 334.2h.7M473.9 334.3h.7M446.8 331.3h.7M467.5 331.9h.7M458.6 330.9h.7M431.7 322.5h.7M445.6 328.8h.7M463.1 331.2h.7M435.5 335.3h.7M443.5 341.5h.7M443.1 332.6h.7M438.0 338.9h.7M454.8 331.6h.7M448.8 323.3h.7M470.2 333.1h.7M468.7 329.3h.7M473.2 330.3h.7M450.8 341.4h.7M442.3 332.4h.7M447.7 332.9h.7M452.7 331.9h.7M457.2 330.8h.7M471.4 336.1h.7M432.2 329.6h.7M445.1 336.5h.7M419.5 336.5h.7M419.1 328.8h.7M436.6 330.6h.7M462.7 336.9h.7M448.5 331.5h.7M434.8 337.2h.7M442.5 344.2h.7M425.4 328.8h.7M461.2 340.8h.7M445.3 334.3h.7M440.4 333.2h.7M416.6 334.4h.7M441.8 334.1h.7M448.1 328.1h.7M425.6 327.4h.7M449.5 335.6h.7M468.0 337.3h.7M482.9 337.8h.7M478.8 336.8h.7M455.3 325.0h.7M465.6 332.3h.7M444.1 326.4h.7M470.3 333.0h.7M443.4 328.8h.7M448.8 334.4h.7M459.8 333.2h.7M453.7 332.9h.7M443.5 337.4h.7M448.0 329.9h.7M477.6 329.1h.7M443.0 332.8h.7M447.4 332.0h.7M465.5 337.4h.7M429.0 340.1h.7M431.5 327.4h.7M461.0 328.4h.7M431.1 335.6h.7M458.2 334.4h.7M472.6 337.7h.7M442.9 330.2h.7M456.8 330.8h.7M454.4 336.5h.7M454.4 326.4h.7M476.4 333.0h.7M455.8 325.4h.7M449.6 326.8h.7M475.4 331.1h.7M428.2 331.3h.7M435.5 332.3h.7M435.3 324.5h.7M447.2 331.1h.7M437.5 335.1h.7M463.6 332.4h.7M448.9 334.0h.7M464.8 333.7h.7M432.4 334.8h.7M488.0 336.4h.7M455.3 330.2h.7M425.8 334.0h.7M459.4 334.7h.7M452.7 338.2h.7M448.5 324.2h.7M448.0 333.2h.7M462.6 335.3h.7M461.3 334.8h.7M454.9 327.5h.7M445.1 336.8h.7M476.2 321.6h.7M447.9 330.5h.7M463.8 324.3h.7M441.2 333.0h.7M437.4 324.5h.7M479.8 332.2h.7M451.2 335.2h.7M480.4 330.2h.7M447.8 330.9h.7M465.3 337.0h.7M475.3 331.3h.7M430.9 329.1h.7M419.8 333.1h.7M417.4 333.4h.7M433.4 333.9h.7M473.7 332.6h.7M448.0 332.6h.7M440.1 333.7h.7M446.1 333.0h.7M437.1 334.4h.7M455.4 328.8h.7M449.0 326.3h.7M427.6 326.9h.7M456.5 330.9h.7M449.3 333.6h.7M445.6 331.5h.7M441.0 341.7h.7M437.0 334.8h.7M446.1 340.3h.7M431.8 331.5h.7M456.3 330.5h.7M483.9 334.6h.7M456.5 325.3h.7M456.7 327.4h.7M458.9 334.3h.7M448.0 329.9h.7M437.1 329.3h.7M474.6 329.6h.7M445.1 334.1h.7M428.3 330.0h.7M468.1 334.1h.7M458.9 335.9h.7M449.5 322.1h.7M462.1 335.3h.7M412.2 330.4h.7M472.5 328.0h.7M465.0 339.3h.7M448.1 331.2h.7M433.9 334.8h.7M453.8 335.0h.7M449.0 332.6h.7M440.4 336.9h.7M447.7 337.9h.7M464.2 329.6h.7M432.1 336.5h.7M456.3 331.1h.7M466.6 324.1h.7M459.1 331.2h.7M461.7 330.2h.7M442.4 335.2h.7M455.9 326.3h.7M458.3 335.8h.7M423.8 327.5h.7M431.8 327.6h.7M438.9 340.4h.7M434.0 327.8h.7M445.9 338.1h.7M443.5 336.4h.7M466.3 331.1h.7M456.2 337.0h.7M453.6 339.6h.7M456.1 339.6h.7M434.0 333.0h.7M411.8 325.1h.7M441.1 330.4h.7M446.4 334.6h.7M426.8 324.3h.7M461.9 334.1h.7M465.0 336.5h.7M454.9 330.3h.7M457.8 328.6h.7M429.1 330.4h.7M485.4 329.2h.7M471.2 332.3h.7M477.3 331.0h.7M431.1 329.1h.7M446.8 334.8h.7M438.4 333.0h.7M487.4 333.6h.7M460.4 344.3h.7M437.8 332.0h.7M444.5 333.5h.7M437.1 330.7h.7M461.5 332.8h.7M419.2 336.6h.7M455.8 341.0h.7M436.5 333.6h.7M435.3 335.5h.7M440.7 337.8h.7M451.5 322.9h.7M431.7 334.8h.7M461.7 337.2h.7M457.8 330.6h.7M451.9 332.7h.7M450.0 336.9h.7M435.0 330.7h.7M470.8 332.4h.7M458.6 330.3h.7M450.7 338.1h.7M475.3 333.3h.7M439.7 338.7h.7M419.6 330.7h.7M461.3 343.1h.7M466.5 332.3h.7M448.8 332.2h.7M434.7 330.2h.7M454.8 325.1h.7M464.7 333.4h.7M423.4 325.1h.7M438.5 339.3h.7M457.4 327.7h.7M441.7 325.0h.7M434.5 324.4h.7M478.4 336.3h.7M470.4 335.0h.7M437.8 336.4h.7M457.4 329.5h.7M423.5 331.5h.7M430.3 330.6h.7M417.2 323.4h.7M465.1 335.2h.7M452.0 331.3h.7M452.8 328.3h.7M462.1 339.7h.7M440.0 325.3h.7M449.9 324.8h.7M481.3 332.8h.7M456.4 333.4h.7M441.6 328.9h.7M432.5 340.6h.7M450.9 337.2h.7M473.7 331.8h.7M441.5 330.4h.7M455.6 328.2h.7M465.0 331.7h.7M437.4 335.1h.7M472.6 329.1h.7M446.7 331.5h.7M458.1 336.1h.7M447.7 328.2h.7M440.0 336.0h.7M479.3 334.0h.7M436.5 343.2h.7M468.1 329.7h.7M429.4 327.7h.7M497.3 339.3h.7M433.7 328.5h.7M443.7 326.5h.7M459.1 327.8h.7M445.8 334.8h.7M445.7 336.6h.7M441.3 337.3h.7M439.0 329.4h.7M426.1 333.2h.7M460.7 332.7h.7M472.8 335.9h.7M455.3 325.2h.7M446.8 333.9h.7M430.5 338.3h.7M454.9 339.2h.7M429.7 339.8h.7M471.8 333.6h.7M444.1 339.4h.7M433.9 330.9h.7M467.8 332.5h.7M436.6 326.8h.7M441.8 337.8h.7M493.9 329.2h.7M430.0 334.6h.7M446.9 330.4h.7M447.3 338.3h.7M462.2 329.3h.7M457.9 327.1h.7M467.9 323.8h.7M442.7 336.2h.7M477.4 335.4h.7M417.8 330.5h.7M464.7 335.6h.7M455.9 330.0h.7M418.5 329.3h.7M452.2 329.4h.7M435.8 333.7h.7M444.3 333.0h.7M467.0 329.6h.7M465.8 327.7h.7M463.9 334.6h.7M457.8 335.8h.7M453.2 324.6h.7M477.0 334.1h.7M453.1 332.7h.7M456.1 331.5h.7M428.0 326.4h.7M478.5 335.9h.7M432.3 339.1h.7M454.3 327.5h.7M437.1 329.0h.7M468.2 336.3h.7M445.6 331.1h.7M438.2 332.5h.7M432.9 335.8h.7M448.2 336.6h.7M475.2 334.4h.7M434.7 333.0h.7M435.6 336.8h.7M444.4 331.4h.7M415.5 334.4h.7M441.6 338.0h.7M458.1 332.3h.7M463.9 331.5h.7M436.5 331.8h.7M446.0 337.1h.7M438.6 327.2h.7M471.7 337.0h.7M443.9 332.7h.7M423.5 339.1h.7M441.0 322.3h.7M447.7 334.6h.7M460.5 333.8h.7M453.8 331.7h.7M448.5 331.2h.7M490.2 333.8h.7M452.2 323.1h.7M449.2 334.9h.7M461.3 325.7h.7M448.7 339.5h.7M446.7 331.4h.7M459.5 332.2h.7M441.2 329.2h.7M421.8 332.4h.7M459.1 335.4h.7M437.6 333.9h.7M432.8 324.5h.7M460.2 326.9h.7M427.2 330.2h.7M444.5 339.2h.7M466.6 342.3h.7M452.8 325.0h.7M429.0 333.0h.7M427.6 333.7h.7M466.8 335.5h.7M422.4 336.6h.7M477.9 337.8h.7M488.3 329.8h.7M447.8 336.2h.7M466.2 339.6h.7M447.4 329.2h.7M446.6 329.0h.7M451.4 330.9h.7M462.5 329.5h.7M464.9 329.3h.7M469.8 338.5h.7M449.5 331.4h.7M455.6 334.6h.7M433.3 335.1h.7M419.8 326.2h.7M430.4 332.7h.7M467.5 330.2h.7M444.6 333.7h.7M455.7 335.2h.7M429.0 333.2h.7M465.7 336.2h.7M473.8 326.4h.7M469.6 326.4h.7M431.7 332.8h.7M488.0 338.9h.7M447.8 332.7h.7M467.8 327.3h.7M444.2 329.5h.7M469.5 335.5h.7M455.1 338.1h.7M445.9 328.1h.7M464.8 324.5h.7M454.5 332.4h.7M423.9 332.5h.7M435.9 338.2h.7M462.5 336.8h.7M466.0 332.8h.7M468.1 335.7h.7M459.2 337.5h.7M482.3 325.6h.7M442.6 325.5h.7M429.8 335.0h.7M434.3 331.0h.7M440.9 336.6h.7M476.2 333.7h.7M438.9 329.5h.7M447.0 324.9h.7M430.3 332.7h.7M454.1 333.3h.7M455.6 329.2h.7M448.3 327.7h.7M454.0 323.4h.7M458.6 333.7h.7M443.4 332.9h.7M466.7 333.2h.7M481.4 338.8h.7M452.0 331.5h.7M431.0 327.0h.7M453.4 333.0h.7M455.9 340.2h.7M456.9 334.4h.7M446.5 327.3h.7M442.8 331.8h.7M461.7 335.9h.7M433.8 331.4h.7M462.4 326.3h.7M446.3 325.7h.7M439.1 337.3h.7M456.2 342.4h.7M433.6 336.1h.7M447.6 325.1h.7M453.4 333.5h.7M445.9 337.8h.7M445.2 335.6h.7M450.2 330.0h.7M456.4 337.4h.7M473.4 338.5h.7M423.0 325.6h.7M446.0 337.7h.7M419.7 332.2h.7M431.1 335.4h.7M466.9 331.7h.7M472.2 336.4h.7M447.8 338.9h.7M484.6 333.0h.7M454.4 334.1h.7M463.5 331.0h.7M446.8 337.7h.7M448.4 338.4h.7M454.8 340.4h.7M474.2 327.9h.7M461.6 331.7h.7M440.8 336.1h.7M467.5 335.3h.7M468.2 340.4h.7M456.3 335.5h.7M458.3 339.5h.7M436.5 331.8h.7M431.1 329.4h.7M456.2 331.0h.7M438.5 331.1h.7M468.7 342.5h.7M452.6 329.2h.7M453.7 329.8h.7M455.9 335.8h.7M481.6 330.0h.7M448.5 328.7h.7M467.9 328.7h.7M471.4 341.3h.7M423.2 336.7h.7M487.4 334.1h.7M449.7 341.7h.7M447.2 332.0h.7M436.1 335.1h.7M471.9 329.6h.7M464.0 335.2h.7M475.9 332.8h.7M438.4 333.2h.7M458.1 331.5h.7M435.7 335.0h.7M425.2 326.6h.7M448.8 326.3h.7M458.8 325.4h.7M447.6 334.4h.7M472.4 329.4h.7M455.2 338.1h.7M437.7 333.9h.7M468.9 338.1h.7M449.7 334.2h.7M439.3 334.7h.7M457.6 330.4h.7M489.2 336.6h.7M437.4 332.3h.7M458.6 328.0h.7M436.2 335.5h.7M449.6 332.2h.7M467.4 331.8h.7M426.8 326.8h.7M448.3 331.6h.7M444.5 328.4h.7M422.5 330.6h.7M457.5 334.0h.7M460.7 346.3h.7M431.9 329.2h.7M453.3 321.7h.7M461.9 332.4h.7M449.0 332.5h.7M447.0 329.4h.7M468.3 334.6h.7M455.9 331.5h.7M420.2 329.5h.7M414.4 328.6h.7M456.4 331.5h.7M451.9 339.8h.7M459.6 337.4h.7M445.4 330.9h.7M428.2 338.6h.7M468.8 332.7h.7M458.0 333.9h.7M472.5 335.5h.7M449.0 327.7h.7M446.7 337.9h.7M439.1 331.1h.7M460.6 340.2h.7M412.8 330.8h.7M442.6 336.0h.7M444.2 324.4h.7M412.5 323.8h.7M443.8 327.5h.7M428.4 341.0h.7M426.2 330.4h.7M469.9 333.1h.7M417.7 331.6h.7M450.0 338.6h.7M437.2 325.1h.7M444.0 327.2h.7M453.6 335.5h.7M449.2 332.2h.7M430.5 325.6h.7M455.2 339.0h.7M463.4 343.9h.7M434.2 322.2h.7M449.5 333.7h.7M436.6 323.4h.7M472.2 324.4h.7M458.5 336.6h.7M471.6 332.8h.7M465.5 331.8h.7M462.3 338.9h.7M449.8 324.5h.7M472.9 330.3h.7M441.3 336.8h.7M464.6 335.1h.7M440.9 335.5h.7M452.5 330.9h.7M437.4 334.3h.7M438.0 338.1h.7M421.1 327.0h.7M453.3 324.7h.7M480.5 326.9h.7M440.3 330.2h.7M453.1 338.9h.7M443.3 329.9h.7M471.2 333.0h.7M462.9 333.0h.7M441.9 329.4h.7M434.1 328.3h.7M453.0 332.3h.7M463.1 333.3h.7M456.9 328.6h.7M423.7 336.3h.7M479.3 331.9h.7M464.3 328.8h.7M435.4 333.8h.7M464.2 335.5h.7M468.2 333.4h.7M447.9 332.8h.7M435.8 330.4h.7M423.1 326.3h.7M462.9 330.3h.7M413.1 326.1h.7M462.9 332.5h.7M448.8 335.1h.7M469.0 331.6h.7M454.1 341.7h.7M460.0 330.2h.7M436.6 329.9h.7M469.0 323.5h.7M460.5 330.8h.7M460.6 333.6h.7M424.5 329.4h.7M417.8 330.8h.7M437.7 336.2h.7M420.4 332.9h.7M434.3 329.7h.7M422.5 340.1h.7M446.4 332.7h.7M487.5 325.5h.7M448.6 328.1h.7M445.7 330.4h.7M458.5 336.1h.7M451.3 337.9h.7M444.9 326.4h.7M422.4 335.5h.7M444.4 334.5h.7M461.9 328.6h.7M471.3 336.4h.7M477.0 336.5h.7M431.5 334.5h.7M452.3 325.9h.7M464.4 331.7h.7M456.9 340.2h.7M471.5 331.1h.7M462.1 337.5h.7M452.8 337.5h.7M459.7 330.7h.7M473.1 332.0h.7M442.4 330.5h.7M421.0 336.5h.7M430.5 323.5h.7M455.6 322.5h.7M445.5 335.7h.7M455.8 334.3h.7M445.5 327.9h.7M454.9 336.1h.7M449.2 336.9h.7M410.8 327.1h.7M452.9 326.7h.7M441.3 331.8h.7M436.9 331.0h.7M465.9 332.9h.7M467.3 335.0h.7M441.8 332.5h.7M465.2 330.3h.7M439.5 337.8h.7M463.9 335.8h.7M441.6 331.4h.7M456.6 334.5h.7M464.5 327.8h.7M464.8 328.2h.7M434.6 329.7h.7M441.5 337.0h.7M469.9 342.7h.7M439.0 332.8h.7M471.7 325.1h.7M463.4 341.5h.7M466.2 329.5h.7M448.8 333.1h.7M439.2 327.4h.7M469.1 329.0h.7M467.6 328.0h.7M437.4 321.5h.7M439.7 330.3h.7M464.1 326.2h.7M450.2 337.6h.7M463.4 339.6h.7M448.1 325.4h.7M450.5 334.9h.7M433.4 330.5h.7M449.8 342.5h.7M439.5 328.5h.7M447.1 329.4h.7M451.0 330.1h.7M430.1 328.6h.7M418.9 339.3h.7M472.7 332.5h.7M453.7 335.7h.7M455.5 328.5h.7M436.0 335.7h.7M446.0 334.3h.7M443.7 336.3h.7M447.9 333.5h.7M459.6 323.4h.7M465.1 339.0h.7M442.5 324.7h.7M456.7 328.5h.7M434.1 339.2h.7M448.4 327.4h.7M429.2 333.6h.7M455.8 334.4h.7M431.7 328.7h.7M449.9 330.6h.7M451.4 330.9h.7M449.4 333.2h.7M460.8 338.7h.7M449.6 323.0h.7M473.5 326.1h.7M454.3 338.1h.7M460.4 338.8h.7M450.5 342.6h.7M458.9 325.1h.7M462.1 331.3h.7M467.9 329.7h.7M464.1 326.9h.7M445.8 331.8h.7M468.8 329.2h.7M455.6 337.7h.7M421.0 338.8h.7M448.8 333.4h.7M481.9 333.1h.7M462.1 338.6h.7M474.1 338.8h.7M440.4 333.9h.7M426.9 326.1h.7M445.4 330.9h.7M441.1 328.6h.7M477.9 327.2h.7M458.9 326.8h.7M455.4 328.7h.7M422.7 322.3h.7M469.3 338.7h.7M445.7 331.5h.7M455.8 325.4h.7M460.6 346.5h.7M443.0 324.5h.7M440.9 332.2h.7M445.1 340.3h.7M460.5 330.0h.7M454.1 330.4h.7M437.5 339.1h.7M447.4 329.7h.7M473.4 331.8h.7M461.5 327.5h.7M444.0 336.4h.7M478.8 322.6h.7M471.9 331.6h.7M442.5 337.0h.7M448.2 329.7h.7M446.6 331.3h.7M442.0 337.2h.7M477.1 329.0h.7M439.5 331.5h.7M437.8 332.5h.7M452.7 332.5h.7M438.3 333.5h.7M429.6 330.0h.7M447.8 332.5h.7M463.7 331.9h.7M434.0 333.9h.7M447.9 336.0h.7M476.9 340.2h.7M449.8 327.8h.7M453.9 331.6h.7M438.1 325.0h.7M468.8 328.4h.7M466.8 337.8h.7M435.1 333.8h.7M448.9 325.6h.7M440.0 332.7h.7M465.7 329.5h.7M446.8 337.1h.7M443.6 329.0h.7M425.5 333.7h.7M438.7 327.5h.7M442.7 328.7h.7M497.2 331.1h.7M462.5 326.8h.7M464.0 334.4h.7M444.0 342.6h.7M434.7 326.9h.7M438.6 331.7h.7M462.7 332.4h.7M437.6 327.5h.7M476.4 331.0h.7M478.2 332.7h.7M444.2 330.5h.7M458.1 336.3h.7M444.2 334.6h.7M429.3 324.1h.7M424.3 329.4h.7M439.3 335.3h.7M444.4 330.2h.7M445.1 325.4h.7M429.9 340.7h.7M459.4 325.9h.7M430.3 333.5h.7M442.4 329.4h.7M462.6 327.7h.7M429.3 333.8h.7M434.4 332.6h.7M419.4 329.7h.7M479.4 326.5h.7M449.0 331.8h.7M452.1 331.7h.7M461.9 329.6h.7M434.9 332.8h.7M453.7 324.0h.7M462.0 330.9h.7M465.7 332.8h.7M429.9 330.0h.7M461.1 337.5h.7M447.2 335.3h.7M471.3 334.3h.7M473.3 336.1h.7M434.7 326.1h.7M436.8 339.9h.7M469.0 328.7h.7M449.6 342.0h.7M436.8 332.0h.7M444.4 336.2h.7M419.7 333.1h.7M453.1 337.8h.7M457.0 334.4h.7M434.8 333.3h.7M441.9 340.6h.7M455.3 332.7h.7M452.6 332.8h.7M443.8 335.3h.7M449.9 328.3h.7M464.5 336.3h.7M468.4 331.0h.7M465.3 339.9h.7M460.7 334.6h.7M449.5 325.1h.7M433.8 331.7h.7M467.1 335.4h.7M441.6 333.2h.7M448.4 329.0h.7M449.6 336.4h.7M431.9 330.0h.7M449.6 327.7h.7M435.3 334.1h.7M484.7 333.8h.7M441.9 339.6h.7M452.6 323.7h.7M441.4 323.2h.7M445.1 339.1h.7M482.9 348.7h.7M466.1 331.4h.7M439.9 330.3h.7M433.0 327.7h.7M455.9 333.3h.7M453.4 331.8h.7M426.5 334.4h.7M450.6 336.3h.7M452.8 327.9h.7M465.4 336.6h.7M446.2 335.7h.7M457.5 330.5h.7M453.9 329.1h.7M471.9 331.1h.7M465.7 341.3h.7M451.3 335.7h.7M473.9 324.5h.7M484.6 336.3h.7M430.9 332.7h.7M484.8 334.0h.7M472.4 338.1h.7M440.1 333.9h.7M478.2 329.7h.7M452.0 330.0h.7M441.9 331.4h.7M416.3 328.6h.7M423.0 327.3h.7M441.2 337.1h.7M432.8 336.1h.7M443.8 328.8h.7M423.4 332.5h.7M449.0 336.2h.7M440.5 322.7h.7M459.2 339.0h.7M450.8 333.2h.7M458.3 334.0h.7M491.6 333.3h.7M458.6 337.0h.7M458.9 324.9h.7M456.8 331.2h.7M434.5 336.4h.7M439.8 334.2h.7M439.3 335.0h.7M471.7 329.3h.7M437.8 336.5h.7M436.1 337.1h.7M456.5 328.6h.7M441.4 338.5h.7M463.9 333.7h.7M453.9 337.8h.7M440.7 333.9h.7M457.7 339.0h.7M444.5 331.6h.7M454.7 331.7h.7M446.4 335.1h.7M442.6 331.1h.7M454.6 333.3h.7M444.5 332.1h.7M431.1 328.6h.7M439.0 327.2h.7M474.5 343.1h.7M446.6 332.1h.7M448.2 330.9h.7M441.4 336.6h.7M458.8 326.9h.7M453.8 328.9h.7M460.4 329.4h.7M455.3 329.4h.7M447.3 334.2h.7M461.4 326.6h.7M441.6 328.6h.7M423.4 333.0h.7M446.8 331.1h.7M437.4 340.5h.7M444.7 333.8h.7M433.1 331.5h.7M413.6 330.4h.7M451.3 328.3h.7M432.8 327.2h.7M441.8 337.2h.7M451.9 329.8h.7M442.4 336.0h.7M439.5 328.2h.7M462.5 332.9h.7M471.2 332.1h.7M445.4 334.4h.7M453.4 332.8h.7M435.2 329.1h.7M438.1 329.9h.7M470.7 329.0h.7M457.6 334.8h.7M425.5 336.5h.7M453.9 334.4h.7M453.4 337.2h.7M456.4 329.7h.7M440.3 328.3h.7M437.8 328.3h.7M453.9 337.1h.7M440.7 355.5h.7M452.6 350.6h.7M427.8 329.3h.7M452.2 349.2h.7M429.9 343.5h.7M444.5 346.5h.7M431.0 348.7h.7M429.3 347.4h.7M448.0 348.2h.7M437.3 352.9h.7M459.8 341.7h.7M443.7 335.5h.7M449.6 333.1h.7M440.5 354.6h.7M435.3 329.2h.7M439.9 335.9h.7M462.6 352.8h.7M433.6 346.2h.7M443.0 354.6h.7M455.0 350.0h.7M431.1 324.1h.7M428.7 340.3h.7M449.4 335.2h.7M454.0 351.2h.7M443.2 353.4h.7M436.1 356.4h.7M443.4 342.2h.7M435.4 331.8h.7M439.5 351.7h.7M438.8 344.0h.7M457.9 366.9h.7M430.3 359.0h.7M442.3 346.9h.7M435.1 346.2h.7M445.2 349.8h.7M437.3 343.6h.7M448.3 357.8h.7M438.6 351.7h.7M449.1 348.6h.7M434.2 348.6h.7M443.3 338.0h.7M443.0 346.8h.7M436.2 361.1h.7M445.3 339.7h.7M453.3 342.7h.7M433.5 339.1h.7M452.2 335.9h.7M445.5 350.1h.7M437.4 353.7h.7M451.9 344.7h.7M442.5 352.2h.7M443.2 357.3h.7M449.4 346.4h.7M444.6 343.5h.7M448.5 340.1h.7M442.2 337.0h.7M464.0 345.5h.7M443.0 350.6h.7M427.5 361.1h.7M427.8 354.5h.7M439.1 353.5h.7M448.4 348.0h.7M451.6 342.9h.7M444.8 344.1h.7M436.4 339.4h.7M445.9 360.0h.7M435.0 344.4h.7M436.3 351.2h.7M424.6 351.4h.7M435.9 340.1h.7M444.8 348.1h.7M445.2 356.2h.7M429.9 358.0h.7M447.4 365.4h.7M455.0 348.8h.7M425.1 352.1h.7M456.4 351.1h.7M441.9 337.2h.7M443.0 335.2h.7M435.4 344.9h.7M446.3 341.2h.7M442.0 346.8h.7M445.0 351.4h.7M446.9 343.9h.7M444.0 341.7h.7M431.6 344.2h.7M442.4 330.8h.7M449.6 348.5h.7M428.4 341.2h.7M434.5 330.1h.7M426.8 353.1h.7M424.5 367.7h.7M455.2 357.1h.7M447.1 355.4h.7M454.5 337.0h.7M456.8 338.1h.7M439.4 326.4h.7M439.6 333.7h.7M463.1 346.2h.7M450.6 341.6h.7M451.1 349.8h.7M439.1 351.9h.7M438.8 337.2h.7M424.2 337.1h.7M447.9 361.7h.7M438.3 342.7h.7M454.5 343.5h.7M445.6 346.5h.7M420.3 339.9h.7M445.4 347.2h.7M440.0 336.6h.7M443.8 344.3h.7M433.4 346.6h.7M444.8 363.8h.7M452.6 337.8h.7M449.8 333.0h.7M421.0 344.3h.7M460.1 349.7h.7M436.1 351.3h.7M423.4 348.7h.7M433.6 338.3h.7M438.9 341.0h.7M445.5 336.1h.7M446.0 349.9h.7M450.0 350.8h.7M448.9 354.2h.7M454.1 353.4h.7M453.4 334.2h.7M440.2 359.1h.7M437.0 353.9h.7M452.3 356.0h.7M437.0 349.8h.7M441.3 352.3h.7M425.0 349.4h.7M453.3 344.8h.7M451.9 356.8h.7M443.9 343.2h.7M437.4 338.0h.7M438.6 346.1h.7M451.4 339.7h.7M436.2 347.5h.7M440.5 357.6h.7M442.8 358.4h.7M443.4 325.5h.7M440.9 338.1h.7M442.7 339.3h.7M450.9 343.1h.7M439.3 364.4h.7M439.6 343.6h.7M439.4 353.4h.7M444.9 346.7h.7M453.3 340.1h.7M449.4 352.4h.7M445.4 342.3h.7M441.3 356.2h.7M417.7 363.6h.7M434.0 356.1h.7M447.5 349.5h.7M447.4 342.1h.7M457.5 344.7h.7M450.2 343.9h.7M439.6 356.2h.7M433.7 348.2h.7M435.0 335.2h.7M451.7 345.4h.7M425.7 349.3h.7M464.1 351.7h.7M440.6 350.2h.7M440.1 349.2h.7M441.4 348.7h.7M438.4 354.6h.7M431.7 334.8h.7M427.1 344.1h.7M443.7 351.3h.7M449.8 333.1h.7M428.2 354.5h.7M459.0 349.1h.7M441.4 355.5h.7M457.8 352.3h.7M444.5 344.1h.7M437.6 344.2h.7M431.5 351.7h.7M452.1 342.8h.7M449.8 351.1h.7M441.5 346.7h.7M456.3 338.3h.7M436.3 344.7h.7M435.7 352.7h.7M448.2 343.6h.7M448.5 331.2h.7M443.6 366.1h.7M451.5 337.0h.7M450.7 340.1h.7M448.2 351.5h.7M429.6 364.2h.7M430.0 345.5h.7M449.0 350.8h.7M444.7 343.9h.7M450.0 348.6h.7M439.7 356.6h.7M457.1 339.6h.7M439.0 339.0h.7M431.7 350.4h.7M451.6 333.7h.7M440.5 350.0h.7M437.3 355.0h.7M448.2 345.5h.7M453.5 347.9h.7M452.9 350.2h.7M440.4 359.7h.7M436.5 351.2h.7M439.8 340.8h.7M430.9 358.6h.7M455.1 353.7h.7M424.7 355.5h.7M443.8 351.7h.7M445.2 351.4h.7M447.0 355.1h.7M444.2 342.4h.7M422.6 353.1h.7M423.4 345.7h.7M442.5 346.0h.7M435.9 362.5h.7M429.7 359.2h.7M440.1 346.4h.7M443.4 350.7h.7M426.8 353.9h.7M441.3 347.0h.7M442.9 346.0h.7M452.7 338.0h.7M435.7 352.3h.7M440.9 354.8h.7M416.6 349.6h.7M443.4 361.3h.7M452.1 337.8h.7M452.5 338.4h.7M445.6 343.5h.7M430.0 355.9h.7M447.9 343.5h.7M435.0 342.1h.7M441.4 356.2h.7M438.6 347.2h.7M439.0 337.6h.7M439.2 342.5h.7M453.6 346.4h.7M454.4 344.3h.7M444.2 358.1h.7M446.9 346.9h.7M447.1 349.0h.7M453.1 340.2h.7M438.5 340.5h.7M453.8 350.2h.7M439.9 352.1h.7M460.2 350.3h.7M442.0 339.4h.7M447.9 367.2h.7M453.5 342.6h.7M428.5 357.4h.7M435.0 345.1h.7M462.5 340.1h.7M440.6 368.8h.7M458.3 325.2h.7M449.9 343.7h.7M444.3 341.7h.7M445.5 351.7h.7M440.0 353.9h.7M449.6 336.3h.7M459.1 345.3h.7M450.6 357.1h.7M442.5 366.5h.7M434.6 339.9h.7M439.5 362.5h.7M457.4 351.0h.7M433.9 345.4h.7M440.9 348.1h.7M432.3 349.1h.7M438.3 351.4h.7M433.9 344.1h.7M443.9 352.1h.7M443.4 348.2h.7M441.3 342.2h.7M438.8 340.6h.7M447.5 349.3h.7M441.2 340.2h.7M439.0 346.2h.7M452.0 342.5h.7M444.6 341.2h.7M448.6 343.7h.7M434.9 332.8h.7M439.6 344.6h.7M453.2 334.9h.7M437.2 337.9h.7M449.7 347.8h.7M439.3 352.4h.7M444.0 342.7h.7M442.1 351.8h.7M451.0 359.5h.7M445.2 346.9h.7M443.5 340.1h.7M441.1 351.6h.7M439.1 345.1h.7M431.0 353.8h.7M452.2 345.2h.7M444.2 348.2h.7M443.0 345.1h.7M451.5 363.2h.7M451.8 347.7h.7M439.3 337.7h.7M451.8 343.6h.7M447.7 341.9h.7M420.3 367.5h.7M431.6 353.6h.7M453.1 331.8h.7M444.2 345.7h.7M428.6 363.3h.7M438.2 351.8h.7M442.8 361.9h.7M434.4 345.2h.7M445.1 352.1h.7M442.6 356.0h.7M453.0 348.3h.7M430.3 341.5h.7M427.9 345.7h.7M450.7 358.3h.7M444.4 353.5h.7M439.1 345.2h.7M449.2 332.6h.7M440.8 340.3h.7M444.9 351.1h.7M444.4 357.4h.7M443.5 356.8h.7M444.7 330.3h.7M442.3 339.9h.7M439.3 328.5h.7M440.4 344.5h.7M432.5 346.8h.7M449.9 346.1h.7M448.7 338.7h.7M458.1 336.8h.7M431.5 350.4h.7M447.9 356.3h.7M449.3 353.4h.7M428.7 350.8h.7M437.1 330.7h.7M456.0 335.1h.7M448.4 352.6h.7M439.8 339.5h.7M454.5 344.8h.7M444.0 347.7h.7M445.6 351.2h.7M444.1 354.4h.7M442.2 336.2h.7M435.4 352.6h.7M434.5 350.1h.7M449.4 340.5h.7M442.3 336.9h.7M431.3 352.8h.7M444.5 337.8h.7M438.7 342.1h.7M439.6 342.3h.7M438.0 365.5h.7M438.0 337.1h.7M438.9 357.2h.7M440.6 352.4h.7M439.5 344.1h.7M455.5 346.7h.7M437.4 353.4h.7M430.0 337.2h.7M439.9 344.0h.7M443.3 336.9h.7M446.4 344.6h.7M440.2 349.8h.7M439.3 355.7h.7M434.7 350.6h.7M441.1 329.0h.7M433.6 344.4h.7M446.4 335.9h.7M437.3 343.8h.7M429.6 344.9h.7M451.0 352.7h.7M433.2 342.4h.7M435.9 331.0h.7M462.4 337.3h.7M445.1 342.4h.7M439.7 335.1h.7M432.8 347.1h.7M436.2 353.2h.7M437.5 350.7h.7M446.9 336.4h.7M453.1 343.2h.7M464.3 338.4h.7M451.5 350.9h.7M428.8 336.7h.7M429.2 355.7h.7M442.4 354.2h.7M432.5 354.6h.7M442.0 351.6h.7M447.9 346.7h.7M454.5 333.5h.7M439.0 355.5h.7M433.0 354.3h.7M442.7 349.1h.7M420.8 343.7h.7M448.4 336.3h.7M449.3 351.2h.7M416.0 352.4h.7M432.1 340.2h.7M427.9 351.7h.7M453.5 364.8h.7M455.2 340.8h.7M427.7 357.8h.7M449.2 346.0h.7M429.9 339.4h.7M440.1 359.2h.7M456.0 336.9h.7M426.4 348.7h.7M449.5 339.5h.7M443.2 353.8h.7M427.1 364.0h.7M455.1 345.1h.7M444.8 350.8h.7M435.8 353.9h.7M443.0 340.7h.7M441.4 344.7h.7M438.0 353.3h.7M449.3 353.1h.7M438.2 352.9h.7M439.8 360.7h.7M432.6 356.8h.7M437.4 334.0h.7M448.9 335.2h.7M434.4 347.7h.7M446.0 345.2h.7M445.9 348.5h.7M427.4 359.3h.7M455.1 340.0h.7M448.5 343.5h.7M434.8 346.0h.7M424.8 344.9h.7M448.2 353.8h.7M446.5 348.0h.7M436.4 355.6h.7M459.3 346.6h.7M457.9 345.1h.7M440.1 354.4h.7M443.4 344.9h.7M437.4 348.8h.7M442.0 334.2h.7M446.6 359.7h.7M442.7 365.1h.7M443.9 368.6h.7M445.4 354.4h.7M433.1 374.0h.7M443.2 354.1h.7M438.7 368.9h.7M450.6 346.8h.7M434.5 367.8h.7M435.3 362.0h.7M434.4 380.3h.7M443.3 361.6h.7M450.7 386.3h.7M444.3 367.9h.7M434.3 374.1h.7M436.6 350.4h.7M443.0 354.1h.7M449.8 351.1h.7M438.8 355.1h.7M439.4 362.5h.7M444.6 350.7h.7M435.9 355.6h.7M436.1 362.2h.7M439.5 356.4h.7M446.3 349.5h.7M442.0 359.5h.7M442.9 361.1h.7M437.8 364.7h.7M437.2 364.0h.7M447.8 364.4h.7M449.1 345.8h.7M448.1 359.9h.7M444.6 355.8h.7M451.7 342.9h.7M442.1 347.0h.7M438.7 368.1h.7M442.1 363.8h.7M448.9 343.9h.7M429.4 383.3h.7M430.9 368.0h.7M455.3 356.3h.7M439.6 372.9h.7M435.2 375.0h.7M437.9 357.6h.7M434.3 362.0h.7M442.1 379.7h.7M446.6 366.5h.7M439.7 380.9h.7M439.9 378.0h.7M432.7 375.9h.7M433.8 365.3h.7M439.3 344.7h.7M443.0 360.9h.7M429.6 371.3h.7M439.8 346.7h.7M436.3 376.9h.7M437.8 362.9h.7M439.8 360.9h.7M433.6 367.3h.7M428.0 375.5h.7M438.5 350.4h.7M430.9 373.4h.7M437.6 358.5h.7M437.0 367.9h.7M447.0 352.0h.7M428.3 364.5h.7M434.5 372.4h.7M447.5 359.6h.7M435.1 377.2h.7M437.7 352.8h.7M439.3 384.5h.7M440.3 355.5h.7M445.2 350.0h.7M447.7 363.0h.7M432.2 365.8h.7M438.1 356.3h.7M442.8 357.8h.7M451.3 355.2h.7M446.5 366.8h.7M443.3 368.3h.7M436.1 376.8h.7M446.7 367.7h.7M437.0 359.9h.7M447.8 354.9h.7M456.6 352.8h.7M433.2 375.7h.7M442.1 341.5h.7M436.8 343.3h.7M457.2 335.0h.7M435.2 363.8h.7M435.4 379.6h.7M438.9 349.4h.7M445.3 361.4h.7M431.5 380.2h.7M432.0 360.9h.7M449.8 348.7h.7M440.8 353.6h.7M438.6 343.3h.7M438.6 356.1h.7M446.4 352.4h.7M435.2 362.3h.7M428.4 377.7h.7M429.3 360.1h.7M442.1 357.6h.7M453.4 336.2h.7M442.7 378.7h.7M436.5 352.7h.7M446.9 375.5h.7M435.6 375.4h.7M444.7 359.6h.7M445.7 354.7h.7M444.6 355.9h.7M439.5 352.2h.7M440.2 361.5h.7M434.8 360.1h.7M438.1 379.0h.7M443.5 366.4h.7M448.8 361.8h.7M451.1 367.0h.7M445.1 357.1h.7M441.4 360.7h.7M435.8 350.9h.7M443.2 346.1h.7M445.0 376.1h.7M441.2 352.1h.7M436.5 372.2h.7M440.0 358.4h.7M442.2 348.9h.7M434.1 372.3h.7M436.0 372.9h.7M437.5 365.9h.7M439.6 376.2h.7M438.8 364.8h.7M433.4 370.3h.7M439.5 366.3h.7M427.7 380.5h.7M441.0 365.0h.7M443.0 370.4h.7M434.4 362.6h.7M442.1 345.7h.7M454.5 328.9h.7M443.9 354.2h.7M444.6 373.9h.7M452.4 344.1h.7M441.0 354.1h.7M431.9 371.5h.7M436.6 353.3h.7M438.5 358.0h.7M433.4 370.9h.7M443.9 363.0h.7M436.2 357.1h.7M426.1 382.7h.7M446.7 347.7h.7M431.9 358.0h.7M449.4 352.1h.7M437.8 365.5h.7M440.6 359.0h.7M439.5 369.8h.7M446.5 345.6h.7M439.7 362.3h.7M441.7 385.4h.7M444.8 365.9h.7M439.9 368.5h.7M448.2 367.6h.7M435.4 368.8h.7M442.8 349.3h.7M438.4 359.6h.7M446.2 357.6h.7M453.1 356.2h.7M437.8 367.5h.7M441.2 353.7h.7M442.9 346.1h.7M441.8 356.4h.7M441.2 354.7h.7M451.5 345.5h.7M445.6 358.4h.7M447.9 348.7h.7M432.6 376.7h.7M447.1 362.8h.7M416.4 401.8h.7M449.8 354.1h.7M434.9 372.7h.7M429.8 369.1h.7M444.4 372.6h.7M438.1 362.5h.7M432.0 368.9h.7M436.2 366.5h.7M435.8 371.2h.7M439.9 356.0h.7M444.2 364.2h.7M439.0 361.9h.7M445.7 362.6h.7M439.5 382.9h.7M437.5 352.2h.7M436.5 368.2h.7M429.5 391.5h.7M446.3 347.4h.7M442.9 347.4h.7M440.4 360.2h.7M450.3 334.7h.7M437.4 346.3h.7M437.5 361.9h.7M440.5 372.7h.7M434.8 362.1h.7M449.8 354.2h.7M434.5 368.1h.7M433.6 359.9h.7M437.2 350.3h.7M451.8 347.9h.7M442.0 358.5h.7M439.9 354.8h.7M443.2 355.5h.7M435.2 376.4h.7M450.1 357.9h.7M443.8 356.1h.7M441.3 368.8h.7M440.8 375.4h.7M449.5 356.4h.7M442.0 352.7h.7M437.8 358.3h.7M438.4 355.4h.7M442.9 363.3h.7M439.6 379.4h.7M442.1 360.2h.7M441.8 355.2h.7M445.3 348.9h.7M440.3 382.3h.7M442.3 350.1h.7M433.5 380.2h.7M428.8 389.6h.7M448.9 350.0h.7M442.2 356.1h.7M434.6 372.1h.7M436.3 372.3h.7M442.6 354.2h.7M441.0 362.3h.7M439.5 361.0h.7M448.2 348.0h.7M441.5 371.7h.7M443.0 355.9h.7M433.4 366.2h.7M428.3 369.3h.7M440.4 375.5h.7M444.5 368.9h.7M443.4 362.0h.7M430.6 365.8h.7M439.1 362.8h.7M432.7 354.3h.7M441.7 358.6h.7M440.6 360.0h.7M439.0 352.3h.7M446.0 361.2h.7M440.4 379.5h.7M436.0 374.6h.7M440.2 362.9h.7M446.0 357.3h.7M440.4 350.6h.7M442.3 364.6h.7M437.9 353.2h.7M446.6 358.1h.7M447.8 354.9h.7M474.4 350.6h.7M466.6 348.6h.7M471.7 356.9h.7M464.1 342.0h.7M478.5 357.3h.7M443.5 354.8h.7M487.5 353.2h.7M454.4 354.0h.7M468.3 341.1h.7M458.1 348.5h.7M457.1 362.4h.7M433.5 345.4h.7M450.9 362.4h.7M461.2 348.8h.7M459.0 364.1h.7M494.4 349.4h.7M446.7 350.2h.7M434.0 361.5h.7M459.3 360.3h.7M453.0 345.6h.7M427.4 356.6h.7M479.9 331.1h.7M445.2 351.9h.7M479.7 364.5h.7M489.5 350.2h.7M439.0 346.4h.7M471.0 350.0h.7M449.5 351.4h.7M465.0 369.1h.7M457.4 356.1h.7M467.5 356.5h.7M451.4 364.3h.7M484.7 352.7h.7M444.9 343.7h.7M459.3 350.1h.7M448.2 351.3h.7M437.0 351.9h.7M440.6 355.4h.7M422.2 348.8h.7M455.5 339.5h.7M455.3 349.8h.7M483.9 354.1h.7M455.8 358.2h.7M461.5 357.5h.7M455.5 353.8h.7M457.1 359.2h.7M491.1 361.0h.7M485.5 347.0h.7M488.6 345.6h.7M462.1 343.4h.7M477.9 335.7h.7M461.1 356.6h.7M444.1 356.7h.7M444.8 349.9h.7M468.2 361.7h.7M496.6 338.9h.7M435.1 347.5h.7M466.1 349.4h.7M441.1 345.8h.7M466.0 350.7h.7M495.6 337.5h.7M453.1 380.4h.7M442.3 361.9h.7M454.0 352.6h.7M482.5 344.0h.7M458.3 351.4h.7M463.0 364.8h.7M486.0 342.9h.7M483.3 336.0h.7M451.3 346.0h.7M452.2 353.1h.7M466.8 342.8h.7M468.7 344.6h.7M471.1 352.1h.7M444.0 345.1h.7M478.4 348.3h.7M467.1 347.4h.7M487.9 351.7h.7M450.9 353.6h.7M444.6 349.2h.7M456.5 342.8h.7M448.3 360.9h.7M447.8 350.3h.7M442.3 363.1h.7M446.8 358.4h.7M472.7 354.0h.7M454.3 333.4h.7M447.7 350.3h.7M438.7 343.6h.7M467.6 350.0h.7M479.4 352.5h.7M483.4 350.7h.7M460.0 352.4h.7M476.7 357.0h.7M473.1 345.6h.7M445.3 360.7h.7M479.6 340.5h.7M463.0 342.5h.7M463.9 368.0h.7M456.7 347.8h.7M461.5 347.0h.7M468.8 337.0h.7M474.7 343.1h.7M463.0 371.1h.7M482.6 350.1h.7M460.1 354.9h.7M477.6 376.7h.7M494.8 359.3h.7M449.3 364.1h.7M459.8 352.4h.7M456.7 348.4h.7M471.9 351.3h.7M474.7 345.2h.7M448.2 348.8h.7M458.2 354.2h.7M492.7 348.6h.7M458.4 371.8h.7M492.5 355.0h.7M478.8 334.3h.7M419.3 398.6h.7M420.4 389.6h.7M424.4 400.1h.7M421.9 398.8h.7M414.2 401.3h.7M423.1 392.0h.7M427.1 402.4h.7M417.6 398.3h.7M416.1 403.3h.7M422.6 396.8h.7M414.5 397.2h.7M419.4 398.5h.7M418.9 397.2h.7M420.8 396.0h.7M418.0 397.7h.7M416.0 388.0h.7M420.2 394.1h.7M416.0 398.1h.7M420.4 404.7h.7M418.7 398.6h.7M419.8 395.8h.7M416.5 389.6h.7M415.0 393.6h.7M417.7 396.3h.7M414.9 400.0h.7M421.4 392.9h.7M418.2 396.6h.7M422.1 404.3h.7M422.1 402.0h.7M424.0 401.9h.7M420.9 401.3h.7M423.2 399.5h.7M423.3 396.2h.7M417.1 398.5h.7M419.8 393.9h.7M415.1 394.4h.7M419.3 396.8h.7M421.3 398.9h.7M418.7 397.4h.7M416.7 395.7h.7M421.1 390.6h.7M419.4 395.1h.7M420.5 401.5h.7M420.0 403.2h.7M418.8 400.3h.7M414.8 322.0h.7M414.1 325.8h.7M426.0 331.8h.7M425.3 328.4h.7M415.5 331.4h.7M417.1 326.3h.7M437.1 329.2h.7M439.1 324.9h.7M425.3 323.1h.7M425.1 324.8h.7M432.4 328.1h.7M416.1 326.9h.7M430.1 323.2h.7M420.4 328.5h.7M415.1 325.4h.7M417.0 329.6h.7M428.0 323.4h.7M430.5 331.2h.7M419.6 327.6h.7M426.8 328.6h.7M439.2 326.9h.7M419.8 327.2h.7M421.5 321.5h.7M428.9 327.5h.7M415.7 324.2h.7M410.0 327.1h.7M424.5 327.1h.7M429.7 325.9h.7M413.3 326.8h.7M434.3 330.5h.7M422.2 332.0h.7M415.0 325.0h.7M419.3 332.4h.7M422.7 324.1h.7M424.0 323.8h.7M416.5 327.4h.7M421.4 325.1h.7M422.3 324.6h.7M432.3 327.6h.7M424.6 330.6h.7M436.7 322.4h.7M423.3 323.2h.7M427.2 325.0h.7M416.9 325.9h.7M431.2 323.9h.7M425.1 325.8h.7M419.7 327.0h.7M436.0 325.4h.7M423.9 327.7h.7M410.4 325.8h.7M426.5 327.7h.7M423.0 323.8h.7M419.4 328.2h.7M416.6 329.3h.7M425.4 331.2h.7M409.9 326.5h.7M410.0 323.4h.7" stroke="#333" stroke-width=".7" fill="none"/>
<path d="M419.4 397.2C418.5 397.3 415.6 390.6 415.0 389.2C414.4 387.7 412.6 381.5 412.3 379.5C412.0 377.6 411.4 368.4 411.5 366.1C411.7 363.7 413.6 353.3 414.2 351.1C414.8 348.9 418.1 341.3 418.8 339.5C419.6 337.7 422.3 330.4 423.3 329.5C424.2 328.6 428.9 328.8 430.0 328.8C431.1 328.7 436.5 328.0 436.7 328.6C437.0 329.1 433.5 334.1 433.1 335.3C432.7 336.5 431.9 341.7 431.9 343.0C432.0 344.3 433.3 349.8 433.8 350.7C434.4 351.6 438.6 352.6 438.8 353.8C439.1 354.9 437.5 362.3 436.9 364.2C436.4 366.0 433.2 373.6 432.3 375.7C431.4 377.7 427.6 387.0 426.5 388.8C425.5 390.6 420.4 397.2 419.4 397.2Z" fill="#fff" stroke="#222" stroke-width=".6"/>
<ellipse cx="421.1" cy="369.6" rx="8.7" ry="22.5" fill="#000" fill-opacity=".035" stroke="#2a2a2a" stroke-width=".55"/>
<ellipse cx="421.1" cy="369.1" rx="7.8" ry="20.1" fill="#000" fill-opacity=".035" stroke="#2a2a2a" stroke-width=".55"/>
<ellipse cx="421.1" cy="368.7" rx="6.9" ry="17.8" fill="#000" fill-opacity=".035" stroke="#2a2a2a" stroke-width=".55"/>
<ellipse cx="421.1" cy="368.2" rx="6.0" ry="15.4" fill="#000" fill-opacity=".035" stroke="#2a2a2a" stroke-width=".55"/>
<ellipse cx="421.1" cy="367.7" rx="5.0" ry="13.1" fill="#000" fill-opacity=".035" stroke="#2a2a2a" stroke-width=".55"/>
<ellipse cx="421.1" cy="367.3" rx="4.1" ry="10.7" fill="#000" fill-opacity=".035" stroke="#2a2a2a" stroke-width=".55"/>
<ellipse cx="421.1" cy="366.8" rx="3.2" ry="8.3" fill="#000" fill-opacity=".035" stroke="#2a2a2a" stroke-width=".55"/>
<ellipse cx="421.1" cy="366.3" rx="2.3" ry="6.0" fill="#000" fill-opacity=".035" stroke="#2a2a2a" stroke-width=".55"/>
<ellipse cx="421.1" cy="365.8" rx="1.4" ry="3.6" fill="#000" fill-opacity=".035" stroke="#2a2a2a" stroke-width=".55"/>
<ellipse cx="421.3" cy="365.1" rx="1.6" ry="1.3" fill="#111"/>
<line x1="408.8" y1="341.5" x2="502.5" y2="341.5" stroke="#2a2a2a" stroke-width="1"/>
<line x1="408.8" y1="364.5" x2="502.5" y2="364.5" stroke="#777" stroke-width="1"/>
<path d="M408.8 320.5H502.5M502.0 320.5V405.8" stroke="#222" stroke-width="1" fill="none"/>
<path d="M409.3 320.5V406.0H502.5" stroke="#000" stroke-width="1.2" fill="none"/>
<path d="M405.8 402.3H408.8M405.8 385.8H408.8M406.8 380.1H408.8M406.8 376.7H408.8M406.8 374.4H408.8M406.8 372.5H408.8M406.8 371.0H408.8M406.8 369.7H408.8M406.8 368.6H408.8M406.8 367.7H408.8M405.8 365.3H408.8M406.8 359.6H408.8M406.8 356.2H408.8M406.8 353.9H408.8M406.8 352.0H408.8M406.8 350.5H408.8M406.8 349.2H408.8M406.8 348.1H408.8M406.8 347.2H408.8M405.8 346.3H408.8M406.8 340.6H408.8M406.8 337.2H408.8M406.8 334.9H408.8M406.8 333.0H408.8M406.8 331.5H408.8M406.8 330.2H408.8M406.8 329.1H408.8M406.8 328.2H408.8M405.8 328.8H408.8M406.8 323.1H408.8M420.3 405.8V408.8M427.8 405.8V408.8M434.4 405.8V407.40000000000003M438.3 405.8V407.40000000000003M441.0 405.8V407.40000000000003M443.2 405.8V407.40000000000003M444.9 405.8V407.40000000000003M446.4 405.8V407.40000000000003M447.7 405.8V407.40000000000003M448.8 405.8V407.40000000000003M450.3 405.8V408.8M456.9 405.8V407.40000000000003M460.8 405.8V407.40000000000003M463.5 405.8V407.40000000000003M465.7 405.8V407.40000000000003M467.4 405.8V407.40000000000003M468.9 405.8V407.40000000000003M470.2 405.8V407.40000000000003M471.3 405.8V407.40000000000003M472.3 405.8V408.8M478.9 405.8V407.40000000000003M482.8 405.8V407.40000000000003M485.5 405.8V407.40000000000003M487.7 405.8V407.40000000000003M489.4 405.8V407.40000000000003M490.9 405.8V407.40000000000003M492.2 405.8V407.40000000000003M493.3 405.8V407.40000000000003M494.3 405.8V408.8M500.9 405.8V407.40000000000003M410.8 405.8V407.40000000000003M412.8 405.8V407.40000000000003M414.8 405.8V407.40000000000003M416.8 405.8V407.40000000000003M422.3 405.8V407.40000000000003M424.3 405.8V407.40000000000003M425.8 405.8V407.40000000000003" stroke="#000" stroke-width=".9" fill="none"/>
<text x="427.8" y="414.5" font-size="3.8" text-anchor="middle" fill="#111" class="t">10<tspan font-size="2.8" dy="-1.6">2</tspan></text>
<text x="450.3" y="414.5" font-size="3.8" text-anchor="middle" fill="#111" class="t">10<tspan font-size="2.8" dy="-1.6">3</tspan></text>
<text x="472.3" y="414.5" font-size="3.8" text-anchor="middle" fill="#111" class="t">10<tspan font-size="2.8" dy="-1.6">4</tspan></text>
<text x="494.3" y="414.5" font-size="3.8" text-anchor="middle" fill="#111" class="t">10<tspan font-size="2.8" dy="-1.6">5</tspan></text>
<text x="420.3" y="414.5" font-size="3.8" text-anchor="middle" fill="#111" class="t">0</text>
<text x="407.8" y="417.8" font-size="3.6" text-anchor="middle" fill="#111" class="t">-182</text>
<text x="403.8" y="385.8" font-size="3.8" text-anchor="middle" transform="rotate(-90 403.8 385.8)" fill="#111" class="t">10<tspan font-size="2.8" dy="-1.6">2</tspan></text>
<text x="403.8" y="365.3" font-size="3.8" text-anchor="middle" transform="rotate(-90 403.8 365.3)" fill="#111" class="t">10<tspan font-size="2.8" dy="-1.6">3</tspan></text>
<text x="403.8" y="346.3" font-size="3.8" text-anchor="middle" transform="rotate(-90 403.8 346.3)" fill="#111" class="t">10<tspan font-size="2.8" dy="-1.6">4</tspan></text>
<text x="403.8" y="328.8" font-size="3.8" text-anchor="middle" transform="rotate(-90 403.8 328.8)" fill="#111" class="t">10<tspan font-size="2.8" dy="-1.6">5</tspan></text>
<text x="402.3" y="403.3" font-size="3.4" text-anchor="middle" transform="rotate(-90 402.3 403.3)" fill="#111" class="t">-122</text>
</g>
<text x="1" y="473.2" font-size="18" text-anchor="start" >D</text>
<line x1="86.5" y1="505.4" x2="86.5" y2="580.0" stroke="#808080" stroke-width="1"/>
<line x1="83.0" y1="579.5" x2="86.5" y2="579.5" stroke="#808080" stroke-width="1"/>
<text x="77.8" y="583.8" font-size="12.2" text-anchor="end" >0</text>
<line x1="83.0" y1="564.65" x2="86.5" y2="564.65" stroke="#808080" stroke-width="1"/>
<text x="77.8" y="568.9499999999999" font-size="12.2" text-anchor="end" >20</text>
<line x1="83.0" y1="549.8" x2="86.5" y2="549.8" stroke="#808080" stroke-width="1"/>
<text x="77.8" y="554.0999999999999" font-size="12.2" text-anchor="end" >40</text>
<line x1="83.0" y1="534.95" x2="86.5" y2="534.95" stroke="#808080" stroke-width="1"/>
<text x="77.8" y="539.25" font-size="12.2" text-anchor="end" >60</text>
<line x1="83.0" y1="520.1" x2="86.5" y2="520.1" stroke="#808080" stroke-width="1"/>
<text x="77.8" y="524.4" font-size="12.2" text-anchor="end" >80</text>
<line x1="83.0" y1="505.25" x2="86.5" y2="505.25" stroke="#808080" stroke-width="1"/>
<text x="77.8" y="509.55" font-size="12.2" text-anchor="end" >100</text>
<line x1="83.0" y1="579.5" x2="382.7" y2="579.5" stroke="#808080" stroke-width="1"/>
<line x1="86.5" y1="579.5" x2="86.5" y2="583.5" stroke="#808080" stroke-width="1"/>
<line x1="160.6" y1="579.5" x2="160.6" y2="583.5" stroke="#808080" stroke-width="1"/>
<line x1="234.7" y1="579.5" x2="234.7" y2="583.5" stroke="#808080" stroke-width="1"/>
<line x1="308.79999999999995" y1="579.5" x2="308.79999999999995" y2="583.5" stroke="#808080" stroke-width="1"/>
<line x1="382.9" y1="579.5" x2="382.9" y2="583.5" stroke="#808080" stroke-width="1"/>
<text x="53.8" y="535.5" font-size="12" text-anchor="middle" transform="rotate(-90 53.8 535.5)" >% in total live cells</text>
<rect x="98.5" y="536.5" width="17.0" height="43.0" fill="#000" stroke="#000" stroke-width="1"/>
<line x1="107.5" y1="536.5" x2="107.5" y2="534.5" stroke="#000" stroke-width="1"/>
<line x1="104.5" y1="534.5" x2="110.5" y2="534.5" stroke="#000" stroke-width="1"/>
<rect x="115.5" y="555.5" width="16.0" height="24.0" fill="#808080" stroke="#000" stroke-width="1"/>
<line x1="124.5" y1="555.5" x2="124.5" y2="551.5" stroke="#000" stroke-width="1"/>
<line x1="121.5" y1="551.5" x2="127.5" y2="551.5" stroke="#000" stroke-width="1"/>
<rect x="131.5" y="572.5" width="17.0" height="7.0" fill="#fff" stroke="#000" stroke-width="1"/>
<line x1="140.5" y1="572.5" x2="140.5" y2="568.5" stroke="#000" stroke-width="1"/>
<line x1="137.5" y1="568.5" x2="143.5" y2="568.5" stroke="#000" stroke-width="1"/>
<text x="126.55" y="595.5" font-size="12.35" text-anchor="end" transform="rotate(-45 126.55 595.5)" >MIP</text>
<rect x="172.5" y="539.5" width="17.0" height="40.0" fill="#000" stroke="#000" stroke-width="1"/>
<line x1="181.5" y1="539.5" x2="181.5" y2="526.5" stroke="#000" stroke-width="1"/>
<line x1="178.5" y1="526.5" x2="184.5" y2="526.5" stroke="#000" stroke-width="1"/>
<rect x="189.5" y="550.5" width="16.0" height="29.0" fill="#808080" stroke="#000" stroke-width="1"/>
<line x1="198.5" y1="550.5" x2="198.5" y2="535.5" stroke="#000" stroke-width="1"/>
<line x1="195.5" y1="535.5" x2="201.5" y2="535.5" stroke="#000" stroke-width="1"/>
<rect x="205.5" y="574.5" width="17.0" height="5.0" fill="#fff" stroke="#000" stroke-width="1"/>
<line x1="214.5" y1="574.5" x2="214.5" y2="571.5" stroke="#000" stroke-width="1"/>
<line x1="211.5" y1="571.5" x2="217.5" y2="571.5" stroke="#000" stroke-width="1"/>
<text x="200.64999999999998" y="595.5" font-size="12.35" text-anchor="end" transform="rotate(-45 200.64999999999998 595.5)" >Runx1bEx6+</text>
<rect x="246.5" y="523.5" width="17.0" height="56.0" fill="#000" stroke="#000" stroke-width="1"/>
<line x1="255.5" y1="523.5" x2="255.5" y2="516.5" stroke="#000" stroke-width="1"/>
<line x1="252.5" y1="516.5" x2="258.5" y2="516.5" stroke="#000" stroke-width="1"/>
<rect x="263.5" y="565.5" width="16.0" height="14.0" fill="#808080" stroke="#000" stroke-width="1"/>
<line x1="272.5" y1="565.5" x2="272.5" y2="560.5" stroke="#000" stroke-width="1"/>
<line x1="269.5" y1="560.5" x2="275.5" y2="560.5" stroke="#000" stroke-width="1"/>
<rect x="279.5" y="576.5" width="17.0" height="3.0" fill="#fff" stroke="#000" stroke-width="1"/>
<line x1="288.5" y1="576.5" x2="288.5" y2="574.5" stroke="#000" stroke-width="1"/>
<line x1="285.5" y1="574.5" x2="291.5" y2="574.5" stroke="#000" stroke-width="1"/>
<text x="274.75" y="595.5" font-size="12.35" text-anchor="end" transform="rotate(-45 274.75 595.5)" >Runx1bEx6-</text>
<rect x="320.5" y="556.5" width="17.0" height="23.0" fill="#000" stroke="#000" stroke-width="1"/>
<line x1="329.5" y1="556.5" x2="329.5" y2="540.5" stroke="#000" stroke-width="1"/>
<line x1="326.5" y1="540.5" x2="332.5" y2="540.5" stroke="#000" stroke-width="1"/>
<rect x="337.5" y="563.5" width="16.0" height="16.0" fill="#808080" stroke="#000" stroke-width="1"/>
<line x1="346.5" y1="563.5" x2="346.5" y2="558.5" stroke="#000" stroke-width="1"/>
<line x1="343.5" y1="558.5" x2="349.5" y2="558.5" stroke="#000" stroke-width="1"/>
<rect x="353.5" y="546.5" width="17.0" height="33.0" fill="#fff" stroke="#000" stroke-width="1"/>
<line x1="362.5" y1="546.5" x2="362.5" y2="533.5" stroke="#000" stroke-width="1"/>
<line x1="359.5" y1="533.5" x2="365.5" y2="533.5" stroke="#000" stroke-width="1"/>
<text x="348.84999999999997" y="595.5" font-size="12.35" text-anchor="end" transform="rotate(-45 348.84999999999997 595.5)" >Runx1bEx6e</text>
<path d="M147.5 485.0V473.5H360.5V485.0" fill="none" stroke="#3a3a3a" stroke-width="1"/>
<path d="M215.5 507.0V495.5H360.5V507.0" fill="none" stroke="#3a3a3a" stroke-width="1"/>
<path d="M296.5 525.0V513.5H360.5V525.0" fill="none" stroke="#3a3a3a" stroke-width="1"/>
<text x="247" y="472.2" font-size="16" text-anchor="middle" >*</text>
<text x="288.7" y="494.2" font-size="16" text-anchor="middle" >*</text>
<text x="331.7" y="514" font-size="16" text-anchor="middle" >*</text>
<rect x="380.6" y="508.0" width="6.8" height="6.8" fill="#000" stroke="#000" stroke-width="1"/>
<text x="389.5" y="515.3" font-size="12.4" text-anchor="start" >CD11b negative/low</text>
<rect x="380.6" y="527.6" width="6.8" height="6.8" fill="#808080" stroke="#000" stroke-width="1"/>
<text x="389.5" y="534.9" font-size="12.4" text-anchor="start" >CD11b medium</text>
<rect x="380.6" y="547.2" width="6.8" height="6.8" fill="#fff" stroke="#000" stroke-width="1"/>
<text x="389.5" y="554.5" font-size="12.4" text-anchor="start" >CD11b high</text></svg></body></html>
